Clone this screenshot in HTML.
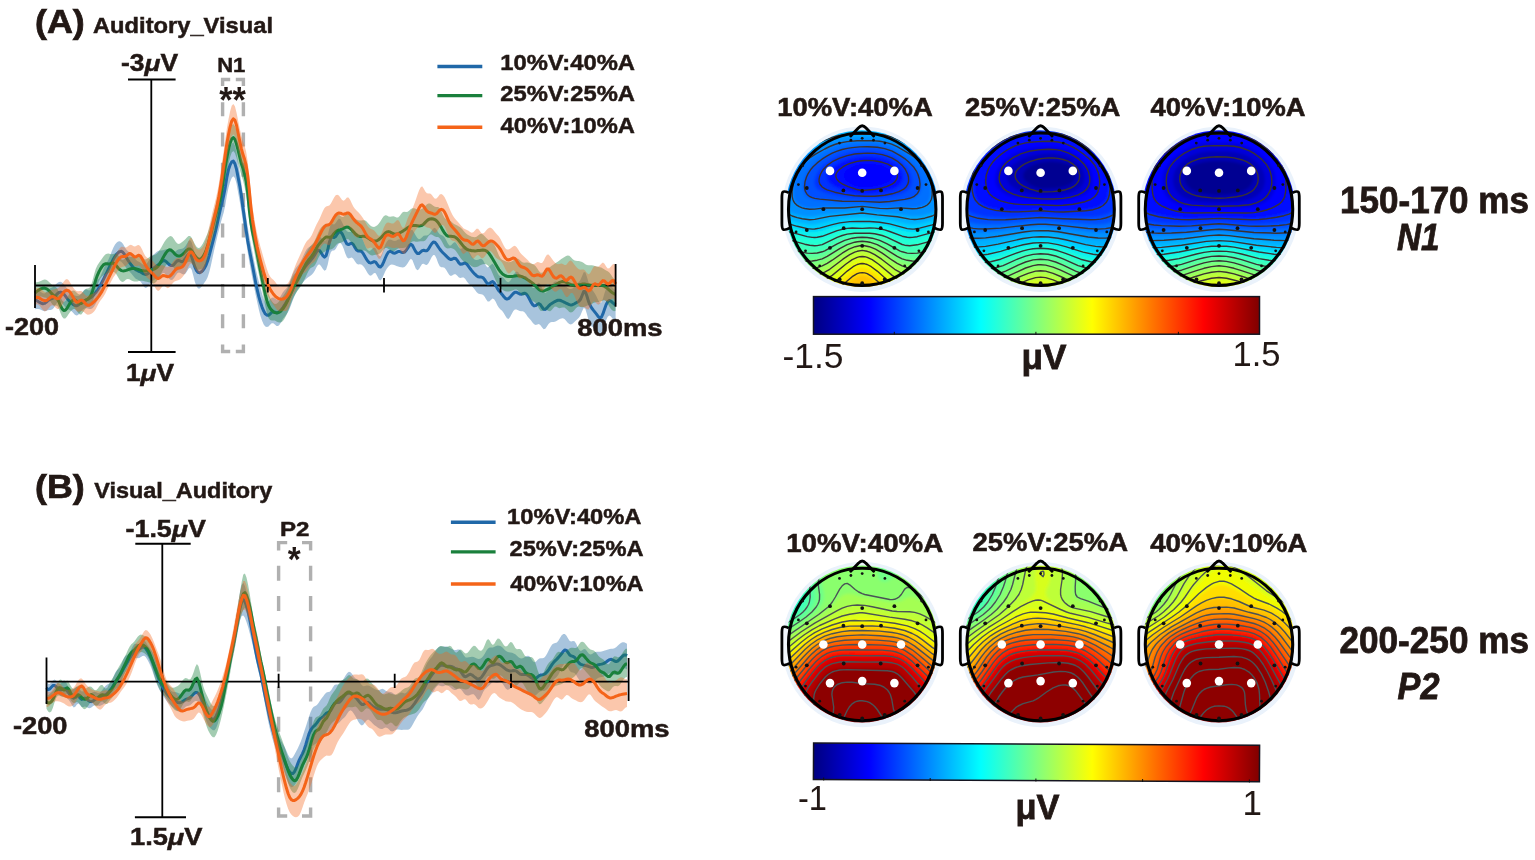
<!DOCTYPE html>
<html><head><meta charset="utf-8"><title>ERP figure</title>
<style>html,body{margin:0;padding:0;background:#fff}svg{display:block}text{font-family:"Liberation Sans",sans-serif}</style>
</head><body>
<svg width="1535" height="860" viewBox="0 0 1535 860">
<rect width="1535" height="860" fill="#fff"/>
<g stroke="#b0b0b0" stroke-width="3.4" fill="none"><path d="M222.6 102.2V116.2M222.6 132.5V146.5M222.6 162.8V176.8M222.6 193.1V207.1M222.6 223.4V237.4M222.6 253.7V267.7M222.6 284V298M222.6 314.3V328.3M243.4 102.2V116.2M243.4 132.5V146.5M243.4 162.8V176.8M243.4 193.1V207.1M243.4 223.4V237.4M243.4 253.7V267.7M243.4 284V298M243.4 314.3V328.3M222.6 85.9V79.5H230.2M243.4 85.9V79.5H235.8M222.6 344.6V351.5H230.2M243.4 344.6V351.5H235.8"/></g>
<g stroke="#b0b0b0" stroke-width="3.4" fill="none"><path d="M278.6 565.8V580.8M278.6 596V611M278.6 626.2V641.2M278.6 656.4V671.4M278.6 686.6V701.6M278.6 716.8V731.8M278.6 747V762M278.6 777.2V792.2M310.6 565.8V580.8M310.6 596V611M310.6 626.2V641.2M310.6 656.4V671.4M310.6 686.6V701.6M310.6 716.8V731.8M310.6 747V762M310.6 777.2V792.2M278.6 550.6V542.6H287.2M310.6 550.6V542.6H302M278.6 807.4V816H287.2M310.6 807.4V816H302"/></g>
<path d="M34.9 292.0l1.6 -0.9 1.6 -0.4 1.6 0.3 1.6 1.2 1.6 1.1 1.6 0.1 1.6 -1.2 1.6 -1.9 1.6 -1.5 1.6 -0.9 1.6 -0.7 1.6 -1.1 1.6 -1.6 1.6 -1.6 1.6 -1 1.6 -0.1 1.6 0.6 1.6 1.5 1.6 2 1.6 2.4 1.6 2.2 1.6 1.9 1.6 1.5 1.6 1.1 1.6 0.6 1.6 0.4 1.6 -0.1 1.6 -0.7 1.6 -1.7 1.6 -2.1 1.6 -1.7 1.6 -0.4 1.6 0.7 1.6 0.5 1.6 -1.2 1.6 -3.1 1.6 -3.4 1.6 -2 1.6 -1 1.6 -1.1 1.6 -2.5 1.6 -3.7 1.6 -3.9 1.6 -3.3 1.6 -2.8 1.6 -3.1 1.6 -3.7 1.6 -4.2 1.6 -3.8 1.6 -3 1.6 -2 1.6 -1.2 1.6 -0.2 1.6 0.7 1.6 1.8 1.6 2.7 1.6 2.7 1.6 1.9 1.6 1.1 1.6 1 1.6 1.8 1.6 2.3 1.6 2.2 1.6 1.5 1.6 0.8 1.6 0.9 1.6 1.2 1.6 1 1.6 0.1 1.6 -1.5 1.6 -2.5 1.6 -2.5 1.6 -2 1.6 -1.7 1.6 -1.4 1.6 -1.3 1.6 -1 1.6 -0.5 1.6 -0.2 1.6 -0.1 1.6 -0.5 1.6 -0.5 1.6 0 1.6 0.7 1.6 1.2 1.6 1 1.6 0.1 1.6 -1 1.6 -1.2 1.6 -0.9 1.6 -0.3 1.6 -0.2 1.6 -0.8 1.6 -1.7 1.6 -2.4 1.6 -2.7 1.6 -1.1 1.6 2.5 1.6 5.4 1.6 5.8 1.6 4.3 1.6 2.4 1.6 0.2 1.6 -2 1.6 -3.3 1.6 -3.6 1.6 -3.2 1.6 -3.2 1.6 -4 1.6 -5.2 1.6 -5.9 1.6 -6.3 1.6 -6.7 1.6 -7.5 1.6 -8.3 1.6 -8.4 1.6 -7.8 1.6 -6.9 1.6 -7.6 1.6 -9 1.6 -7.4 1.6 -5.9 1.6 -4.5 1.6 -1.7 1.6 3.2 1.6 6.9 1.6 10 1.6 9.7 1.6 10.8 1.6 12 1.6 10.6 1.6 10.8 1.6 10.6 1.6 9.4 1.6 8.3 1.6 8.1 1.6 8.3 1.6 7.8 1.6 6.9 1.6 6.3 1.6 6 1.6 5.8 1.6 5.1 1.6 3.1 1.6 0.8 1.6 -1.2 1.6 -2.1 1.6 -1.7 1.6 -0.3 1.6 1.1 1.6 1.1 1.6 -0.2 1.6 -1.7 1.6 -2.7 1.6 -2.7 1.6 -2 1.6 -1.6 1.6 -2.1 1.6 -3.5 1.6 -4.4 1.6 -4.4 1.6 -3.4 1.6 -2.6 1.6 -2.1 1.6 -2 1.6 -2.5 1.6 -3.1 1.6 -3.5 1.6 -3.4 1.6 -2.6 1.6 -1.6 1.6 -1 1.6 -1.1 1.6 -1.5 1.6 -2.4 1.6 -2.7 1.6 -2.1 1.6 -0.1 1.6 1.5 1.6 1.9 1.6 1.1 1.6 -1 1.6 -4.6 1.6 -6.8 1.6 -4.1 1.6 -0.5 1.6 0.3 1.6 -1.3 1.6 -2.7 1.6 -1.9 1.6 0.8 1.6 2.9 1.6 3.6 1.6 3.3 1.6 2.2 1.6 0.8 1.6 -0.1 1.6 0.1 1.6 1.1 1.6 1.6 1.6 1.1 1.6 0.2 1.6 0 1.6 1 1.6 2.9 1.6 4.1 1.6 3.7 1.6 2.3 1.6 0.9 1.6 -0.7 1.6 -1.7 1.6 -1.1 1.6 1.1 1.6 3.5 1.6 3.5 1.6 0.8 1.6 -3 1.6 -4.6 1.6 -4.4 1.6 -3 1.6 -1.6 1.6 -0.4 1.6 0.6 1.6 0.7 1.6 0.2 1.6 -0.5 1.6 -0.8 1.6 -0.4 1.6 0 1.6 0 1.6 -0.5 1.6 -1.3 1.6 -2.3 1.6 -3.1 1.6 -2.2 1.6 0.3 1.6 2.4 1.6 2.9 1.6 2.5 1.6 1.3 1.6 -0.4 1.6 -1.6 1.6 -1.4 1.6 -0.3 1.6 0 1.6 -0.7 1.6 -1.7 1.6 -2.5 1.6 -2.2 1.6 -0.6 1.6 1.7 1.6 2.7 1.6 2.1 1.6 0.8 1.6 0.6 1.6 1.5 1.6 2.9 1.6 3.2 1.6 2.2 1.6 0 1.6 -1.7 1.6 -1.5 1.6 0.3 1.6 2.3 1.6 2.7 1.6 1.3 1.6 -0.7 1.6 -1.5 1.6 -0.7 1.6 1.1 1.6 2.9 1.6 3.4 1.6 3.1 1.6 2.1 1.6 1.2 1.6 0.3 1.6 -0.3 1.6 -0.8 1.6 -0.3 1.6 1.3 1.6 3 1.6 3.1 1.6 1.4 1.6 -0.9 1.6 -1.9 1.6 -0.9 1.6 1.6 1.6 3.4 1.6 3.8 1.6 2.6 1.6 1.2 1.6 0.6 1.6 1.1 1.6 1.9 1.6 1.8 1.6 0.5 1.6 -1.3 1.6 -2.5 1.6 -2.9 1.6 -2.8 1.6 -1.4 1.6 0.7 1.6 2.3 1.6 2 1.6 0.5 1.6 -0.8 1.6 0 1.6 2 1.6 3.6 1.6 3.8 1.6 2.2 1.6 0.2 1.6 -1.9 1.6 -2.3 1.6 -1 1.6 1.7 1.6 3.7 1.6 3.5 1.6 1.4 1.6 -1 1.6 -2.3 1.6 -2.4 1.6 -2.4 1.6 -2.1 1.6 -1.3 1.6 0 1.6 1 1.6 1.1 1.6 0.7 1.6 0.6 1.6 0.8 1.6 1.1 1.6 1.2 1.6 0.9 1.6 0.2 1.6 -0.6 1.6 -1.6 1.6 -2 1.6 -1.6 1.6 -1.4 1.6 -2.1 1.6 -3.7 1.6 -3.8 1.6 0 1.6 4.5 1.6 5.5 1.6 3.9 1.6 2.8 1.6 2.3 1.6 2.3 1.6 2.9 1.6 3.4 1.6 2.7 1.6 -0.2 1.6 -3.7 1.6 -5.4 1.6 -4.9 1.6 -3.3 1.6 -0.8 1.6 1.3 1.6 2.1 1.6 1.9 1.5 0.4 0 31.6 -1.5 -0.9 -1.6 -2.1 -1.6 -2.2 -1.6 -0.9 -1.6 1.2 -1.6 3.6 -1.6 4.8 -1.6 5 -1.6 3.4 -1.6 0.5 -1.6 -1.8 -1.6 -2.1 -1.6 -1.4 -1.6 -1 -1.6 -1.3 -1.6 -2.3 -1.6 -4.1 -1.6 -6 -1.6 -5.3 -1.6 -0.8 -1.6 3.4 -1.6 3.9 -1.6 2.5 -1.6 1.6 -1.6 1.4 -1.6 1.6 -1.6 1.4 -1.6 0.7 -1.6 -0.4 -1.6 -1.3 -1.6 -1.9 -1.6 -1.7 -1.6 -0.8 -1.6 0.1 -1.6 0.7 -1.6 0.9 -1.6 1 -1.6 0.8 -1.6 0.2 -1.6 0 -1.6 0.4 -1.6 1.6 -1.6 2.6 -1.6 2.2 -1.6 0.4 -1.6 -1.7 -1.6 -2.3 -1.6 -1.2 -1.6 0.4 -1.6 0.6 -1.6 -0.7 -1.6 -1.9 -1.6 -2.1 -1.6 -1.7 -1.6 -1.9 -1.6 -2.4 -1.6 -2.1 -1.6 -1 -1.6 0 -1.6 -0.1 -1.6 -0.8 -1.6 -0.9 -1.6 0 -1.6 1.6 -1.6 3 -1.6 3.1 -1.6 1.8 -1.6 -0.6 -1.6 -2.5 -1.6 -2.9 -1.6 -2.1 -1.6 -1.3 -1.6 -1.7 -1.6 -2.6 -1.6 -3.4 -1.6 -2.6 -1.6 -0.6 -1.6 1.3 -1.6 1.6 -1.6 -0.1 -1.6 -2.2 -1.6 -2.7 -1.6 -1.8 -1.6 -0.5 -1.6 -0.2 -1.6 -0.6 -1.6 -1.5 -1.6 -2.1 -1.6 -2.1 -1.6 -1.7 -1.6 -1.1 -1.6 -1.3 -1.6 -2.1 -1.6 -2.6 -1.6 -1.5 -1.6 0 -1.6 0.6 -1.6 -0.5 -1.6 -1.7 -1.6 -1.5 -1.6 0 -1.6 1 -1.6 0.7 -1.6 -0.9 -1.6 -2.5 -1.6 -2.8 -1.6 -2 -1.6 -0.6 -1.6 0 -1.6 -1 -1.6 -3.2 -1.6 -4.4 -1.6 -3.3 -1.6 -0.3 -1.6 2.1 -1.6 3.2 -1.6 3 -1.6 1.8 -1.6 -0.3 -1.6 -1.1 -1.6 0.3 -1.6 2.4 -1.6 2.8 -1.6 1 -1.6 -1.8 -1.6 -4 -1.6 -4.2 -1.6 -1.5 -1.6 1.7 -1.6 2.9 -1.6 2.3 -1.6 1.4 -1.6 0.5 -1.6 -0.2 -1.6 -0.4 -1.6 -0.5 -1.6 -0.5 -1.6 -0.7 -1.6 -0.5 -1.6 -0.2 -1.6 0.6 -1.6 1.3 -1.6 2 -1.6 2.9 -1.6 3.6 -1.6 3.6 -1.6 2 -1.6 -1.1 -1.6 -3.2 -1.6 -2.9 -1.6 -0.4 -1.6 1.5 -1.6 1.3 -1.6 -0.5 -1.6 -2 -1.6 -2.8 -1.6 -2.6 -1.6 -2.1 -1.6 -1.2 -1.6 -0.2 -1.6 0.1 -1.6 -0.9 -1.6 -2.3 -1.6 -2.5 -1.6 -1.1 -1.6 0.5 -1.6 0.5 -1.6 -1.3 -1.6 -3.9 -1.6 -4.7 -1.6 -3.8 -1.6 -1.9 -1.6 0.6 -1.6 2.5 -1.6 2.9 -1.6 1.4 -1.6 0.2 -1.6 1.4 -1.6 5.1 -1.6 7.6 -1.6 5.1 -1.6 0.9 -1.6 -1.6 -1.6 -2.7 -1.6 -1.9 -1.6 0.2 -1.6 2.5 -1.6 3.2 -1.6 2.7 -1.6 1.7 -1.6 1.2 -1.6 1.1 -1.6 1.1 -1.6 1.5 -1.6 1.8 -1.6 2 -1.6 2.3 -1.6 2.3 -1.6 2.5 -1.6 2.9 -1.6 3.5 -1.6 4 -1.6 4.5 -1.6 4.1 -1.6 3.2 -1.6 2.3 -1.6 1.8 -1.6 2.2 -1.6 2.8 -1.6 2.6 -1.6 1.5 -1.6 -0.1 -1.6 -1.3 -1.6 -1.3 -1.6 0 -1.6 1.5 -1.6 1.6 -1.6 0.7 -1.6 -0.6 -1.6 -2.1 -1.6 -3.6 -1.6 -4.9 -1.6 -6.1 -1.6 -7.2 -1.6 -7.7 -1.6 -8 -1.6 -8.1 -1.6 -8.4 -1.6 -8.7 -1.6 -9.5 -1.6 -10.5 -1.6 -10.2 -1.6 -9.7 -1.6 -10.9 -1.6 -9.8 -1.6 -8.7 -1.6 -8.8 -1.6 -5.5 -1.6 -1.9 -1.6 1.7 -1.6 4.1 -1.6 5.8 -1.6 7.8 -1.6 9.6 -1.6 7.4 -1.6 5.5 -1.6 5.6 -1.6 6.2 -1.6 6.7 -1.6 6.8 -1.6 7.1 -1.6 7.5 -1.6 7.5 -1.6 6.6 -1.6 4.8 -1.6 3.3 -1.6 2.4 -1.6 2.3 -1.6 2.2 -1.6 1.4 -1.6 0 -1.6 -2.2 -1.6 -4.4 -1.6 -6.2 -1.6 -5.9 -1.6 -2.4 -1.6 1.4 -1.6 2.8 -1.6 2.1 -1.6 0.8 -1.6 -0.4 -1.6 -1 -1.6 -0.6 -1.6 0.8 -1.6 2.2 -1.6 2.5 -1.6 1.7 -1.6 0.3 -1.6 -0.9 -1.6 -1.9 -1.6 -2.3 -1.6 -1.7 -1.6 -0.1 -1.6 1.5 -1.6 2 -1.6 1.4 -1.6 0.8 -1.6 0.7 -1.6 0.9 -1.6 1.3 -1.6 1.8 -1.6 2.2 -1.6 1.8 -1.6 0.4 -1.6 -1.5 -1.6 -2.6 -1.6 -2.3 -1.6 -1.2 -1.6 -0.7 -1.6 -0.9 -1.6 -1.7 -1.6 -2 -1.6 -1.9 -1.6 -1.7 -1.6 -1.6 -1.6 -2 -1.6 -2.2 -1.6 -2.2 -1.6 -1.6 -1.6 -0.7 -1.6 0.6 -1.6 1.9 -1.6 3.1 -1.6 3.5 -1.6 3.5 -1.6 3 -1.6 2.7 -1.6 2.3 -1.6 2.3 -1.6 2.6 -1.6 3 -1.6 3.4 -1.6 3.7 -1.6 3.7 -1.6 3.4 -1.6 2.7 -1.6 1.7 -1.6 0.8 -1.6 0 -1.6 -0.4 -1.6 -0.3 -1.6 0.2 -1.6 1 -1.6 1.6 -1.6 2 -1.6 1.8 -1.6 0.7 -1.6 -0.9 -1.6 -1.8 -1.6 -1.7 -1.6 -1 -1.6 -0.6 -1.6 -0.9 -1.6 -1.5 -1.6 -1.9 -1.6 -1.9 -1.6 -1.6 -1.6 -0.7 -1.6 1.1 -1.6 2.5 -1.6 2.8 -1.6 1.8 -1.6 0.6 -1.6 0.1 -1.6 0.3 -1.6 0.6 -1.6 0.3 -1.6 -0.4 -1.6 -0.8 -1.6 -0.7 -1.6 -0.4 -1.6 0 -1.6 0.4z" fill="#2068a8" fill-opacity="0.39"/>
<path d="M34.9 300.0l1.6 0.5 1.6 0.9 1.6 1 1.6 0.9 1.6 0.4 1.6 -0.3 1.6 -1.1 1.6 -1.5 1.6 -1.1 1.6 -0.7 1.6 -0.7 1.6 -1.1 1.6 -1.7 1.6 -1.8 1.6 -1.2 1.6 -0.4 1.6 0.4 1.6 1.4 1.6 2 1.6 2.2 1.6 2 1.6 1.6 1.6 1.5 1.6 1.3 1.6 1 1.6 0.3 1.6 -0.6 1.6 -1.4 1.6 -1.4 1.6 -1.1 1.6 -0.7 1.6 -0.6 1.6 -0.6 1.6 -0.8 1.6 -1 1.6 -1.4 1.6 -1.8 1.6 -1.9 1.6 -2.2 1.6 -2.4 1.6 -2.8 1.6 -3.1 1.6 -3.2 1.6 -3.3 1.6 -3.2 1.6 -3.3 1.6 -3.3 1.6 -3.3 1.6 -3.1 1.6 -2.7 1.6 -2.2 1.6 -1.7 1.6 -1.1 1.6 -0.3 1.6 1 1.6 2.1 1.6 2.7 1.6 2.7 1.6 2.4 1.6 2.2 1.6 2.1 1.6 1.7 1.6 1.4 1.6 0.9 1.6 0.8 1.6 0.7 1.6 0.9 1.6 1 1.6 0.5 1.6 -0.2 1.6 -0.9 1.6 -1.3 1.6 -1.6 1.6 -1.7 1.6 -1.5 1.6 -1.1 1.6 -1.1 1.6 -1.4 1.6 -1.6 1.6 -1.2 1.6 -0.2 1.6 0.9 1.6 1.6 1.6 1.5 1.6 0.9 1.6 0 1.6 -1.1 1.6 -2 1.6 -1.6 1.6 -0.3 1.6 0.7 1.6 0.5 1.6 -0.9 1.6 -2 1.6 -2.6 1.6 -2 1.6 -0.2 1.6 2.9 1.6 5.2 1.6 5 1.6 3.5 1.6 1.8 1.6 0.3 1.6 -0.9 1.6 -1.5 1.6 -2.2 1.6 -3.1 1.6 -4.2 1.6 -5.5 1.6 -6.1 1.6 -6.1 1.6 -6.2 1.6 -6.4 1.6 -7.1 1.6 -7.4 1.6 -7.3 1.6 -6.7 1.6 -6.6 1.6 -8.3 1.6 -10 1.6 -7.5 1.6 -4.7 1.6 -3 1.6 -0.8 1.6 2.5 1.6 5.5 1.6 8.3 1.6 8.2 1.6 9.9 1.6 11.9 1.6 11.2 1.6 11.5 1.6 10.6 1.6 8.9 1.6 7.9 1.6 8.2 1.6 8.6 1.6 8.4 1.6 7.5 1.6 6.7 1.6 5.6 1.6 4.8 1.6 3.8 1.6 2.8 1.6 1.3 1.6 0 1.6 -1.2 1.6 -1.6 1.6 -0.5 1.6 0.4 1.6 0.5 1.6 -0.3 1.6 -1.1 1.6 -1.7 1.6 -2.1 1.6 -2.4 1.6 -2.7 1.6 -2.9 1.6 -3.2 1.6 -3.4 1.6 -3.7 1.6 -3.7 1.6 -3.4 1.6 -3 1.6 -2.7 1.6 -2.6 1.6 -2.5 1.6 -2.4 1.6 -2.3 1.6 -2.1 1.6 -1.9 1.6 -1.8 1.6 -1.8 1.6 -2.1 1.6 -2.6 1.6 -2.7 1.6 -1.6 1.6 0.5 1.6 2.4 1.6 2.6 1.6 1.5 1.6 -1.4 1.6 -5.5 1.6 -7.7 1.6 -4.7 1.6 -0.8 1.6 0.5 1.6 -1 1.6 -2.5 1.6 -2.1 1.6 -0.2 1.6 2 1.6 3.5 1.6 3.9 1.6 2.8 1.6 0.7 1.6 -0.9 1.6 -0.5 1.6 1.4 1.6 2.8 1.6 2.6 1.6 1 1.6 0 1.6 0.3 1.6 1.7 1.6 2.7 1.6 2.9 1.6 2.4 1.6 1.6 1.6 0.4 1.6 -0.7 1.6 -0.7 1.6 0.6 1.6 2.2 1.6 2.1 1.6 0.6 1.6 -1.8 1.6 -3.4 1.6 -3.9 1.6 -3.5 1.6 -2.5 1.6 -0.7 1.6 0.7 1.6 1.1 1.6 0.1 1.6 -0.8 1.6 -0.9 1.6 0 1.6 0.7 1.6 0.4 1.6 -0.5 1.6 -1.6 1.6 -2.3 1.6 -2.5 1.6 -1.4 1.6 1.2 1.6 3.1 1.6 3 1.6 1.8 1.6 0.1 1.6 -1.3 1.6 -1.6 1.6 -0.4 1.6 0.6 1.6 -0.1 1.6 -1.8 1.6 -2.7 1.6 -2.5 1.6 -1.6 1.6 0.1 1.6 1.9 1.6 2.6 1.6 2.3 1.6 2 1.6 1.7 1.6 1.6 1.6 1.6 1.6 1.6 1.6 1.4 1.6 0.6 1.6 -0.5 1.6 -0.8 1.6 0.3 1.6 1.9 1.6 2.4 1.6 1.5 1.6 -0.2 1.6 -0.8 1.6 -0.2 1.6 1.2 1.6 2 1.6 2.2 1.6 2.1 1.6 1.9 1.6 1.7 1.6 1.5 1.6 1.1 1.6 0.3 1.6 0 1.6 0.5 1.6 1.8 1.6 2.6 1.6 1.8 1.6 -0.1 1.6 -1.3 1.6 -0.8 1.6 1.1 1.6 2.7 1.6 3 1.6 2.4 1.6 1.8 1.6 1.8 1.6 2.1 1.6 1.8 1.6 0.8 1.6 -0.5 1.6 -1.5 1.6 -1.9 1.6 -1.7 1.6 -1.2 1.6 -0.1 1.6 0.9 1.6 1 1.6 0.2 1.6 -0.6 1.6 -0.5 1.6 0.6 1.6 2.1 1.6 2.9 1.6 3.1 1.6 2.6 1.6 1.4 1.6 -0.3 1.6 -1.3 1.6 -0.7 1.6 1.2 1.6 2.5 1.6 2 1.6 0.1 1.6 -1.4 1.6 -1.9 1.6 -1.5 1.6 -1 1.6 -1 1.6 -1 1.6 -0.9 1.6 -0.5 1.6 0.1 1.6 0.5 1.6 0.7 1.6 0.8 1.6 0.9 1.6 0.7 1.6 0.7 1.6 0.4 1.6 -0.3 1.6 -0.7 1.6 -1 1.6 -0.8 1.6 -0.9 1.6 -2 1.6 -3.8 1.6 -3.9 1.6 -0.1 1.6 4.5 1.6 5.4 1.6 3.9 1.6 2.7 1.6 2.1 1.6 2 1.6 2 1.6 2.2 1.6 1.5 1.6 -0.5 1.6 -3.4 1.6 -4.7 1.6 -4.4 1.6 -3.1 1.6 -1.2 1.6 0.6 1.6 1.4 1.6 1.5 1.5 0.9" fill="none" stroke="#2068a8" stroke-width="3" stroke-linejoin="round"/>
<path d="M34.9 282.8l1.6 -0.5 1.6 -0.3 1.6 -0.5 1.6 -0.8 1.6 -0.8 1.6 -0.4 1.6 0.3 1.6 0.9 1.6 1.5 1.6 1.6 1.6 1.4 1.6 1 1.6 0.7 1.6 1.6 1.6 3.5 1.6 4.8 1.6 3.8 1.6 1.4 1.6 -0.9 1.6 -2.4 1.6 -3.2 1.6 -2.9 1.6 -1.7 1.6 -0.5 1.6 0.6 1.6 1.5 1.6 1.4 1.6 0.7 1.6 -0.7 1.6 -1.8 1.6 -2 1.6 -1.3 1.6 -0.3 1.6 -0.6 1.6 -2.4 1.6 -4.8 1.6 -6.3 1.6 -5.4 1.6 -3.5 1.6 -2.5 1.6 -2.3 1.6 -2.3 1.6 -2.2 1.6 -1.7 1.6 -0.8 1.6 -0.1 1.6 0.4 1.6 0.2 1.6 -0.2 1.6 -0.4 1.6 0.3 1.6 1.4 1.6 2.2 1.6 1.9 1.6 0.5 1.6 -1 1.6 -1.4 1.6 -0.8 1.6 0 1.6 0.3 1.6 -0.2 1.6 -0.7 1.6 -0.6 1.6 -0.2 1.6 0.4 1.6 0.9 1.6 1.2 1.6 1.1 1.6 0.5 1.6 -0.5 1.6 -1.1 1.6 -1.2 1.6 -0.9 1.6 -0.5 1.6 -0.5 1.6 -0.9 1.6 -1.5 1.6 -2.3 1.6 -2.6 1.6 -2.9 1.6 -2.7 1.6 -2.2 1.6 -1.8 1.6 -1.4 1.6 -0.4 1.6 0.9 1.6 2.3 1.6 2.6 1.6 1.7 1.6 0.4 1.6 -0.7 1.6 -1.2 1.6 -1.3 1.6 -1.5 1.6 -1.8 1.6 -1.4 1.6 0 1.6 1.8 1.6 3.2 1.6 3.3 1.6 2.5 1.6 1.2 1.6 -0.2 1.6 -1.7 1.6 -2.6 1.6 -3.3 1.6 -3.4 1.6 -3.9 1.6 -4.6 1.6 -5.5 1.6 -5.9 1.6 -5.9 1.6 -6.4 1.6 -6.7 1.6 -6.7 1.6 -6.2 1.6 -7.6 1.6 -11.3 1.6 -11.6 1.6 -10.3 1.6 -9 1.6 -6.4 1.6 -3.6 1.6 -1.1 1.6 1.8 1.6 4.5 1.6 6.1 1.6 6.9 1.6 7 1.6 5.5 1.6 6.3 1.6 8.4 1.6 12 1.6 16.8 1.6 12.6 1.6 9.6 1.6 8.3 1.6 8 1.6 8 1.6 7.6 1.6 7.3 1.6 7 1.6 7.1 1.6 7.1 1.6 6.6 1.6 5.2 1.6 4 1.6 3.1 1.6 2.2 1.6 1 1.6 -0.3 1.6 -1.3 1.6 -1.9 1.6 -2.1 1.6 -2.3 1.6 -2.2 1.6 -2.4 1.6 -3 1.6 -4 1.6 -4.3 1.6 -3.6 1.6 -2.3 1.6 -1.3 1.6 -1.4 1.6 -2.5 1.6 -3.4 1.6 -3.8 1.6 -3.6 1.6 -3.4 1.6 -3.2 1.6 -2.9 1.6 -2.3 1.6 -1.8 1.6 -1.9 1.6 -2.7 1.6 -3.6 1.6 -3.8 1.6 -3.2 1.6 -2.3 1.6 -1.6 1.6 -1.2 1.6 -0.7 1.6 0.3 1.6 0.5 1.6 -0.5 1.6 -1.9 1.6 -2.7 1.6 -2.9 1.6 -1.8 1.6 -0.1 1.6 1.2 1.6 1.1 1.6 -0.3 1.6 -1.8 1.6 -1.7 1.6 -0.5 1.6 1 1.6 1.8 1.6 1.7 1.6 1.3 1.6 1 1.6 0.7 1.6 0.3 1.6 -0.1 1.6 -0.2 1.6 0 1.6 0.9 1.6 1.6 1.6 1.8 1.6 1.5 1.6 0.8 1.6 0.1 1.6 -0.6 1.6 -1 1.6 -1.7 1.6 -2.4 1.6 -2.7 1.6 -2.3 1.6 -1 1.6 0.4 1.6 0.9 1.6 0.3 1.6 -0.2 1.6 -0.3 1.6 0.5 1.6 0.7 1.6 -0.1 1.6 -1.5 1.6 -2.1 1.6 -1.7 1.6 -0.3 1.6 0.2 1.6 -0.3 1.6 -1.3 1.6 -1.4 1.6 -0.8 1.6 0.1 1.6 0.5 1.6 0.6 1.6 0.2 1.6 -0.2 1.6 -0.7 1.6 -1.2 1.6 -1.6 1.6 -1.6 1.6 -0.9 1.6 0 1.6 1 1.6 1.3 1.6 1 1.6 0.2 1.6 0.2 1.6 1.2 1.6 2.8 1.6 3.6 1.6 3 1.6 1.6 1.6 0.5 1.6 0.4 1.6 1.1 1.6 1.4 1.6 1.2 1.6 0.9 1.6 0.8 1.6 0.9 1.6 1.1 1.6 1.5 1.6 1.8 1.6 1.9 1.6 1.5 1.6 1 1.6 0.8 1.6 0.6 1.6 0.4 1.6 0.2 1.6 -0.5 1.6 -1.2 1.6 -1.3 1.6 -0.5 1.6 0.8 1.6 1.5 1.6 1.7 1.6 1.4 1.6 1.4 1.6 1.1 1.6 1.1 1.6 1.8 1.6 3 1.6 4 1.6 3.9 1.6 2.8 1.6 1.5 1.6 0.7 1.6 0.7 1.6 0.6 1.6 0.4 1.6 -0.1 1.6 -0.5 1.6 -1 1.6 -1.1 1.6 -0.9 1.6 0.1 1.6 1.2 1.6 1.5 1.6 1.1 1.6 0.2 1.6 -0.1 1.6 0 1.6 0.4 1.6 0.5 1.6 0.5 1.6 0.8 1.6 1.4 1.6 2.3 1.6 2.6 1.6 1.7 1.6 0 1.6 -1.3 1.6 -1.7 1.6 -1.2 1.6 -0.9 1.6 -0.8 1.6 -1.1 1.6 -1.1 1.6 -1.1 1.6 -1.1 1.6 -1.1 1.6 -1.1 1.6 -1.2 1.6 -1.1 1.6 -1.1 1.6 -0.9 1.6 -0.5 1.6 0.3 1.6 1.5 1.6 1.8 1.6 1.2 1.6 0.5 1.6 0.1 1.6 0.2 1.6 0.4 1.6 0.6 1.6 1 1.6 1.1 1.6 0.8 1.6 0.2 1.6 0 1.6 0 1.6 0.4 1.6 0.5 1.6 0.4 1.6 0.3 1.6 0.4 1.6 0.4 1.6 1 1.6 1 1.6 0.9 1.6 0.8 1.6 1.1 1.6 2 1.6 2.5 1.6 2.2 1.5 1 0 30.7 -1.5 0.4 -1.6 -0.6 -1.6 -1.6 -1.6 -2.5 -1.6 -2.8 -1.6 -2.4 -1.6 -1.1 -1.6 0.3 -1.6 0.7 -1.6 0.5 -1.6 0.2 -1.6 0.1 -1.6 0.4 -1.6 0.7 -1.6 0.8 -1.6 0.7 -1.6 0.5 -1.6 0.6 -1.6 0.8 -1.6 0.6 -1.6 0.2 -1.6 -0.4 -1.6 -0.4 -1.6 0.4 -1.6 1.6 -1.6 1.9 -1.6 1.5 -1.6 0.6 -1.6 -0.6 -1.6 -1.7 -1.6 -1.5 -1.6 -1.1 -1.6 -0.2 -1.6 0.4 -1.6 0.4 -1.6 -0.5 -1.6 -0.9 -1.6 -0.3 -1.6 1.4 -1.6 2 -1.6 1.4 -1.6 -0.3 -1.6 -1.1 -1.6 -0.4 -1.6 0.7 -1.6 0.9 -1.6 -0.4 -1.6 -2.3 -1.6 -3.1 -1.6 -2.4 -1.6 -1.1 -1.6 -0.7 -1.6 -1.6 -1.6 -2.5 -1.6 -2.1 -1.6 -0.6 -1.6 0.7 -1.6 0.5 -1.6 -1 -1.6 -2.1 -1.6 -1.9 -1.6 -0.9 -1.6 0 -1.6 0.6 -1.6 0.6 -1.6 0.5 -1.6 0.3 -1.6 0 -1.6 -0.3 -1.6 -0.7 -1.6 -1.1 -1.6 -1.6 -1.6 -2 -1.6 -2.5 -1.6 -2.9 -1.6 -3.5 -1.6 -3.8 -1.6 -3.6 -1.6 -2.7 -1.6 -1.7 -1.6 -0.9 -1.6 -0.3 -1.6 0.2 -1.6 0.5 -1.6 0.8 -1.6 0.9 -1.6 0.7 -1.6 0.2 -1.6 -0.3 -1.6 -0.8 -1.6 -1.2 -1.6 -1.2 -1.6 -0.8 -1.6 -0.6 -1.6 -0.8 -1.6 -1.5 -1.6 -2.1 -1.6 -2.5 -1.6 -2.5 -1.6 -2.2 -1.6 -1.5 -1.6 -0.9 -1.6 -0.3 -1.6 0.2 -1.6 0.2 -1.6 -0.4 -1.6 -1.7 -1.6 -2.8 -1.6 -3.1 -1.6 -2.3 -1.6 -1.1 -1.6 -0.2 -1.6 -0.3 -1.6 -1 -1.6 -1 -1.6 0 -1.6 1.5 -1.6 2.3 -1.6 2 -1.6 0.8 -1.6 0.1 -1.6 0 -1.6 0.3 -1.6 0.2 -1.6 -0.1 -1.6 -0.4 -1.6 0.1 -1.6 1 -1.6 1.8 -1.6 1.7 -1.6 1.3 -1.6 0.6 -1.6 0.2 -1.6 -0.1 -1.6 0.1 -1.6 0.5 -1.6 1.1 -1.6 1.1 -1.6 0.5 -1.6 -0.3 -1.6 -0.8 -1.6 -1.2 -1.6 -0.9 -1.6 0 -1.6 1.1 -1.6 1.9 -1.6 1.9 -1.6 1.2 -1.6 0.4 -1.6 0.2 -1.6 0.3 -1.6 0.4 -1.6 -0.1 -1.6 -1 -1.6 -1.6 -1.6 -1.4 -1.6 -0.8 -1.6 0 -1.6 0.3 -1.6 0.1 -1.6 -0.4 -1.6 -1.2 -1.6 -1.6 -1.6 -2.1 -1.6 -2.4 -1.6 -2.3 -1.6 -1.6 -1.6 -0.3 -1.6 0.9 -1.6 1.4 -1.6 1 -1.6 0.4 -1.6 0.2 -1.6 0.9 -1.6 1.7 -1.6 1.9 -1.6 1.4 -1.6 0.7 -1.6 0 -1.6 0.2 -1.6 0.8 -1.6 1.4 -1.6 0.9 -1.6 0.9 -1.6 1.8 -1.6 3.1 -1.6 3.7 -1.6 2.9 -1.6 1.5 -1.6 0.7 -1.6 1.2 -1.6 2.4 -1.6 3.2 -1.6 3.6 -1.6 3.3 -1.6 3 -1.6 2.6 -1.6 2.4 -1.6 2 -1.6 2.3 -1.6 2.8 -1.6 3.5 -1.6 4.1 -1.6 4.3 -1.6 4 -1.6 3.7 -1.6 3 -1.6 2.1 -1.6 1.3 -1.6 0.4 -1.6 -0.3 -1.6 -0.9 -1.6 -0.9 -1.6 -0.1 -1.6 0.2 -1.6 -0.5 -1.6 -2.2 -1.6 -4.9 -1.6 -7.1 -1.6 -7.9 -1.6 -8 -1.6 -7.8 -1.6 -7.6 -1.6 -7.7 -1.6 -8 -1.6 -8.4 -1.6 -8.5 -1.6 -9.3 -1.6 -11.4 -1.6 -15.3 -1.6 -11.1 -1.6 -8.5 -1.6 -6.5 -1.6 -5 -1.6 -5.8 -1.6 -5.6 -1.6 -5.7 -1.6 -4.9 -1.6 -2 -1.6 1.5 -1.6 4.8 -1.6 6.8 -1.6 7.4 -1.6 7.6 -1.6 9.6 -1.6 11.7 -1.6 9.4 -1.6 7.7 -1.6 6.7 -1.6 5.6 -1.6 4.9 -1.6 5 -1.6 5.6 -1.6 6.2 -1.6 6.2 -1.6 5.2 -1.6 3.6 -1.6 1.9 -1.6 0.8 -1.6 0.5 -1.6 0.2 -1.6 -0.5 -1.6 -1.5 -1.6 -2.2 -1.6 -2.3 -1.6 -1.5 -1.6 0 -1.6 1 -1.6 1.2 -1.6 0.9 -1.6 1.2 -1.6 1.6 -1.6 1.7 -1.6 0.9 -1.6 -0.3 -1.6 -1.7 -1.6 -2.2 -1.6 -1.9 -1.6 -0.9 -1.6 0.3 -1.6 1.5 -1.6 2.3 -1.6 2.9 -1.6 3 -1.6 3 -1.6 2.8 -1.6 2.4 -1.6 1.5 -1.6 0.4 -1.6 -0.3 -1.6 -0.5 -1.6 -0.4 -1.6 -0.4 -1.6 -0.3 -1.6 -0.4 -1.6 -0.3 -1.6 0 -1.6 0.2 -1.6 0.4 -1.6 0.1 -1.6 -0.1 -1.6 -0.4 -1.6 -0.8 -1.6 -0.9 -1.6 -0.4 -1.6 0.6 -1.6 1.4 -1.6 1 -1.6 -0.3 -1.6 -1.7 -1.6 -2.7 -1.6 -2.6 -1.6 -2 -1.6 -0.7 -1.6 0.3 -1.6 0.6 -1.6 0.5 -1.6 0.3 -1.6 0.4 -1.6 0.9 -1.6 1.3 -1.6 2 -1.6 3 -1.6 4.5 -1.6 5.4 -1.6 5.8 -1.6 5 -1.6 3 -1.6 1.3 -1.6 0.6 -1.6 1 -1.6 2.1 -1.6 2.7 -1.6 1.9 -1.6 0 -1.6 -1.8 -1.6 -2.3 -1.6 -1.3 -1.6 0 -1.6 1.1 -1.6 1.7 -1.6 2.4 -1.6 2.5 -1.6 1.7 -1.6 0.1 -1.6 -1.8 -1.6 -3.8 -1.6 -4.2 -1.6 -2.7 -1.6 -0.6 -1.6 -0.1 -1.6 -1 -1.6 -2.2 -1.6 -2.3 -1.6 -1.6 -1.6 -0.6 -1.6 -0.2 -1.6 -0.4 -1.6 -0.5 -1.6 0 -1.6 1.1 -1.6 1.9 -1.6 2.2z" fill="#1a803c" fill-opacity="0.40"/>
<path d="M34.9 293.0l1.6 -1.4 1.6 -1.2 1.6 -1 1.6 -0.8 1.6 -0.4 1.6 -0.1 1.6 0.5 1.6 0.9 1.6 1.5 1.6 1.7 1.6 1.7 1.6 1.4 1.6 1.1 1.6 1.8 1.6 3 1.6 4 1.6 3.2 1.6 1.5 1.6 -0.2 1.6 -1.7 1.6 -2.7 1.6 -2.8 1.6 -1.9 1.6 -1 1.6 0 1.6 1 1.6 1.3 1.6 1 1.6 0 1.6 -0.9 1.6 -1.3 1.6 -1.3 1.6 -1 1.6 -1.3 1.6 -2.3 1.6 -4.1 1.6 -5.5 1.6 -5.6 1.6 -4.5 1.6 -3.7 1.6 -3 1.6 -2.5 1.6 -1.8 1.6 -0.8 1.6 0 1.6 0.2 1.6 -0.2 1.6 -0.5 1.6 -0.2 1.6 0.9 1.6 1.9 1.6 2.1 1.6 1.6 1.6 1 1.6 0.3 1.6 -0.1 1.6 -0.4 1.6 -0.6 1.6 -0.6 1.6 -0.4 1.6 -0.2 1.6 -0.1 1.6 0.2 1.6 0.4 1.6 0.5 1.6 0.5 1.6 0.4 1.6 0.3 1.6 0.1 1.6 -0.2 1.6 -0.3 1.6 -0.4 1.6 -0.3 1.6 -0.3 1.6 -0.6 1.6 -1 1.6 -1.6 1.6 -2.4 1.6 -2.7 1.6 -3.1 1.6 -2.9 1.6 -2.5 1.6 -1.9 1.6 -0.9 1.6 0.2 1.6 1.3 1.6 1.8 1.6 1.7 1.6 1 1.6 0.2 1.6 -0.3 1.6 -0.9 1.6 -1.3 1.6 -1.7 1.6 -1.7 1.6 -1.2 1.6 0.2 1.6 1.7 1.6 2.4 1.6 2.6 1.6 2 1.6 1.2 1.6 0.3 1.6 -0.8 1.6 -1.8 1.6 -2.7 1.6 -3.7 1.6 -4.7 1.6 -5.9 1.6 -6.4 1.6 -6.5 1.6 -6 1.6 -5.5 1.6 -5.6 1.6 -6.1 1.6 -6.5 1.6 -8.4 1.6 -11.4 1.6 -10.7 1.6 -9 1.6 -8.1 1.6 -6.4 1.6 -4.1 1.6 -1.4 1.6 1.7 1.6 4.7 1.6 6.1 1.6 6.7 1.6 6.6 1.6 4.7 1.6 5.3 1.6 7.7 1.6 11.8 1.6 17.1 1.6 12.8 1.6 9.1 1.6 7.3 1.6 7.4 1.6 8.1 1.6 8.3 1.6 8.3 1.6 8 1.6 7.7 1.6 7.3 1.6 6.4 1.6 4.5 1.6 3 1.6 2 1.6 1.5 1.6 0.9 1.6 0.3 1.6 -0.2 1.6 -0.7 1.6 -1.4 1.6 -1.8 1.6 -2.3 1.6 -2.8 1.6 -3.2 1.6 -3.5 1.6 -3.7 1.6 -3.7 1.6 -3.4 1.6 -3 1.6 -2.7 1.6 -2.8 1.6 -3 1.6 -3.3 1.6 -3.2 1.6 -3.1 1.6 -2.8 1.6 -2.3 1.6 -1.9 1.6 -1.9 1.6 -2.3 1.6 -2.9 1.6 -3 1.6 -2.6 1.6 -2 1.6 -1.8 1.6 -1.8 1.6 -1.6 1.6 -1.1 1.6 0 1.6 0.3 1.6 -0.4 1.6 -1.5 1.6 -2 1.6 -1.8 1.6 -1.1 1.6 -0.6 1.6 -0.3 1.6 -0.6 1.6 -0.9 1.6 -0.8 1.6 -0.4 1.6 0.3 1.6 1.1 1.6 1.5 1.6 1.7 1.6 1.7 1.6 1.5 1.6 1.1 1.6 0.5 1.6 0 1.6 -0.2 1.6 0 1.6 0.5 1.6 1 1.6 1.1 1.6 1.1 1.6 0.8 1.6 0.4 1.6 0 1.6 -0.5 1.6 -1.1 1.6 -1.3 1.6 -1.7 1.6 -1.7 1.6 -1.7 1.6 -1.1 1.6 -0.4 1.6 0.4 1.6 0.9 1.6 0.8 1.6 0.5 1.6 -0.1 1.6 -0.5 1.6 -0.7 1.6 -0.9 1.6 -0.9 1.6 -1 1.6 -1.2 1.6 -1.1 1.6 -1 1.6 -0.8 1.6 -0.4 1.6 -0.1 1.6 0.1 1.6 0.2 1.6 0.2 1.6 -0.2 1.6 -0.5 1.6 -1.2 1.6 -1.7 1.6 -1.7 1.6 -1.2 1.6 -0.6 1.6 -0.2 1.6 0.3 1.6 0.6 1.6 1.1 1.6 1.8 1.6 2.4 1.6 2.7 1.6 2.8 1.6 2.6 1.6 1.9 1.6 1.1 1.6 0.3 1.6 0 1.6 0.1 1.6 0.3 1.6 0.8 1.6 1.2 1.6 1.8 1.6 2 1.6 2.1 1.6 2.1 1.6 1.5 1.6 1.1 1.6 0.6 1.6 0.4 1.6 0.4 1.6 0.1 1.6 0.1 1.6 -0.1 1.6 -0.2 1.6 -0.2 1.6 -0.2 1.6 -0.1 1.6 0.1 1.6 0.6 1.6 1.2 1.6 1.8 1.6 2.3 1.6 2.6 1.6 2.7 1.6 2.9 1.6 2.7 1.6 2.6 1.6 2.2 1.6 1.8 1.6 1.2 1.6 0.9 1.6 0.5 1.6 0.3 1.6 0.1 1.6 -0.1 1.6 -0.2 1.6 -0.3 1.6 -0.2 1.6 0 1.6 0.2 1.6 0.4 1.6 0.6 1.6 0.8 1.6 0.9 1.6 1.1 1.6 1 1.6 1.1 1.6 1.2 1.6 1.4 1.6 1.7 1.6 1.7 1.6 1.6 1.6 1 1.6 0.4 1.6 0 1.6 -0.5 1.6 -0.7 1.6 -0.8 1.6 -1 1.6 -1 1.6 -0.9 1.6 -1 1.6 -0.9 1.6 -0.9 1.6 -0.8 1.6 -0.6 1.6 -0.2 1.6 0.3 1.6 0.5 1.6 0.8 1.6 0.7 1.6 0.6 1.6 0.4 1.6 0.2 1.6 0.1 1.6 -0.2 1.6 -0.3 1.6 -0.3 1.6 -0.3 1.6 -0.1 1.6 0.1 1.6 0.3 1.6 0.3 1.6 0.3 1.6 0.2 1.6 0.1 1.6 -0.1 1.6 -0.1 1.6 0 1.6 0 1.6 0.2 1.6 0.4 1.6 0.7 1.6 1 1.6 1.3 1.6 1.4 1.6 1.4 1.6 1.3 1.6 1 1.5 0.6" fill="none" stroke="#1a803c" stroke-width="3" stroke-linejoin="round"/>
<path d="M34.9 289.7l1.6 -1.4 1.6 -0.4 1.6 0.3 1.6 1.1 1.6 1.4 1.6 1.2 1.6 0.6 1.6 -0.3 1.6 -0.9 1.6 -1 1.6 -0.6 1.6 -0.3 1.6 -0.4 1.6 -0.6 1.6 -0.9 1.6 -1.5 1.6 -1.9 1.6 -2.4 1.6 -1.9 1.6 -0.7 1.6 1 1.6 2.4 1.6 2.8 1.6 2.5 1.6 2 1.6 1.2 1.6 0.2 1.6 -0.3 1.6 0.1 1.6 1.3 1.6 1.9 1.6 1.5 1.6 0.3 1.6 -0.7 1.6 -0.9 1.6 -0.7 1.6 -0.6 1.6 -1 1.6 -1.8 1.6 -2.5 1.6 -3.5 1.6 -3.9 1.6 -3.5 1.6 -2.7 1.6 -2.1 1.6 -2.5 1.6 -3.4 1.6 -3.9 1.6 -3.8 1.6 -3.1 1.6 -2.5 1.6 -2.5 1.6 -2.2 1.6 -1.4 1.6 0 1.6 0.7 1.6 0.1 1.6 -1 1.6 -1.3 1.6 -0.5 1.6 0.7 1.6 0.9 1.6 -0.2 1.6 -0.9 1.6 -0.3 1.6 1.5 1.6 3.1 1.6 3.5 1.6 2.8 1.6 1.7 1.6 1 1.6 0.7 1.6 1 1.6 1.3 1.6 1.9 1.6 1.6 1.6 0.9 1.6 -0.3 1.6 -0.5 1.6 0 1.6 0.7 1.6 0.9 1.6 0.3 1.6 -0.9 1.6 -1.7 1.6 -2.2 1.6 -2 1.6 -1.5 1.6 -0.7 1.6 -0.1 1.6 -0.3 1.6 -1.2 1.6 -2.3 1.6 -3.6 1.6 -4.6 1.6 -4.8 1.6 -3.2 1.6 0.2 1.6 3.3 1.6 4.1 1.6 2.9 1.6 1.1 1.6 -0.2 1.6 -0.9 1.6 -1.7 1.6 -3.1 1.6 -4.6 1.6 -6.1 1.6 -6.8 1.6 -7 1.6 -6.9 1.6 -6.6 1.6 -6.4 1.6 -7.2 1.6 -8.6 1.6 -10.4 1.6 -11 1.6 -11.1 1.6 -11.7 1.6 -11 1.6 -9 1.6 -7.8 1.6 -5.7 1.6 -1.9 1.6 2.4 1.6 6.1 1.6 8.2 1.6 7.8 1.6 7 1.6 5.7 1.6 4.4 1.6 6.1 1.6 10.1 1.6 15 1.6 17.4 1.6 13 1.6 10.1 1.6 9.4 1.6 7.9 1.6 6.5 1.6 5.9 1.6 5.7 1.6 5.7 1.6 5.5 1.6 5.2 1.6 4.4 1.6 3.1 1.6 1.9 1.6 1.4 1.6 1.7 1.6 2.2 1.6 1.8 1.6 0.9 1.6 -0.1 1.6 -0.5 1.6 -0.5 1.6 -0.6 1.6 -1.3 1.6 -2.4 1.6 -3.6 1.6 -4.1 1.6 -4.3 1.6 -4.2 1.6 -3.8 1.6 -3.5 1.6 -3.4 1.6 -3.6 1.6 -3.7 1.6 -3.3 1.6 -2.4 1.6 -1.7 1.6 -1.7 1.6 -2.5 1.6 -3.5 1.6 -3.8 1.6 -3.3 1.6 -3.1 1.6 -3.1 1.6 -3.7 1.6 -3.7 1.6 -3.1 1.6 -1.5 1.6 -0.4 1.6 -0.6 1.6 -1.9 1.6 -2.9 1.6 -3.1 1.6 -2.2 1.6 -0.6 1.6 0.8 1.6 2.3 1.6 2.3 1.6 0.7 1.6 -1.3 1.6 -1.9 1.6 -0.2 1.6 2.3 1.6 3.6 1.6 3.3 1.6 2.2 1.6 1.6 1.6 1.6 1.6 1.8 1.6 1.9 1.6 2.2 1.6 2.7 1.6 3 1.6 2.6 1.6 1.8 1.6 1 1.6 0.6 1.6 1 1.6 1.6 1.6 2.2 1.6 1.5 1.6 -0.7 1.6 -3.2 1.6 -4.2 1.6 -3.3 1.6 -1.7 1.6 -0.3 1.6 0.5 1.6 0.6 1.6 -0.1 1.6 -1.3 1.6 -1.7 1.6 -0.6 1.6 2.2 1.6 3.7 1.6 2.3 1.6 -1.2 1.6 -4 1.6 -4.6 1.6 -3.4 1.6 -2.9 1.6 -3.4 1.6 -4.1 1.6 -4.6 1.6 -4.7 1.6 -4.4 1.6 -3.4 1.6 -1.1 1.6 2.2 1.6 2.9 1.6 1.8 1.6 0.2 1.6 0.1 1.6 1.2 1.6 2.3 1.6 1.7 1.6 -0.1 1.6 -1.9 1.6 -2.1 1.6 -0.6 1.6 1 1.6 2.1 1.6 3.1 1.6 3.7 1.6 4.1 1.6 3.7 1.6 3.2 1.6 2.5 1.6 2.1 1.6 1.7 1.6 1.8 1.6 1.9 1.6 1.9 1.6 1.6 1.6 0.9 1.6 0.7 1.6 0.7 1.6 1.2 1.6 0.8 1.6 -0.4 1.6 -1.8 1.6 -1.8 1.6 0 1.6 2 1.6 2.2 1.6 0.7 1.6 -1 1.6 -2 1.6 -1.8 1.6 -1 1.6 0 1.6 1.2 1.6 2 1.6 2 1.6 1.8 1.6 1.8 1.6 2.4 1.6 3.2 1.6 3.4 1.6 2.6 1.6 1.3 1.6 0.1 1.6 -0.8 1.6 -1.3 1.6 -1.3 1.6 -0.5 1.6 1.2 1.6 2.4 1.6 2.7 1.6 2 1.6 1.5 1.6 1.4 1.6 1.5 1.6 1.7 1.6 1.6 1.6 1.6 1.6 0.9 1.6 -0.2 1.6 -1 1.6 -0.9 1.6 0.2 1.6 0.8 1.6 -0.1 1.6 -2.2 1.6 -3.5 1.6 -2.6 1.6 -0.3 1.6 1.9 1.6 2.3 1.6 2.1 1.6 1.7 1.6 1.4 1.6 0.5 1.6 -0.3 1.6 -0.4 1.6 0.5 1.6 0.9 1.6 -0.1 1.6 -1.9 1.6 -1.9 1.6 -0.5 1.6 1.4 1.6 2.2 1.6 2 1.6 1.8 1.6 1.3 1.6 0.5 1.6 -0.2 1.6 0 1.6 1.2 1.6 2.2 1.6 1.3 1.6 -1.1 1.6 -3 1.6 -2.9 1.6 -1.2 1.6 0.4 1.6 0.3 1.6 -1.2 1.6 -1.9 1.6 -1.1 1.6 1.2 1.6 2.6 1.6 2.1 1.6 -0.2 1.6 -1.8 1.6 -2.1 1.6 -0.6 1.5 2.3 0 36.1 -1.5 -3.1 -1.6 -0.7 -1.6 1 -1.6 1.5 -1.6 0.8 -1.6 -0.7 -1.6 -1.1 -1.6 0 -1.6 1.9 -1.6 2.2 -1.6 0.8 -1.6 -1.2 -1.6 -1.9 -1.6 -0.2 -1.6 2.2 -1.6 3.6 -1.6 2.1 -1.6 -0.1 -1.6 -1.5 -1.6 -0.9 -1.6 -0.1 -1.6 -0.1 -1.6 -1.3 -1.6 -2.8 -1.6 -3.7 -1.6 -3.6 -1.6 -2.2 -1.6 -0.1 -1.6 1.9 -1.6 2 -1.6 0.1 -1.6 -2.3 -1.6 -3.2 -1.6 -2.3 -1.6 -0.1 -1.6 1.2 -1.6 1.3 -1.6 0.2 -1.6 -1 -1.6 -2.1 -1.6 -2.7 -1.6 -2.1 -1.6 0.2 -1.6 2.5 -1.6 3.2 -1.6 1.5 -1.6 -0.9 -1.6 -2.1 -1.6 -1.7 -1.6 -0.4 -1.6 0 -1.6 -0.5 -1.6 -1.1 -1.6 -1.3 -1.6 -1.4 -1.6 -1.6 -1.6 -1.6 -1.6 -0.7 -1.6 0.3 -1.6 0.3 -1.6 -1.4 -1.6 -3 -1.6 -3 -1.6 -1.1 -1.6 1.2 -1.6 1.8 -1.6 0.5 -1.6 -1.5 -1.6 -3.1 -1.6 -3.5 -1.6 -2.9 -1.6 -1.9 -1.6 -1 -1.6 -0.9 -1.6 -1.3 -1.6 -2.2 -1.6 -2.4 -1.6 -1.7 -1.6 -0.2 -1.6 1.3 -1.6 2.1 -1.6 2.3 -1.6 1.5 -1.6 -0.3 -1.6 -1.6 -1.6 -1.3 -1.6 0.4 -1.6 1.9 -1.6 1.4 -1.6 -1 -1.6 -2.8 -1.6 -2.7 -1.6 -0.7 -1.6 1.3 -1.6 1.2 -1.6 -0.9 -1.6 -3 -1.6 -3.8 -1.6 -2.9 -1.6 -1.7 -1.6 -0.7 -1.6 -0.3 -1.6 -0.9 -1.6 -2.2 -1.6 -3.6 -1.6 -4 -1.6 -3.4 -1.6 -1.6 -1.6 0.2 -1.6 1.9 -1.6 2.7 -1.6 2.4 -1.6 0.7 -1.6 -1.2 -1.6 -2 -1.6 -1.4 -1.6 -0.5 -1.6 -0.4 -1.6 -0.9 -1.6 -0.9 -1.6 -0.2 -1.6 0.1 -1.6 0.8 -1.6 1.5 -1.6 2 -1.6 2.8 -1.6 3.5 -1.6 4 -1.6 4.4 -1.6 4.2 -1.6 3.4 -1.6 1.7 -1.6 -0.3 -1.6 -2 -1.6 -2.3 -1.6 -1.5 -1.6 -0.2 -1.6 0.4 -1.6 0.1 -1.6 -0.3 -1.6 -0.5 -1.6 -0.6 -1.6 -0.1 -1.6 1.1 -1.6 3.1 -1.6 4.3 -1.6 3.4 -1.6 0.5 -1.6 -2.1 -1.6 -3 -1.6 -3.1 -1.6 -2.4 -1.6 -0.9 -1.6 0.6 -1.6 0.7 -1.6 -1.2 -1.6 -3.6 -1.6 -4.2 -1.6 -2.7 -1.6 -0.4 -1.6 0.6 -1.6 0.3 -1.6 -0.9 -1.6 -2.1 -1.6 -3.2 -1.6 -3.4 -1.6 -2.3 -1.6 -0.4 -1.6 0.9 -1.6 1.1 -1.6 0.5 -1.6 0.2 -1.6 0.4 -1.6 1 -1.6 1.9 -1.6 3.1 -1.6 4.3 -1.6 4.3 -1.6 2.3 -1.6 -0.3 -1.6 -1.1 -1.6 -0.4 -1.6 1 -1.6 2.2 -1.6 3.5 -1.6 4.2 -1.6 4.1 -1.6 2.9 -1.6 1.4 -1.6 1 -1.6 1.7 -1.6 2.5 -1.6 2.6 -1.6 1.7 -1.6 1.1 -1.6 1.8 -1.6 3.3 -1.6 4.6 -1.6 4.4 -1.6 3.1 -1.6 2.5 -1.6 3.2 -1.6 4.7 -1.6 5 -1.6 3.7 -1.6 1.4 -1.6 0.1 -1.6 -0.1 -1.6 0.2 -1.6 0.2 -1.6 -0.7 -1.6 -1.5 -1.6 -2.1 -1.6 -2.3 -1.6 -2.3 -1.6 -2.6 -1.6 -2.8 -1.6 -3.4 -1.6 -4.2 -1.6 -5.2 -1.6 -6 -1.6 -6.3 -1.6 -6.4 -1.6 -6.7 -1.6 -7.7 -1.6 -8.7 -1.6 -9.3 -1.6 -13.1 -1.6 -18.1 -1.6 -15.7 -1.6 -10.4 -1.6 -5.4 -1.6 -3.4 -1.6 -4.7 -1.6 -6.3 -1.6 -7.4 -1.6 -7.5 -1.6 -5.3 -1.6 -1.6 -1.6 1.9 -1.6 5.3 -1.6 7.5 -1.6 9 -1.6 11 -1.6 11 -1.6 9.2 -1.6 8.8 -1.6 9.1 -1.6 9 -1.6 8.2 -1.6 7.1 -1.6 6 -1.6 5.6 -1.6 6.2 -1.6 7.2 -1.6 6.9 -1.6 5.6 -1.6 3.4 -1.6 1.6 -1.6 -0.1 -1.6 -1.1 -1.6 -2 -1.6 -2.5 -1.6 -2.8 -1.6 -1.9 -1.6 0.3 -1.6 2.6 -1.6 3.6 -1.6 3.3 -1.6 2.3 -1.6 1.8 -1.6 1.6 -1.6 1.1 -1.6 0.5 -1.6 0.4 -1.6 0.8 -1.6 1.7 -1.6 2.2 -1.6 1.9 -1.6 0.6 -1.6 -1 -1.6 -1.2 -1.6 0 -1.6 1.8 -1.6 2.3 -1.6 0.9 -1.6 -1.2 -1.6 -2.6 -1.6 -2.9 -1.6 -2.4 -1.6 -1.9 -1.6 -1.3 -1.6 -1.3 -1.6 -1.9 -1.6 -2.7 -1.6 -3.2 -1.6 -2.8 -1.6 -1.2 -1.6 0.3 -1.6 0.4 -1.6 -0.8 -1.6 -1.8 -1.6 -1.4 -1.6 0.2 -1.6 1.6 -1.6 1.7 -1.6 0.8 -1.6 0.1 -1.6 0.5 -1.6 1.4 -1.6 2 -1.6 2.3 -1.6 2.3 -1.6 2.4 -1.6 2.8 -1.6 3.1 -1.6 3.2 -1.6 3.4 -1.6 3.3 -1.6 2.8 -1.6 2.3 -1.6 2 -1.6 2.5 -1.6 3.1 -1.6 3.1 -1.6 2.4 -1.6 1.4 -1.6 1 -1.6 0.6 -1.6 0.1 -1.6 -0.8 -1.6 -1.3 -1.6 -1.1 -1.6 -0.4 -1.6 0.4 -1.6 0.2 -1.6 -0.8 -1.6 -2.4 -1.6 -3.2 -1.6 -3.1 -1.6 -2.4 -1.6 -1.4 -1.6 0 -1.6 1.4 -1.6 2.4 -1.6 2.9 -1.6 2.5 -1.6 1.5 -1.6 0 -1.6 -1.3 -1.6 -1.7 -1.6 -0.9 -1.6 0.6 -1.6 1.7 -1.6 2.1 -1.6 1.5 -1.6 0.2 -1.6 -1.3 -1.6 -2.1 -1.6 -2.1 -1.6 -1.3 -1.6 -0.2 -1.6 0.9z" fill="#f56419" fill-opacity="0.36"/>
<path d="M34.9 297.7l1.6 -0.5 1.6 0.2 1.6 0.8 1.6 1 1.6 0.9 1.6 0.6 1.6 -0.1 1.6 -0.9 1.6 -1.4 1.6 -1.3 1.6 -0.5 1.6 0.6 1.6 1.1 1.6 0.6 1.6 -0.4 1.6 -1.7 1.6 -2.3 1.6 -2.2 1.6 -1.5 1.6 -0.5 1.6 0.4 1.6 1.6 1.6 2.4 1.6 3 1.6 2.9 1.6 1.7 1.6 -0.2 1.6 -1.2 1.6 -0.8 1.6 0.7 1.6 1.7 1.6 1.8 1.6 1.1 1.6 -0.1 1.6 -0.9 1.6 -1.3 1.6 -1.4 1.6 -1.6 1.6 -1.8 1.6 -2.1 1.6 -2.4 1.6 -2.6 1.6 -3 1.6 -3.2 1.6 -3.3 1.6 -3.2 1.6 -3.3 1.6 -3.2 1.6 -3.3 1.6 -3.2 1.6 -3 1.6 -2.6 1.6 -1.9 1.6 -1.1 1.6 -0.2 1.6 0 1.6 -0.6 1.6 -1.3 1.6 -1.1 1.6 0.2 1.6 1.4 1.6 1.5 1.6 0.2 1.6 -1 1.6 -0.7 1.6 0.9 1.6 2.5 1.6 3.2 1.6 3 1.6 2.6 1.6 2.1 1.6 1.6 1.6 1.5 1.6 1.6 1.6 1.9 1.6 1.7 1.6 0.8 1.6 -0.7 1.6 -1.3 1.6 -1 1.6 0.1 1.6 0.6 1.6 0.4 1.6 -0.3 1.6 -1.1 1.6 -1.8 1.6 -2.1 1.6 -1.9 1.6 -1.2 1.6 -0.4 1.6 -0.2 1.6 -0.7 1.6 -1.8 1.6 -2.8 1.6 -3.7 1.6 -4 1.6 -2.7 1.6 0 1.6 2.3 1.6 3.1 1.6 2.3 1.6 1.1 1.6 0.1 1.6 -0.5 1.6 -1.4 1.6 -2.7 1.6 -4.4 1.6 -5.7 1.6 -6.7 1.6 -7.1 1.6 -7.2 1.6 -7 1.6 -6.6 1.6 -7 1.6 -8.3 1.6 -9.8 1.6 -10.4 1.6 -10.5 1.6 -11.5 1.6 -10.8 1.6 -8.8 1.6 -7.7 1.6 -5.7 1.6 -2.3 1.6 1.3 1.6 5.2 1.6 7.7 1.6 7.9 1.6 7.4 1.6 6 1.6 4.7 1.6 6.2 1.6 10 1.6 14.8 1.6 17.1 1.6 12.8 1.6 9.7 1.6 9.3 1.6 8.2 1.6 7 1.6 6.4 1.6 6 1.6 5.7 1.6 5.1 1.6 4.5 1.6 3.9 1.6 3.3 1.6 2.7 1.6 2.3 1.6 1.8 1.6 1.5 1.6 1 1.6 0.7 1.6 0.2 1.6 -0.1 1.6 -0.7 1.6 -1.2 1.6 -1.9 1.6 -2.8 1.6 -3.5 1.6 -4 1.6 -4.1 1.6 -4 1.6 -3.9 1.6 -3.6 1.6 -3.3 1.6 -2.9 1.6 -2.7 1.6 -2.4 1.6 -2.2 1.6 -1.9 1.6 -2 1.6 -2.1 1.6 -2.5 1.6 -2.8 1.6 -3.1 1.6 -3.2 1.6 -3.3 1.6 -3.2 1.6 -2.9 1.6 -2.3 1.6 -1.3 1.6 -0.3 1.6 -0.5 1.6 -1.5 1.6 -2.6 1.6 -2.9 1.6 -2.4 1.6 -1.5 1.6 -0.6 1.6 0.2 1.6 0.7 1.6 0.3 1.6 -0.4 1.6 -0.7 1.6 -0.1 1.6 1.2 1.6 2.2 1.6 2.4 1.6 2 1.6 1.6 1.6 1.3 1.6 1.2 1.6 1.5 1.6 2.2 1.6 3 1.6 3 1.6 2.3 1.6 1.3 1.6 0.9 1.6 1.2 1.6 1.9 1.6 2.2 1.6 2.3 1.6 1.5 1.6 -0.9 1.6 -3.4 1.6 -4.2 1.6 -3.3 1.6 -1.5 1.6 -0.1 1.6 0.7 1.6 0.8 1.6 0.2 1.6 -0.8 1.6 -1.4 1.6 -0.6 1.6 1.7 1.6 3 1.6 2.3 1.6 -0.4 1.6 -2.9 1.6 -4.1 1.6 -4.2 1.6 -4 1.6 -3.7 1.6 -3.3 1.6 -3.2 1.6 -3.2 1.6 -3.4 1.6 -2.6 1.6 -0.8 1.6 1.5 1.6 2.5 1.6 2.2 1.6 1.1 1.6 0.5 1.6 0.5 1.6 0.8 1.6 0.4 1.6 -0.7 1.6 -1.8 1.6 -1.8 1.6 -0.8 1.6 0.6 1.6 2 1.6 3.2 1.6 3.8 1.6 3.6 1.6 2.8 1.6 2 1.6 1.7 1.6 1.8 1.6 2 1.6 2 1.6 2.1 1.6 1.8 1.6 1.1 1.6 0.4 1.6 0.1 1.6 0.7 1.6 1.5 1.6 1.5 1.6 0.3 1.6 -1.3 1.6 -1.6 1.6 -0.4 1.6 1.6 1.6 2.1 1.6 1.1 1.6 -0.3 1.6 -1.3 1.6 -1.5 1.6 -1.2 1.6 -0.6 1.6 0.3 1.6 1 1.6 1.6 1.6 1.7 1.6 1.8 1.6 2.2 1.6 2.9 1.6 3 1.6 2.6 1.6 1.5 1.6 0.5 1.6 -0.5 1.6 -0.9 1.6 -0.6 1.6 0.4 1.6 2 1.6 2.8 1.6 2.3 1.6 1.3 1.6 0.5 1.6 0.5 1.6 0.9 1.6 1.3 1.6 1.8 1.6 2 1.6 1.5 1.6 0.5 1.6 -0.5 1.6 -0.6 1.6 0.3 1.6 0.9 1.6 0.3 1.6 -1.6 1.6 -3 1.6 -2.5 1.6 -0.1 1.6 2.1 1.6 2.9 1.6 2.5 1.6 1.4 1.6 0.3 1.6 -1 1.6 -1.2 1.6 -0.2 1.6 1.4 1.6 2.2 1.6 1.1 1.6 -0.9 1.6 -1.7 1.6 -0.9 1.6 1.1 1.6 2.5 1.6 2.9 1.6 2.7 1.6 1.9 1.6 0.5 1.6 -0.6 1.6 -0.7 1.6 0.5 1.6 1.8 1.6 1.3 1.6 -0.7 1.6 -2.7 1.6 -2.8 1.6 -1 1.6 0.8 1.6 0.7 1.6 -0.9 1.6 -2.1 1.6 -1.6 1.6 0.4 1.6 1.7 1.6 1.3 1.6 -0.5 1.6 -1.6 1.6 -1.4 1.6 0.4 1.5 3.1" fill="none" stroke="#f56419" stroke-width="3" stroke-linejoin="round"/>
<path d="M46.5 680.9l1.6 2.8 1.6 0.2 1.6 -1.5 1.6 -2 1.6 -0.8 1.6 1 1.6 1.8 1.6 1.3 1.6 -0.3 1.6 -1.9 1.6 -1.2 1.6 1.2 1.6 3.2 1.6 3.3 1.6 1.7 1.6 0.1 1.6 -0.9 1.6 -1.3 1.6 -0.9 1.6 0.9 1.6 2.3 1.6 1.5 1.6 -0.2 1.6 0 1.6 1.4 1.6 1.5 1.6 0.1 1.6 -0.9 1.6 -1.1 1.6 -0.4 1.6 0.5 1.6 0.8 1.6 0 1.6 -1.3 1.6 -2.1 1.6 -2.1 1.6 -1.8 1.6 -1.3 1.6 -0.8 1.6 -1.2 1.6 -2.6 1.6 -3.8 1.6 -3.7 1.6 -2.2 1.6 -1.1 1.6 -1.8 1.6 -3.8 1.6 -4.2 1.6 -2.8 1.6 -1.2 1.6 -0.8 1.6 -2 1.6 -3.2 1.6 -3.4 1.6 -1.9 1.6 -0.2 1.6 0.2 1.6 -0.6 1.6 -1.5 1.6 -1.4 1.6 -0.1 1.6 1.7 1.6 2.6 1.6 2.2 1.6 2 1.6 2.5 1.6 3.4 1.6 4.2 1.6 4.8 1.6 5.2 1.6 4.8 1.6 3.7 1.6 2.1 1.6 1.5 1.6 1.9 1.6 2.9 1.6 3 1.6 2 1.6 0.8 1.6 0.2 1.6 0.3 1.6 0.6 1.6 0.7 1.6 0.4 1.6 -0.1 1.6 -0.7 1.6 -1.2 1.6 -1.4 1.6 -1.4 1.6 -2 1.6 -2.4 1.6 -2.3 1.6 -1.6 1.6 -0.2 1.6 1.5 1.6 3.1 1.6 4.2 1.6 4.4 1.6 3.9 1.6 3.5 1.6 3.2 1.6 2.9 1.6 2.1 1.6 0.5 1.6 -1.3 1.6 -2.8 1.6 -3.5 1.6 -3.9 1.6 -4.9 1.6 -6.6 1.6 -7.8 1.6 -8.2 1.6 -8.1 1.6 -7.8 1.6 -7.4 1.6 -6.8 1.6 -7.8 1.6 -9.7 1.6 -10.7 1.6 -10.9 1.6 -10.1 1.6 -6.5 1.6 -2.4 1.6 3.4 1.6 5.6 1.6 7 1.6 8.5 1.6 9.6 1.6 9.7 1.6 8.8 1.6 8 1.6 7.4 1.6 6.9 1.6 8 1.6 9.1 1.6 8.3 1.6 7.5 1.6 7.4 1.6 7.7 1.6 7.4 1.6 6.2 1.6 4.5 1.6 3.5 1.6 3.4 1.6 4 1.6 3.9 1.6 3.3 1.6 2.9 1.6 2.8 1.6 3.5 1.6 3.7 1.6 2.9 1.6 0.8 1.6 -1.2 1.6 -2.6 1.6 -3 1.6 -3.2 1.6 -3.4 1.6 -3.8 1.6 -4.5 1.6 -4.9 1.6 -4.7 1.6 -5 1.6 -5.2 1.6 -4.7 1.6 -3.4 1.6 -2 1.6 -0.8 1.6 -0.9 1.6 -2 1.6 -2.6 1.6 -2.2 1.6 -2 1.6 -2.2 1.6 -1.7 1.6 -0.4 1.6 -0.3 1.6 -1.8 1.6 -2.6 1.6 -2.3 1.6 -0.6 1.6 0.1 1.6 -0.2 1.6 -1.5 1.6 -2.3 1.6 -2.6 1.6 -2.6 1.6 -2.2 1.6 -1.3 1.6 0.4 1.6 1.9 1.6 2.3 1.6 1.8 1.6 1.1 1.6 1.3 1.6 2.1 1.6 2.2 1.6 1.3 1.6 -0.1 1.6 -0.6 1.6 0 1.6 0.6 1.6 0.9 1.6 0.9 1.6 1 1.6 0.9 1.6 0.5 1.6 -0.3 1.6 -0.8 1.6 -0.4 1.6 0.7 1.6 1.2 1.6 0.9 1.6 0.2 1.6 0.1 1.6 0.6 1.6 1.3 1.6 1.1 1.6 0 1.6 -1 1.6 -1 1.6 -0.3 1.6 0.5 1.6 0.3 1.6 -0.8 1.6 -1.8 1.6 -2.3 1.6 -2.1 1.6 -1.8 1.6 -1.5 1.6 -1.5 1.6 -1.5 1.6 -1.8 1.6 -2.4 1.6 -3.1 1.6 -3.4 1.6 -3.5 1.6 -3.1 1.6 -2.4 1.6 -1.9 1.6 -1.8 1.6 -2.4 1.6 -2.9 1.6 -2.5 1.6 -1.7 1.6 -0.7 1.6 0 1.6 0.1 1.6 0 1.6 0 1.6 0.4 1.6 0.8 1.6 0.9 1.6 0.9 1.6 0.5 1.6 -0.1 1.6 -0.5 1.6 0 1.6 1.3 1.6 2.5 1.6 2.5 1.6 1.6 1.6 0.2 1.6 -0.4 1.6 -0.3 1.6 -0.1 1.6 0.3 1.6 0.6 1.6 0.7 1.6 0.5 1.6 -0.1 1.6 -1 1.6 -1.8 1.6 -2.6 1.6 -2.8 1.6 -2.1 1.6 -0.9 1.6 -0.1 1.6 -0.1 1.6 -0.6 1.6 -0.8 1.6 -0.5 1.6 0.2 1.6 0.6 1.6 1.3 1.6 1.6 1.6 1.5 1.6 1 1.6 0.5 1.6 0.2 1.6 0.4 1.6 0.6 1.6 0.9 1.6 1.4 1.6 1.5 1.6 1.1 1.6 0.3 1.6 -0.6 1.6 -1 1.6 -1 1.6 -0.3 1.6 0.9 1.6 2.2 1.6 2.4 1.6 1.1 1.6 -0.7 1.6 -1.8 1.6 -1.3 1.6 -0.3 1.6 0.1 1.6 -0.6 1.6 -1.8 1.6 -2.7 1.6 -3.2 1.6 -3.1 1.6 -2.3 1.6 -1.2 1.6 -0.3 1.6 -0.6 1.6 -2 1.6 -2.8 1.6 -2.5 1.6 -1.3 1.6 0.1 1.6 1.7 1.6 2.9 1.6 2.3 1.6 0.5 1.6 -0.5 1.6 0.4 1.6 2.3 1.6 3.6 1.6 2.9 1.6 0.8 1.6 -1 1.6 -1 1.6 0.7 1.6 2.1 1.6 2.1 1.6 0.8 1.6 -0.7 1.6 -1.2 1.6 -0.8 1.6 -0.2 1.6 0.1 1.6 0 1.6 -0.3 1.6 -0.5 1.6 -0.5 1.6 -0.4 1.6 -0.6 1.6 -0.5 1.6 -0.3 1.6 0 1.6 -0.4 1.6 -1 1.6 -1.5 1.6 -1.6 1.6 -1.3 1.6 -0.6 1.6 0 1.6 0.6 1.3 0.9 0 25.7 -1.3 -1.1 -1.6 0.1 -1.6 1.1 -1.6 1.6 -1.6 1.7 -1.6 1.4 -1.6 0.8 -1.6 -0.2 -1.6 -0.8 -1.6 -0.8 -1.6 0 -1.6 0.7 -1.6 1 -1.6 1 -1.6 0.8 -1.6 0.3 -1.6 0.2 -1.6 0.4 -1.6 1 -1.6 1.6 -1.6 1.7 -1.6 1.1 -1.6 0.5 -1.6 -0.1 -1.6 -0.4 -1.6 -0.5 -1.6 -0.3 -1.6 -0.2 -1.6 -0.6 -1.6 -1.4 -1.6 -2.4 -1.6 -2.8 -1.6 -1.8 -1.6 -0.5 -1.6 -0.3 -1.6 -1.4 -1.6 -3.1 -1.6 -3.3 -1.6 -0.9 -1.6 1.5 -1.6 2.7 -1.6 3.3 -1.6 3.3 -1.6 2.4 -1.6 1.4 -1.6 1.2 -1.6 1.9 -1.6 2.7 -1.6 2.8 -1.6 2.2 -1.6 1.3 -1.6 0.6 -1.6 0.2 -1.6 0.2 -1.6 0.6 -1.6 1.5 -1.6 1.5 -1.6 1.2 -1.6 0.4 -1.6 -0.2 -1.6 -0.7 -1.6 -0.9 -1.6 -1 -1.6 -0.9 -1.6 -0.7 -1.6 -0.8 -1.6 -1.1 -1.6 -1.3 -1.6 -1.2 -1.6 -0.7 -1.6 -0.2 -1.6 0.5 -1.6 0.9 -1.6 1.2 -1.6 0.4 -1.6 -1.2 -1.6 -2.5 -1.6 -2.6 -1.6 -1.2 -1.6 0.2 -1.6 0.5 -1.6 -0.1 -1.6 -0.5 -1.6 -0.1 -1.6 1 -1.6 1.7 -1.6 1.6 -1.6 1.3 -1.6 1.4 -1.6 2.4 -1.6 3.6 -1.6 3.3 -1.6 1.3 -1.6 -1.4 -1.6 -2.5 -1.6 -1.7 -1.6 -0.1 -1.6 0.6 -1.6 0.6 -1.6 0.2 -1.6 -0.5 -1.6 -1.6 -1.6 -2.3 -1.6 -2 -1.6 -0.7 -1.6 0.6 -1.6 0.8 -1.6 0.2 -1.6 -0.7 -1.6 -1.2 -1.6 -1.5 -1.6 -1.2 -1.6 -0.4 -1.6 0.5 -1.6 0.6 -1.6 0.1 -1.6 -0.6 -1.6 -0.4 -1.6 0.9 -1.6 2.1 -1.6 2.7 -1.6 2.5 -1.6 2 -1.6 2 -1.6 2.6 -1.6 3.2 -1.6 3.3 -1.6 2.8 -1.6 2.2 -1.6 2 -1.6 2.2 -1.6 2.6 -1.6 2.9 -1.6 3 -1.6 2.7 -1.6 1.9 -1.6 0.9 -1.6 0 -1.6 -0.1 -1.6 0.1 -1.6 0.2 -1.6 -0.2 -1.6 -0.2 -1.6 0 -1.6 0.5 -1.6 1 -1.6 0.5 -1.6 -0.7 -1.6 -1.6 -1.6 -1.4 -1.6 -0.4 -1.6 0.6 -1.6 0.8 -1.6 0.2 -1.6 -0.6 -1.6 -1 -1.6 -1.2 -1.6 -1.1 -1.6 -1.4 -1.6 -1.7 -1.6 -1.7 -1.6 -0.9 -1.6 0.9 -1.6 2.2 -1.6 2.1 -1.6 0.7 -1.6 -1.1 -1.6 -2.4 -1.6 -3 -1.6 -2.9 -1.6 -2.6 -1.6 -2.1 -1.6 -1 -1.6 0.9 -1.6 2.3 -1.6 2.5 -1.6 1.8 -1.6 1.3 -1.6 1.6 -1.6 1.8 -1.6 1.3 -1.6 0.5 -1.6 0.5 -1.6 1.7 -1.6 2.4 -1.6 2.1 -1.6 0.9 -1.6 1.1 -1.6 2.3 -1.6 2.4 -1.6 1.3 -1.6 0.8 -1.6 1.4 -1.6 1.5 -1.6 1.2 -1.6 1 -1.6 1.8 -1.6 2.7 -1.6 3.7 -1.6 4.3 -1.6 4.3 -1.6 4.1 -1.6 4.3 -1.6 4 -1.6 3.2 -1.6 2.9 -1.6 2.8 -1.6 2.2 -1.6 1.6 -1.6 0.4 -1.6 -1.3 -1.6 -2.8 -1.6 -4 -1.6 -4.7 -1.6 -5 -1.6 -4.9 -1.6 -4.4 -1.6 -4.1 -1.6 -4.1 -1.6 -4.4 -1.6 -4.7 -1.6 -5.4 -1.6 -5.9 -1.6 -6.9 -1.6 -7.7 -1.6 -8.5 -1.6 -9.1 -1.6 -9.6 -1.6 -8.5 -1.6 -6.5 -1.6 -6 -1.6 -7.4 -1.6 -7.9 -1.6 -7.3 -1.6 -6.8 -1.6 -6.3 -1.6 -5.9 -1.6 -5.1 -1.6 -4.3 -1.6 -2.2 -1.6 0.6 -1.6 4 -1.6 7.5 -1.6 8.5 -1.6 8.7 -1.6 8.4 -1.6 6.8 -1.6 7.7 -1.6 8.3 -1.6 8.2 -1.6 7.6 -1.6 6.9 -1.6 6.6 -1.6 6.6 -1.6 6.5 -1.6 5.7 -1.6 4.1 -1.6 2 -1.6 0 -1.6 -1.1 -1.6 -1.6 -1.6 -2.5 -1.6 -3.8 -1.6 -4.7 -1.6 -4.9 -1.6 -4.2 -1.6 -3.2 -1.6 -2.1 -1.6 -1.1 -1.6 -0.1 -1.6 1 -1.6 1.5 -1.6 1.5 -1.6 0.9 -1.6 0.3 -1.6 0.6 -1.6 1.5 -1.6 1.9 -1.6 1.5 -1.6 0.5 -1.6 -0.8 -1.6 -1.4 -1.6 -1.4 -1.6 -1.2 -1.6 -1.2 -1.6 -1.5 -1.6 -1.8 -1.6 -2.1 -1.6 -2.2 -1.6 -2.4 -1.6 -2.5 -1.6 -2.7 -1.6 -3 -1.6 -3.6 -1.6 -4.5 -1.6 -4.9 -1.6 -4.8 -1.6 -4.1 -1.6 -3.4 -1.6 -3 -1.6 -2.5 -1.6 -1.4 -1.6 0.2 -1.6 1.2 -1.6 1 -1.6 0.2 -1.6 -0.3 -1.6 0.2 -1.6 2 -1.6 3.5 -1.6 3.5 -1.6 2.2 -1.6 1.3 -1.6 1.8 -1.6 3.5 -1.6 4.9 -1.6 4.3 -1.6 2.1 -1.6 0.9 -1.6 1.2 -1.6 2.2 -1.6 2.3 -1.6 2.3 -1.6 2.1 -1.6 2.1 -1.6 1.9 -1.6 1.4 -1.6 1 -1.6 0.9 -1.6 0.4 -1.6 -0.4 -1.6 -0.6 -1.6 0.2 -1.6 1 -1.6 1.3 -1.6 0.7 -1.6 -0.2 -1.6 -0.9 -1.6 -0.6 -1.6 0.4 -1.6 0 -1.6 -1.8 -1.6 -1.6 -1.6 0.9 -1.6 2.4 -1.6 0.8 -1.6 -2 -1.6 -3.1 -1.6 -2.6 -1.6 -1.3 -1.6 -0.8 -1.6 -0.7 -1.6 -0.6 -1.6 -0.5 -1.6 -1 -1.6 -1.2 -1.6 -1.1 -1.6 -0.3 -1.6 1.1 -1.6 2.2 -1.6 1.5 -1.6 -0.5 -1.6 -3.2z" fill="#2068a8" fill-opacity="0.39"/>
<path d="M46.5 687.7l1.6 2 1.6 -0.6 1.6 -1.9 1.6 -1.6 1.6 -0.2 1.6 1.3 1.6 1.7 1.6 1.3 1.6 0.2 1.6 -0.6 1.6 -0.5 1.6 0.7 1.6 1.6 1.6 2 1.6 2.2 1.6 1.9 1.6 1 1.6 -0.7 1.6 -1.4 1.6 0 1.6 2 1.6 1.3 1.6 -0.6 1.6 -0.7 1.6 0.7 1.6 1.4 1.6 1.2 1.6 0.3 1.6 -0.6 1.6 -1.3 1.6 -0.9 1.6 -0.4 1.6 -0.7 1.6 -1.1 1.6 -1 1.6 -0.4 1.6 -0.5 1.6 -1.3 1.6 -1.8 1.6 -2 1.6 -2.1 1.6 -2.6 1.6 -2.7 1.6 -2.4 1.6 -2 1.6 -2.4 1.6 -3.1 1.6 -3.3 1.6 -2.8 1.6 -2.7 1.6 -2.7 1.6 -2.7 1.6 -2.5 1.6 -2.1 1.6 -1.5 1.6 -1 1.6 -0.9 1.6 -1.1 1.6 -1.1 1.6 -1 1.6 0 1.6 1.4 1.6 2.5 1.6 2.9 1.6 3.2 1.6 3.8 1.6 4.3 1.6 4.5 1.6 4.4 1.6 4.2 1.6 3.9 1.6 3.4 1.6 2.9 1.6 2.5 1.6 2.3 1.6 2 1.6 1.8 1.6 1.6 1.6 1.3 1.6 1.1 1.6 0.9 1.6 0.6 1.6 0.3 1.6 -0.3 1.6 -0.8 1.6 -1.2 1.6 -1.1 1.6 -0.5 1.6 -0.5 1.6 -1.1 1.6 -1.6 1.6 -1.7 1.6 -1.4 1.6 -0.2 1.6 1.1 1.6 2.5 1.6 3.5 1.6 4 1.6 3.9 1.6 3.6 1.6 3.2 1.6 2.7 1.6 1.8 1.6 0.8 1.6 -0.8 1.6 -2.5 1.6 -3.6 1.6 -4.4 1.6 -5.4 1.6 -6.4 1.6 -7.3 1.6 -7.7 1.6 -8.1 1.6 -8.2 1.6 -8.1 1.6 -7.3 1.6 -7.2 1.6 -8.5 1.6 -8.9 1.6 -9 1.6 -8.6 1.6 -5.7 1.6 -2.4 1.6 2.1 1.6 4.5 1.6 6 1.6 7.3 1.6 8.3 1.6 8.5 1.6 8.6 1.6 8.5 1.6 7.7 1.6 6.4 1.6 7 1.6 8.3 1.6 8.5 1.6 7.8 1.6 7.6 1.6 7.5 1.6 7.1 1.6 6.5 1.6 5.8 1.6 4.9 1.6 4.3 1.6 3.8 1.6 3.6 1.6 3.7 1.6 4.1 1.6 4.2 1.6 4 1.6 3.4 1.6 2.7 1.6 1.4 1.6 0 1.6 -1.8 1.6 -3.4 1.6 -4.5 1.6 -4 1.6 -3.2 1.6 -3 1.6 -3.8 1.6 -4.8 1.6 -5.6 1.6 -5.3 1.6 -3.8 1.6 -2.3 1.6 -1.7 1.6 -1.5 1.6 -1.9 1.6 -2.3 1.6 -1.8 1.6 -1 1.6 -1.1 1.6 -1.9 1.6 -1.7 1.6 -0.6 1.6 -0.6 1.6 -2.2 1.6 -3.2 1.6 -2.8 1.6 -1.1 1.6 0 1.6 -0.3 1.6 -1.4 1.6 -2.2 1.6 -2.3 1.6 -1.9 1.6 -1.1 1.6 -0.4 1.6 0.4 1.6 1 1.6 1.2 1.6 1.5 1.6 1.7 1.6 2 1.6 2.1 1.6 1.5 1.6 0.2 1.6 -1 1.6 -1.1 1.6 0 1.6 1.1 1.6 1.6 1.6 1.3 1.6 0.9 1.6 0.6 1.6 0.5 1.6 0.5 1.6 0.3 1.6 0 1.6 -0.1 1.6 0.1 1.6 0.5 1.6 0.9 1.6 0.9 1.6 0.7 1.6 0.4 1.6 0.1 1.6 -0.3 1.6 -0.5 1.6 -0.5 1.6 -0.5 1.6 -0.3 1.6 -0.3 1.6 -0.2 1.6 -0.4 1.6 -0.9 1.6 -1.3 1.6 -1.9 1.6 -2.1 1.6 -2.4 1.6 -2.5 1.6 -2.3 1.6 -2.3 1.6 -2.5 1.6 -3 1.6 -3.2 1.6 -3.2 1.6 -2.9 1.6 -2.4 1.6 -2.2 1.6 -2.1 1.6 -2 1.6 -1.9 1.6 -1.7 1.6 -1.3 1.6 -0.6 1.6 0.2 1.6 0.6 1.6 0.4 1.6 0 1.6 -0.1 1.6 0.2 1.6 0.7 1.6 1 1.6 0.7 1.6 0.5 1.6 0.8 1.6 1.7 1.6 2.4 1.6 2 1.6 0.5 1.6 -0.8 1.6 -1.2 1.6 -0.4 1.6 0.7 1.6 1.3 1.6 1.3 1.6 1.1 1.6 0.4 1.6 -0.6 1.6 -1.5 1.6 -2.3 1.6 -2.6 1.6 -2.6 1.6 -2.1 1.6 -1.2 1.6 -0.7 1.6 -0.4 1.6 -0.6 1.6 -0.4 1.6 -0.1 1.6 0.5 1.6 0.9 1.6 1.2 1.6 1.3 1.6 1.3 1.6 0.9 1.6 0.6 1.6 0.2 1.6 -0.1 1.6 -0.2 1.6 0.1 1.6 0.8 1.6 1.3 1.6 1.3 1.6 0.5 1.6 0 1.6 -0.2 1.6 0.2 1.6 0.8 1.6 1.1 1.6 1.3 1.6 1 1.6 0.3 1.6 -0.8 1.6 -1.4 1.6 -1.3 1.6 -0.6 1.6 -0.2 1.6 -0.4 1.6 -1.1 1.6 -1.8 1.6 -2.1 1.6 -2.5 1.6 -2.5 1.6 -2.1 1.6 -1.7 1.6 -1.5 1.6 -1.7 1.6 -1.9 1.6 -2 1.6 -2.1 1.6 -1.4 1.6 0.4 1.6 2.2 1.6 2.3 1.6 1 1.6 0.5 1.6 0.9 1.6 1.9 1.6 2.2 1.6 1.9 1.6 1.1 1.6 0.5 1.6 0.3 1.6 0.4 1.6 0.4 1.6 0.6 1.6 0.6 1.6 0.3 1.6 -0.4 1.6 -0.8 1.6 -1 1.6 -0.6 1.6 -0.3 1.6 -0.3 1.6 -0.5 1.6 -0.8 1.6 -1.1 1.6 -1.2 1.6 -0.9 1.6 -0.3 1.6 0.7 1.6 1 1.6 0.6 1.6 -0.6 1.6 -1.4 1.6 -1.7 1.6 -1.7 1.6 -1.2 1.6 -0.1 1.3 0.9" fill="none" stroke="#2068a8" stroke-width="3" stroke-linejoin="round"/>
<path d="M46.5 695.3l1.6 -0.1 1.6 -1.3 1.6 -1.5 1.6 -1.4 1.6 -2.1 1.6 -3.2 1.6 -3.4 1.6 -2.4 1.6 -0.3 1.6 1.4 1.6 1 1.6 -0.8 1.6 -0.6 1.6 1.8 1.6 3.1 1.6 2.5 1.6 0.9 1.6 -0.9 1.6 -1.7 1.6 -0.8 1.6 0.8 1.6 1.5 1.6 1.1 1.6 0.2 1.6 -0.9 1.6 -1.1 1.6 -0.7 1.6 0.3 1.6 1.5 1.6 1.8 1.6 0.3 1.6 -1.6 1.6 -2.2 1.6 -1.6 1.6 0.2 1.6 2.1 1.6 1.6 1.6 -1.1 1.6 -3.1 1.6 -3.2 1.6 -2.4 1.6 -2.5 1.6 -2.9 1.6 -3.1 1.6 -3 1.6 -2.8 1.6 -2.7 1.6 -2.7 1.6 -2.8 1.6 -3.3 1.6 -3.6 1.6 -3.2 1.6 -2.1 1.6 -1.4 1.6 -1.7 1.6 -2.2 1.6 -2.2 1.6 -1.6 1.6 -0.6 1.6 0.4 1.6 0.8 1.6 1 1.6 1.8 1.6 3 1.6 4 1.6 4.3 1.6 4 1.6 3.7 1.6 3.3 1.6 3.5 1.6 3.8 1.6 3.8 1.6 3.5 1.6 3.2 1.6 3 1.6 2.5 1.6 2 1.6 1.2 1.6 0.3 1.6 -0.3 1.6 -0.6 1.6 -0.8 1.6 -1.3 1.6 -1.9 1.6 -2.2 1.6 -1.9 1.6 -0.8 1.6 0.6 1.6 0.9 1.6 -0.5 1.6 -2.7 1.6 -4.3 1.6 -4.9 1.6 -2.9 1.6 2.1 1.6 6.3 1.6 7.3 1.6 6.5 1.6 4.6 1.6 3.5 1.6 3.3 1.6 3.5 1.6 3.1 1.6 1.7 1.6 -0.3 1.6 -1.4 1.6 -1.9 1.6 -2.3 1.6 -4.1 1.6 -7 1.6 -8.9 1.6 -8.9 1.6 -7.8 1.6 -6.8 1.6 -6.9 1.6 -7.8 1.6 -9.8 1.6 -9.8 1.6 -10.1 1.6 -10.6 1.6 -10.3 1.6 -9.6 1.6 -7.1 1.6 -1 1.6 4 1.6 7.2 1.6 8.9 1.6 10.2 1.6 10.2 1.6 8.8 1.6 6.7 1.6 6.9 1.6 8.7 1.6 9 1.6 7.9 1.6 7.3 1.6 7.6 1.6 7.6 1.6 7.7 1.6 7.8 1.6 7.6 1.6 6.7 1.6 5.8 1.6 5.2 1.6 4.7 1.6 4.4 1.6 4.3 1.6 4.4 1.6 4.6 1.6 5 1.6 4.6 1.6 3.6 1.6 2.7 1.6 2.1 1.6 1.4 1.6 0.3 1.6 -1.3 1.6 -3.1 1.6 -4.6 1.6 -5 1.6 -4 1.6 -3.1 1.6 -3.2 1.6 -4.5 1.6 -6 1.6 -6.4 1.6 -5.1 1.6 -3.1 1.6 -1.3 1.6 -0.5 1.6 -1.6 1.6 -3.1 1.6 -3.1 1.6 -1.6 1.6 -1.5 1.6 -3 1.6 -3.8 1.6 -3.3 1.6 -2.4 1.6 -2.1 1.6 -2.3 1.6 -2.9 1.6 -2.8 1.6 -2 1.6 -0.9 1.6 -0.7 1.6 -1.2 1.6 -1.8 1.6 -1.1 1.6 0.5 1.6 1.7 1.6 1.4 1.6 0.4 1.6 0.2 1.6 0.7 1.6 1.2 1.6 0.5 1.6 -0.7 1.6 -1.5 1.6 -1 1.6 0.2 1.6 1.5 1.6 2.2 1.6 2.2 1.6 1.9 1.6 1.5 1.6 1.4 1.6 1.6 1.6 1.7 1.6 1.4 1.6 0.4 1.6 -0.4 1.6 -0.7 1.6 -0.3 1.6 0.3 1.6 0.7 1.6 0.4 1.6 -0.1 1.6 -0.5 1.6 -0.9 1.6 -1.1 1.6 -1.4 1.6 -1.3 1.6 -0.9 1.6 -0.5 1.6 -0.6 1.6 -1.2 1.6 -2.3 1.6 -2.8 1.6 -2 1.6 -0.8 1.6 -0.4 1.6 -1.3 1.6 -2.9 1.6 -3.8 1.6 -3.7 1.6 -3.2 1.6 -2.7 1.6 -2.5 1.6 -2.3 1.6 -1.9 1.6 -1.6 1.6 -1.5 1.6 -1.6 1.6 -1.5 1.6 -1.1 1.6 -0.2 1.6 0.6 1.6 0.6 1.6 0 1.6 -0.7 1.6 -0.6 1.6 0.7 1.6 2.4 1.6 2.7 1.6 1.2 1.6 -1 1.6 -1.7 1.6 -0.6 1.6 1.3 1.6 1.8 1.6 0.9 1.6 -0.6 1.6 -1.6 1.6 -2.2 1.6 -2.1 1.6 -1.3 1.6 0.4 1.6 1.7 1.6 1.9 1.6 1.1 1.6 -0.3 1.6 -1.9 1.6 -3.8 1.6 -4 1.6 -1.9 1.6 1.6 1.6 3 1.6 1.5 1.6 -1.6 1.6 -3 1.6 -2 1.6 0.3 1.6 1.9 1.6 2.5 1.6 2.3 1.6 1.1 1.6 -0.6 1.6 -2.1 1.6 -1.7 1.6 0.4 1.6 2.6 1.6 2.9 1.6 1.2 1.6 -0.2 1.6 -0.1 1.6 1.4 1.6 2.7 1.6 2.7 1.6 1.3 1.6 0.1 1.6 -0.2 1.6 0 1.6 1.1 1.6 2.6 1.6 4.6 1.6 5.3 1.6 3.9 1.6 1.1 1.6 -1.2 1.6 -2.8 1.6 -3.5 1.6 -3.1 1.6 -2.2 1.6 -1.4 1.6 -1.4 1.6 -2.2 1.6 -2.7 1.6 -2.3 1.6 -0.9 1.6 0.2 1.6 0.7 1.6 0.3 1.6 -0.6 1.6 -1.2 1.6 -1.6 1.6 -1.3 1.6 -0.6 1.6 0.1 1.6 0.3 1.6 -0.2 1.6 -1.5 1.6 -2.3 1.6 -2 1.6 -0.4 1.6 0.9 1.6 1.9 1.6 1.9 1.6 1.8 1.6 1.2 1.6 0.6 1.6 0.6 1.6 1.1 1.6 2 1.6 2.2 1.6 1.7 1.6 1 1.6 0.9 1.6 1.7 1.6 2.1 1.6 1.1 1.6 -1.1 1.6 -2.9 1.6 -2.9 1.6 -1.3 1.6 0.4 1.6 0.7 1.6 -0.2 1.6 -1.6 1.6 -2.5 1.6 -2.5 1.6 -1.7 1.3 -0.1 0 28.4 -1.3 0.2 -1.6 1.5 -1.6 2.2 -1.6 2.5 -1.6 2 -1.6 0.8 -1.6 -0.3 -1.6 -0.1 -1.6 1.1 -1.6 2.1 -1.6 1.9 -1.6 0.4 -1.6 -0.7 -1.6 -1 -1.6 -1 -1.6 -1.2 -1.6 -1.8 -1.6 -2.2 -1.6 -1.8 -1.6 -1.2 -1.6 -0.8 -1.6 -1.1 -1.6 -1.6 -1.6 -1.9 -1.6 -1.9 -1.6 -1.8 -1.6 -1.9 -1.6 -1.4 -1.6 0.1 -1.6 1.7 -1.6 2.6 -1.6 2.3 -1.6 1.6 -1.6 1.3 -1.6 1 -1.6 0.4 -1.6 0.2 -1.6 0.7 -1.6 1.3 -1.6 1.6 -1.6 1 -1.6 0.6 -1.6 0.4 -1.6 0.5 -1.6 0.6 -1.6 0.9 -1.6 1.7 -1.6 2.5 -1.6 2.8 -1.6 2.4 -1.6 2 -1.6 1.9 -1.6 2.1 -1.6 1.8 -1.6 0.2 -1.6 -2.1 -1.6 -3.3 -1.6 -3 -1.6 -1.6 -1.6 -0.7 -1.6 -0.7 -1.6 -1.4 -1.6 -2.1 -1.6 -2.7 -1.6 -2.8 -1.6 -1.8 -1.6 0 -1.6 1.7 -1.6 1.8 -1.6 -0.2 -1.6 -2.4 -1.6 -2.7 -1.6 -1 -1.6 0.7 -1.6 0.9 -1.6 -0.4 -1.6 -1.7 -1.6 -2 -1.6 -1.2 -1.6 -0.2 -1.6 0.6 -1.6 1.3 -1.6 1.3 -1.6 0.4 -1.6 -1.1 -1.6 -1.4 -1.6 -0.5 -1.6 1.5 -1.6 2.9 -1.6 3.2 -1.6 2.7 -1.6 1.5 -1.6 -0.4 -1.6 -2.1 -1.6 -2.2 -1.6 -0.7 -1.6 1.6 -1.6 2.5 -1.6 2 -1.6 0.8 -1.6 0.2 -1.6 -0.3 -1.6 -0.4 -1.6 -0.3 -1.6 0 -1.6 0.3 -1.6 0.1 -1.6 -0.9 -1.6 -1.4 -1.6 -1.1 -1.6 -0.2 -1.6 0.2 -1.6 -0.1 -1.6 -0.9 -1.6 -1.4 -1.6 -0.9 -1.6 0.3 -1.6 1.1 -1.6 1.6 -1.6 1.5 -1.6 1.8 -1.6 2.4 -1.6 3.2 -1.6 3 -1.6 2.2 -1.6 1.3 -1.6 1.2 -1.6 1.9 -1.6 2.6 -1.6 2.6 -1.6 2.1 -1.6 1.4 -1.6 1 -1.6 0.6 -1.6 0.4 -1.6 0.5 -1.6 0.7 -1.6 0.7 -1.6 0.8 -1.6 1 -1.6 1.6 -1.6 2.1 -1.6 2.6 -1.6 1.8 -1.6 0 -1.6 -1.5 -1.6 -1.8 -1.6 -0.5 -1.6 1 -1.6 1.2 -1.6 -0.1 -1.6 -1.6 -1.6 -1.9 -1.6 -0.9 -1.6 0 -1.6 -0.2 -1.6 -1.1 -1.6 -2.2 -1.6 -2.7 -1.6 -2.4 -1.6 -1.9 -1.6 -1.2 -1.6 -0.1 -1.6 1.2 -1.6 1.8 -1.6 1 -1.6 -0.7 -1.6 -2.1 -1.6 -2 -1.6 -0.9 -1.6 0.3 -1.6 0.3 -1.6 0 -1.6 -0.2 -1.6 0.5 -1.6 1.3 -1.6 1.7 -1.6 1.7 -1.6 1.6 -1.6 1.7 -1.6 1.9 -1.6 1.7 -1.6 1.6 -1.6 1.4 -1.6 1.7 -1.6 2.3 -1.6 3.1 -1.6 3 -1.6 2.3 -1.6 2.5 -1.6 3.3 -1.6 2.6 -1.6 1 -1.6 0.7 -1.6 1.9 -1.6 3.1 -1.6 3.8 -1.6 4.4 -1.6 4.4 -1.6 4.2 -1.6 3.8 -1.6 3.5 -1.6 3.3 -1.6 3.9 -1.6 4.3 -1.6 3.9 -1.6 2.8 -1.6 1.1 -1.6 -0.6 -1.6 -1.9 -1.6 -3.1 -1.6 -4.3 -1.6 -5.3 -1.6 -5.4 -1.6 -5 -1.6 -5.1 -1.6 -6 -1.6 -6.5 -1.6 -6.2 -1.6 -5.2 -1.6 -5 -1.6 -6.2 -1.6 -8.5 -1.6 -9.6 -1.6 -9.2 -1.6 -7.9 -1.6 -7.3 -1.6 -7.2 -1.6 -7.4 -1.6 -8.5 -1.6 -8.1 -1.6 -6.1 -1.6 -5.7 -1.6 -6.5 -1.6 -7.6 -1.6 -7.4 -1.6 -6.1 -1.6 -4.6 -1.6 -2 -1.6 2.3 -1.6 4 -1.6 6 -1.6 7.9 -1.6 8.9 -1.6 8.8 -1.6 8.2 -1.6 8.2 -1.6 9.4 -1.6 9 -1.6 8.7 -1.6 8.2 -1.6 7.9 -1.6 7.6 -1.6 7 -1.6 6 -1.6 5.1 -1.6 4 -1.6 2.5 -1.6 0.1 -1.6 -1.6 -1.6 -2.4 -1.6 -3.1 -1.6 -4.1 -1.6 -5.3 -1.6 -6.1 -1.6 -6.6 -1.6 -6.7 -1.6 -6.1 -1.6 -3.6 -1.6 0.2 -1.6 2.9 -1.6 3.6 -1.6 2.7 -1.6 1 -1.6 -0.5 -1.6 -0.2 -1.6 1.3 -1.6 2.6 -1.6 2.9 -1.6 2.1 -1.6 0.8 -1.6 -0.3 -1.6 -1.1 -1.6 -1.7 -1.6 -2.2 -1.6 -2.6 -1.6 -2.6 -1.6 -2.3 -1.6 -1.9 -1.6 -1.5 -1.6 -1.8 -1.6 -2.6 -1.6 -3.4 -1.6 -3.8 -1.6 -4.6 -1.6 -5.2 -1.6 -5.4 -1.6 -5 -1.6 -4.2 -1.6 -3 -1.6 -1.7 -1.6 -1.1 -1.6 -0.8 -1.6 -0.4 -1.6 0.6 -1.6 1.7 -1.6 2.3 -1.6 2.2 -1.6 1.4 -1.6 1.1 -1.6 1.8 -1.6 3.2 -1.6 4 -1.6 3.7 -1.6 3.5 -1.6 3.3 -1.6 3.2 -1.6 3 -1.6 2.9 -1.6 3 -1.6 2.9 -1.6 2.1 -1.6 1.8 -1.6 2 -1.6 2.1 -1.6 0.6 -1.6 -1.3 -1.6 -1.5 -1.6 0.3 -1.6 1.8 -1.6 1.9 -1.6 0.7 -1.6 -1.3 -1.6 -2.1 -1.6 -0.7 -1.6 1.5 -1.6 2.4 -1.6 2.1 -1.6 1.2 -1.6 -0.5 -1.6 -1.7 -1.6 -2.4 -1.6 -2 -1.6 -0.6 -1.6 0.6 -1.6 0.3 -1.6 -0.9 -1.6 -2.3 -1.6 -3.2 -1.6 -2.3 -1.6 0.5 -1.6 1.6 -1.6 0.4 -1.6 -0.6 -1.6 -0.6 -1.6 0.2 -1.6 2.3 -1.6 4.5 -1.6 5.1 -1.6 3.7 -1.6 1.2 -1.6 -1 -1.6 -2.8z" fill="#1a803c" fill-opacity="0.40"/>
<path d="M46.5 701.6l1.6 1.3 1.6 0 1.6 -1.2 1.6 -2.4 1.6 -3.5 1.6 -3.9 1.6 -3 1.6 -1.3 1.6 0.4 1.6 1.4 1.6 0.6 1.6 -1.4 1.6 -0.9 1.6 1.7 1.6 3.3 1.6 2.8 1.6 1.4 1.6 -0.3 1.6 -1.4 1.6 -0.5 1.6 1 1.6 1.6 1.6 1.4 1.6 0.6 1.6 -0.6 1.6 -1.4 1.6 -1.7 1.6 -1 1.6 0.9 1.6 1.9 1.6 1 1.6 -0.5 1.6 -1.4 1.6 -1.3 1.6 -0.5 1.6 0.7 1.6 0.4 1.6 -1 1.6 -2 1.6 -1.9 1.6 -2.1 1.6 -2.8 1.6 -3.3 1.6 -3.1 1.6 -2.6 1.6 -2.6 1.6 -3.2 1.6 -3.3 1.6 -3.3 1.6 -3.3 1.6 -3.4 1.6 -3.1 1.6 -2.2 1.6 -1.4 1.6 -1.4 1.6 -1.7 1.6 -1.6 1.6 -1.2 1.6 -0.6 1.6 0.2 1.6 0.8 1.6 1.2 1.6 1.8 1.6 2.9 1.6 3.9 1.6 4.3 1.6 4.3 1.6 4.1 1.6 3.8 1.6 3.9 1.6 3.9 1.6 3.4 1.6 2.4 1.6 1.9 1.6 1.9 1.6 2.2 1.6 2.3 1.6 2.2 1.6 1.7 1.6 1.1 1.6 0.5 1.6 -0.3 1.6 -1.2 1.6 -1.9 1.6 -2.4 1.6 -2.1 1.6 -1.4 1.6 -0.1 1.6 0.2 1.6 -1.2 1.6 -2.8 1.6 -3.7 1.6 -3.3 1.6 -1 1.6 2.9 1.6 5.8 1.6 6.4 1.6 6.4 1.6 5.9 1.6 5.1 1.6 4.1 1.6 3.1 1.6 2.2 1.6 1.3 1.6 -0.3 1.6 -2 1.6 -3 1.6 -3.7 1.6 -5 1.6 -6.7 1.6 -7.9 1.6 -8.5 1.6 -8.5 1.6 -8.5 1.6 -8.5 1.6 -8.6 1.6 -8.6 1.6 -8.6 1.6 -9.4 1.6 -9.5 1.6 -8.6 1.6 -6.9 1.6 -4.6 1.6 -1.4 1.6 2.5 1.6 4.8 1.6 6.4 1.6 7.8 1.6 8.6 1.6 8.3 1.6 7.5 1.6 7.5 1.6 8.1 1.6 7.7 1.6 6.9 1.6 7.7 1.6 8.4 1.6 8.3 1.6 7.7 1.6 7.5 1.6 7.5 1.6 7.1 1.6 6.6 1.6 6.1 1.6 5.8 1.6 5.4 1.6 4.9 1.6 4.6 1.6 4.6 1.6 5 1.6 4.7 1.6 3.9 1.6 3 1.6 2.2 1.6 1.1 1.6 -0.7 1.6 -2.6 1.6 -3.9 1.6 -4.4 1.6 -4.1 1.6 -3.2 1.6 -3.1 1.6 -3.6 1.6 -4.6 1.6 -5.6 1.6 -5.8 1.6 -4.6 1.6 -2.9 1.6 -1.4 1.6 -0.7 1.6 -1.7 1.6 -3.3 1.6 -3.2 1.6 -1.7 1.6 -1.5 1.6 -2.9 1.6 -3.6 1.6 -3.3 1.6 -2.5 1.6 -2.2 1.6 -1.8 1.6 -1.7 1.6 -1.4 1.6 -1.2 1.6 -1.1 1.6 -1.3 1.6 -1.6 1.6 -1.3 1.6 -0.4 1.6 0.8 1.6 1.1 1.6 0.4 1.6 -0.7 1.6 -0.6 1.6 0.5 1.6 1.8 1.6 1.9 1.6 0.6 1.6 -0.9 1.6 -1.2 1.6 -0.3 1.6 0.9 1.6 1.8 1.6 2.2 1.6 2.2 1.6 1.9 1.6 1.2 1.6 0.7 1.6 0.7 1.6 0.9 1.6 0.9 1.6 0.6 1.6 -0.2 1.6 -0.6 1.6 -0.4 1.6 0.3 1.6 0.6 1.6 0.3 1.6 -0.3 1.6 -0.9 1.6 -1.4 1.6 -1.7 1.6 -1.7 1.6 -1.4 1.6 -0.9 1.6 -0.6 1.6 -0.6 1.6 -0.7 1.6 -0.9 1.6 -1.1 1.6 -1.4 1.6 -1.8 1.6 -2.2 1.6 -2.4 1.6 -2.5 1.6 -2.4 1.6 -2.3 1.6 -2.4 1.6 -2.5 1.6 -2.6 1.6 -2.3 1.6 -1.7 1.6 -1.5 1.6 -1.6 1.6 -2 1.6 -1.9 1.6 -0.8 1.6 0.7 1.6 1.6 1.6 1.3 1.6 0.6 1.6 0.1 1.6 0.5 1.6 0.9 1.6 0.9 1.6 0.5 1.6 -0.2 1.6 -0.1 1.6 0.5 1.6 1.1 1.6 0.8 1.6 -0.2 1.6 -1.5 1.6 -2.1 1.6 -2.1 1.6 -1.7 1.6 -0.5 1.6 0.9 1.6 2 1.6 1.6 1.6 0.3 1.6 -1.1 1.6 -2.2 1.6 -2.7 1.6 -2.4 1.6 -1 1.6 1 1.6 1.8 1.6 0.7 1.6 -1.5 1.6 -2.5 1.6 -2.1 1.6 -0.5 1.6 0.7 1.6 1.7 1.6 2.1 1.6 1.6 1.6 0.5 1.6 -0.8 1.6 -0.6 1.6 0.8 1.6 2.3 1.6 2.3 1.6 0.8 1.6 -0.7 1.6 -0.7 1.6 0.8 1.6 2.2 1.6 2.4 1.6 1.6 1.6 0.8 1.6 0.4 1.6 0.2 1.6 0.9 1.6 2 1.6 3.7 1.6 4.2 1.6 3 1.6 0.7 1.6 -1.1 1.6 -2.1 1.6 -2.4 1.6 -2.4 1.6 -2.5 1.6 -2.5 1.6 -2.4 1.6 -2.1 1.6 -1.7 1.6 -1.1 1.6 -0.1 1.6 0.6 1.6 0.6 1.6 -0.4 1.6 -1.5 1.6 -2 1.6 -1.9 1.6 -1.5 1.6 -0.8 1.6 -0.3 1.6 -0.1 1.6 -0.6 1.6 -1.8 1.6 -2.4 1.6 -1.7 1.6 -0.2 1.6 1.3 1.6 2 1.6 1.9 1.6 1.7 1.6 1.2 1.6 0.7 1.6 0.6 1.6 1.2 1.6 2 1.6 2.2 1.6 1.6 1.6 0.9 1.6 0.6 1.6 1.1 1.6 1.7 1.6 1.2 1.6 -0.2 1.6 -1.8 1.6 -1.9 1.6 -0.7 1.6 0.6 1.6 0.7 1.6 -0.5 1.6 -2 1.6 -2.6 1.6 -2.5 1.6 -1.6 1.3 -0.1" fill="none" stroke="#1a803c" stroke-width="3" stroke-linejoin="round"/>
<path d="M46.5 690.3l1.6 1.4 1.6 0.5 1.6 -1 1.6 -2.3 1.6 -2.8 1.6 -2.3 1.6 -0.9 1.6 0.3 1.6 1.2 1.6 1.8 1.6 1.8 1.6 1.3 1.6 0.5 1.6 0 1.6 -0.3 1.6 -0.6 1.6 -1.3 1.6 -2.2 1.6 -2.8 1.6 -2.5 1.6 -1.5 1.6 0 1.6 1.6 1.6 2.7 1.6 2.2 1.6 1.4 1.6 1.2 1.6 1.3 1.6 1.1 1.6 0.5 1.6 0.2 1.6 0.3 1.6 0.3 1.6 0 1.6 -0.3 1.6 -0.5 1.6 -0.3 1.6 0.1 1.6 0.2 1.6 -0.3 1.6 -1.1 1.6 -1.6 1.6 -2 1.6 -2.4 1.6 -2.7 1.6 -2.8 1.6 -2.4 1.6 -2.1 1.6 -2.3 1.6 -2.8 1.6 -3.6 1.6 -4.4 1.6 -5.2 1.6 -5.1 1.6 -4 1.6 -2.7 1.6 -1.9 1.6 -2 1.6 -2.4 1.6 -2.9 1.6 -2.6 1.6 -1.3 1.6 0.5 1.6 1.7 1.6 2.4 1.6 3.1 1.6 3.8 1.6 4.2 1.6 4.3 1.6 4.1 1.6 4.3 1.6 5.1 1.6 5.9 1.6 5.8 1.6 4.6 1.6 2.8 1.6 1.9 1.6 1.8 1.6 2 1.6 2.4 1.6 2.5 1.6 2.8 1.6 2.7 1.6 2 1.6 1 1.6 -0.5 1.6 -1.8 1.6 -2 1.6 -1.4 1.6 -0.1 1.6 0.6 1.6 0.2 1.6 -1 1.6 -2.2 1.6 -1.6 1.6 0.3 1.6 2.4 1.6 3.6 1.6 3.9 1.6 3.4 1.6 1.7 1.6 -0.8 1.6 -2.8 1.6 -3.5 1.6 -3.2 1.6 -3.2 1.6 -3.7 1.6 -4.1 1.6 -4.5 1.6 -4.8 1.6 -5.3 1.6 -5.9 1.6 -6.7 1.6 -7.3 1.6 -7.8 1.6 -8.2 1.6 -9 1.6 -8.8 1.6 -8.5 1.6 -8.4 1.6 -7.7 1.6 -6.8 1.6 -5.3 1.6 0 1.6 4.2 1.6 6.5 1.6 8.3 1.6 9.8 1.6 9.8 1.6 8 1.6 6.3 1.6 6.8 1.6 8.1 1.6 8.3 1.6 8.8 1.6 8.8 1.6 8.4 1.6 7.8 1.6 7.7 1.6 7.8 1.6 7.6 1.6 6.9 1.6 6.4 1.6 6.3 1.6 6.5 1.6 7 1.6 7.5 1.6 7.3 1.6 6.6 1.6 5.6 1.6 4.5 1.6 3.5 1.6 2.3 1.6 1.5 1.6 0.1 1.6 -1.5 1.6 -2.6 1.6 -3 1.6 -3.1 1.6 -3.3 1.6 -3.6 1.6 -4 1.6 -4.5 1.6 -5.3 1.6 -6 1.6 -6.3 1.6 -5.9 1.6 -4.7 1.6 -4 1.6 -3.6 1.6 -3.3 1.6 -2.7 1.6 -1.9 1.6 -1.3 1.6 -1.1 1.6 -1.9 1.6 -2.8 1.6 -3 1.6 -2.6 1.6 -2.2 1.6 -2.4 1.6 -3 1.6 -3.4 1.6 -3.5 1.6 -3 1.6 -2.7 1.6 -2.2 1.6 -1.9 1.6 -1.5 1.6 -1.5 1.6 -1.2 1.6 -0.8 1.6 -0.2 1.6 0.2 1.6 0.2 1.6 -0.2 1.6 -0.3 1.6 0.5 1.6 2 1.6 3 1.6 2.7 1.6 1.4 1.6 0.3 1.6 0.2 1.6 0.6 1.6 1.4 1.6 2 1.6 2.3 1.6 2.1 1.6 1 1.6 -0.3 1.6 -1.4 1.6 -1.7 1.6 -1.6 1.6 -1.3 1.6 -0.5 1.6 -0.1 1.6 -0.4 1.6 -1.5 1.6 -2.6 1.6 -2.6 1.6 -1.6 1.6 -0.6 1.6 -0.5 1.6 -1.2 1.6 -2.1 1.6 -2.9 1.6 -3.3 1.6 -3.1 1.6 -1.9 1.6 -0.7 1.6 -0.4 1.6 -1.5 1.6 -3.3 1.6 -3.7 1.6 -2.5 1.6 -0.7 1.6 0.2 1.6 -0.1 1.6 -0.7 1.6 -0.4 1.6 0.5 1.6 1.4 1.6 1.7 1.6 1.1 1.6 0.5 1.6 -0.3 1.6 -0.8 1.6 -0.9 1.6 -0.4 1.6 0.7 1.6 1.2 1.6 0.9 1.6 0.2 1.6 0.2 1.6 1.1 1.6 2.4 1.6 2.5 1.6 1.3 1.6 -0.3 1.6 -0.8 1.6 0.2 1.6 1.3 1.6 1.7 1.6 0.8 1.6 0 1.6 0 1.6 0.5 1.6 1.3 1.6 1.7 1.6 1.5 1.6 0.9 1.6 -0.4 1.6 -2.2 1.6 -3.2 1.6 -3 1.6 -2 1.6 -1.4 1.6 -1.2 1.6 -1.4 1.6 -0.6 1.6 1.5 1.6 2.7 1.6 2.3 1.6 1 1.6 -0.3 1.6 -0.6 1.6 -0.3 1.6 0.5 1.6 1.2 1.6 1.8 1.6 2 1.6 1.5 1.6 0.5 1.6 -0.1 1.6 0.4 1.6 1.5 1.6 1.9 1.6 1.3 1.6 0 1.6 -0.7 1.6 0.1 1.6 1.4 1.6 2.3 1.6 2.2 1.6 1.4 1.6 0.3 1.6 -0.7 1.6 -1.7 1.6 -1.9 1.6 -1.2 1.6 -0.5 1.6 -0.4 1.6 -1.1 1.6 -2.1 1.6 -2.3 1.6 -2 1.6 -1.4 1.6 -1 1.6 -0.6 1.6 -0.3 1.6 0 1.6 -0.1 1.6 -0.3 1.6 -0.3 1.6 -0.2 1.6 -0.1 1.6 -0.2 1.6 0 1.6 0.6 1.6 1.9 1.6 2.7 1.6 2.1 1.6 0 1.6 -2.2 1.6 -2.9 1.6 -1.7 1.6 -0.4 1.6 0.4 1.6 0.6 1.6 1 1.6 1.4 1.6 1.6 1.6 1.8 1.6 1.8 1.6 1.6 1.6 1.3 1.6 1.5 1.6 2 1.6 2.4 1.6 1.8 1.6 0.7 1.6 -0.2 1.6 -0.7 1.6 -0.8 1.6 -0.9 1.6 -1.2 1.6 -1.2 1.6 -0.6 1.6 0.3 1.6 0.9 1.6 0.7 1.3 -0.1 0 27.9 -1.3 0.5 -1.6 1.6 -1.6 1.7 -1.6 0.8 -1.6 -0.4 -1.6 -0.7 -1.6 -0.4 -1.6 0.2 -1.6 0.5 -1.6 0.5 -1.6 0 -1.6 -0.6 -1.6 -1.1 -1.6 -1.3 -1.6 -1.1 -1.6 -1 -1.6 -1.2 -1.6 -1.3 -1.6 -1.1 -1.6 -1.3 -1.6 -1.8 -1.6 -2.6 -1.6 -2.2 -1.6 -0.5 -1.6 1.5 -1.6 2.4 -1.6 2.2 -1.6 1.4 -1.6 0.5 -1.6 -0.2 -1.6 -0.6 -1.6 -0.8 -1.6 -0.8 -1.6 -0.8 -1.6 -1 -1.6 -1.4 -1.6 -1.3 -1.6 -0.2 -1.6 1.5 -1.6 2 -1.6 1.1 -1.6 -0.7 -1.6 -1.3 -1.6 -0.6 -1.6 0.9 -1.6 2.1 -1.6 2.7 -1.6 3 -1.6 2.8 -1.6 2.3 -1.6 2 -1.6 1.8 -1.6 1.7 -1.6 1.3 -1.6 0.3 -1.6 -0.9 -1.6 -1.6 -1.6 -1.7 -1.6 -1.2 -1.6 -0.5 -1.6 -0.1 -1.6 -0.1 -1.6 -0.2 -1.6 -0.4 -1.6 -0.7 -1.6 -0.8 -1.6 -1.1 -1.6 -1.2 -1.6 -1.3 -1.6 -1.4 -1.6 -1.3 -1.6 -1.1 -1.6 -0.6 -1.6 -0.1 -1.6 -0.1 -1.6 -0.4 -1.6 -0.9 -1.6 -0.9 -1.6 -0.8 -1.6 -1 -1.6 -1.7 -1.6 -1.9 -1.6 -0.9 -1.6 0.3 -1.6 1.6 -1.6 2.5 -1.6 2.9 -1.6 2.7 -1.6 2.3 -1.6 1.8 -1.6 1.1 -1.6 0.3 -1.6 -0.7 -1.6 -1.6 -1.6 -1.5 -1.6 -0.7 -1.6 0.4 -1.6 0.1 -1.6 -1 -1.6 -2.2 -1.6 -1.9 -1.6 -0.3 -1.6 1 -1.6 0.9 -1.6 -0.4 -1.6 -1.7 -1.6 -2.1 -1.6 -1.5 -1.6 -1.2 -1.6 -1.3 -1.6 -1.6 -1.6 -1.4 -1.6 -0.2 -1.6 1.2 -1.6 1.7 -1.6 0.7 -1.6 -0.9 -1.6 -1.2 -1.6 -0.3 -1.6 0.9 -1.6 0.7 -1.6 -0.5 -1.6 -1.7 -1.6 -1.2 -1.6 0.6 -1.6 2.4 -1.6 3 -1.6 2.9 -1.6 2.3 -1.6 1.8 -1.6 1.3 -1.6 1.2 -1.6 1.5 -1.6 2.1 -1.6 2.5 -1.6 2.5 -1.6 2.1 -1.6 1.7 -1.6 1.6 -1.6 1.5 -1.6 1.9 -1.6 2.2 -1.6 2.4 -1.6 2.4 -1.6 2.2 -1.6 1.8 -1.6 1.2 -1.6 0.4 -1.6 0 -1.6 -0.2 -1.6 0.2 -1.6 0.4 -1.6 0.7 -1.6 0.7 -1.6 0.3 -1.6 -0.6 -1.6 -2 -1.6 -2.4 -1.6 -2 -1.6 -1.1 -1.6 -0.7 -1.6 -1.1 -1.6 -1.9 -1.6 -2.2 -1.6 -2 -1.6 -1.3 -1.6 -0.5 -1.6 -0.1 -1.6 0.3 -1.6 0.3 -1.6 0.4 -1.6 0.7 -1.6 1.3 -1.6 2.1 -1.6 2.5 -1.6 2.8 -1.6 2.7 -1.6 2.5 -1.6 2.4 -1.6 2.4 -1.6 2.8 -1.6 3.5 -1.6 4 -1.6 3.4 -1.6 2.3 -1.6 0.6 -1.6 -0.1 -1.6 -0.1 -1.6 0.8 -1.6 1.4 -1.6 1.5 -1.6 1.4 -1.6 2.2 -1.6 3.3 -1.6 4.5 -1.6 5.1 -1.6 5.3 -1.6 5 -1.6 4.6 -1.6 4 -1.6 3.9 -1.6 4.2 -1.6 4.8 -1.6 4.4 -1.6 3.3 -1.6 1.5 -1.6 0.4 -1.6 -0.3 -1.6 -0.8 -1.6 -1.5 -1.6 -2.3 -1.6 -3.5 -1.6 -4.7 -1.6 -5.8 -1.6 -6.7 -1.6 -7.5 -1.6 -7.8 -1.6 -7.9 -1.6 -8.3 -1.6 -8.9 -1.6 -9.2 -1.6 -8.9 -1.6 -7.8 -1.6 -7 -1.6 -6.9 -1.6 -8 -1.6 -9 -1.6 -9.4 -1.6 -8.1 -1.6 -7.5 -1.6 -7.9 -1.6 -7.6 -1.6 -7.4 -1.6 -7.8 -1.6 -8.5 -1.6 -7.7 -1.6 -6 -1.6 -4.1 -1.6 -2.6 -1.6 0.3 -1.6 2.6 -1.6 4.4 -1.6 7.1 -1.6 9.1 -1.6 9.1 -1.6 7.7 -1.6 6.6 -1.6 6.6 -1.6 6.4 -1.6 6.4 -1.6 6.6 -1.6 7 -1.6 6.9 -1.6 6.4 -1.6 5.8 -1.6 5.2 -1.6 4.3 -1.6 3.5 -1.6 2.7 -1.6 2.1 -1.6 0.7 -1.6 -1 -1.6 -2.1 -1.6 -2.8 -1.6 -3 -1.6 -3.1 -1.6 -2.3 -1.6 -0.5 -1.6 1.7 -1.6 2.6 -1.6 1.9 -1.6 1 -1.6 0.5 -1.6 0.3 -1.6 0.3 -1.6 0.4 -1.6 0.2 -1.6 -0.2 -1.6 -0.5 -1.6 -0.8 -1.6 -0.8 -1.6 -1.3 -1.6 -2.1 -1.6 -3.1 -1.6 -3.4 -1.6 -3 -1.6 -2.7 -1.6 -3 -1.6 -3.9 -1.6 -5 -1.6 -5.6 -1.6 -5.7 -1.6 -5.7 -1.6 -5.6 -1.6 -5.4 -1.6 -4.9 -1.6 -4.1 -1.6 -3.1 -1.6 -2.3 -1.6 -1.6 -1.6 -0.7 -1.6 0.8 -1.6 1.9 -1.6 2.2 -1.6 2.3 -1.6 2.9 -1.6 3.6 -1.6 4.2 -1.6 4.4 -1.6 4.2 -1.6 3.9 -1.6 3.4 -1.6 3 -1.6 2.5 -1.6 2.3 -1.6 2.1 -1.6 2.2 -1.6 2.4 -1.6 2.2 -1.6 1.8 -1.6 1.6 -1.6 1.2 -1.6 0.8 -1.6 0.3 -1.6 0.3 -1.6 0.9 -1.6 1.8 -1.6 2 -1.6 1.3 -1.6 0.1 -1.6 -0.9 -1.6 -1.5 -1.6 -1.8 -1.6 -1.7 -1.6 -1.2 -1.6 -0.5 -1.6 -0.3 -1.6 -0.7 -1.6 -1.9 -1.6 -2.3 -1.6 -1.1 -1.6 0.5 -1.6 1.7 -1.6 2.3 -1.6 2.5 -1.6 2.1 -1.6 1.3 -1.6 0.6 -1.6 -0.1 -1.6 -0.7 -1.6 -1.1 -1.6 -1.1 -1.6 -0.9 -1.6 -0.7 -1.6 -0.5 -1.6 -0.3 -1.6 0 -1.6 0.4 -1.6 0.8 -1.6 1.3 -1.6 1.7 -1.6 1.4 -1.6 0.4z" fill="#f56419" fill-opacity="0.36"/>
<path d="M46.5 698.1l1.6 0.3 1.6 -0.5 1.6 -1 1.6 -1.3 1.6 -1.2 1.6 -1.1 1.6 -0.5 1.6 -0.1 1.6 0.5 1.6 0.9 1.6 1.1 1.6 0.9 1.6 0.6 1.6 0.3 1.6 -0.1 1.6 -0.4 1.6 -1.1 1.6 -1.9 1.6 -2.5 1.6 -2.5 1.6 -1.9 1.6 -0.6 1.6 1.4 1.6 2.9 1.6 2.7 1.6 1.6 1.6 0.8 1.6 0.7 1.6 0.8 1.6 0.8 1.6 0.8 1.6 0.5 1.6 0.3 1.6 -0.1 1.6 -0.4 1.6 -0.5 1.6 -0.4 1.6 -0.3 1.6 -0.4 1.6 -0.9 1.6 -1.2 1.6 -1.3 1.6 -1.4 1.6 -1.6 1.6 -1.9 1.6 -2.4 1.6 -2.8 1.6 -3 1.6 -3.1 1.6 -3.3 1.6 -3.3 1.6 -3.5 1.6 -3.6 1.6 -3.7 1.6 -3.8 1.6 -3.6 1.6 -3.3 1.6 -2.9 1.6 -2.6 1.6 -2.7 1.6 -2.4 1.6 -1.1 1.6 0.5 1.6 1.8 1.6 2.6 1.6 3.2 1.6 3.9 1.6 4.6 1.6 5 1.6 5.2 1.6 5.3 1.6 5.2 1.6 4.7 1.6 4.3 1.6 3.9 1.6 3.5 1.6 3.3 1.6 3.1 1.6 2.7 1.6 2.6 1.6 2.3 1.6 2.1 1.6 1.9 1.6 1.2 1.6 0.3 1.6 -0.4 1.6 -0.7 1.6 -0.5 1.6 -0.4 1.6 -0.4 1.6 -0.3 1.6 -0.7 1.6 -1.3 1.6 -2 1.6 -1.4 1.6 0.3 1.6 2.1 1.6 3 1.6 3.3 1.6 2.9 1.6 1.9 1.6 0.1 1.6 -1.8 1.6 -2.8 1.6 -3 1.6 -3.3 1.6 -3.9 1.6 -4.4 1.6 -4.9 1.6 -5.3 1.6 -6 1.6 -6.5 1.6 -7.1 1.6 -7.4 1.6 -7.5 1.6 -7.4 1.6 -7.6 1.6 -8.1 1.6 -8.8 1.6 -8.8 1.6 -7.4 1.6 -5.5 1.6 -3.7 1.6 0.3 1.6 3.9 1.6 5.6 1.6 6.9 1.6 8.3 1.6 8.7 1.6 7.9 1.6 7.3 1.6 7.7 1.6 8.1 1.6 7.6 1.6 7.9 1.6 8.4 1.6 8.1 1.6 7.7 1.6 7.8 1.6 8.2 1.6 8.3 1.6 8 1.6 7.6 1.6 7.4 1.6 7.2 1.6 7.4 1.6 7.4 1.6 7 1.6 6.4 1.6 5.9 1.6 5.2 1.6 3.9 1.6 2.2 1.6 0.9 1.6 -0.1 1.6 -0.8 1.6 -1.2 1.6 -1.7 1.6 -2.3 1.6 -3.2 1.6 -4 1.6 -4.7 1.6 -5.1 1.6 -5.3 1.6 -5.4 1.6 -5.4 1.6 -5.3 1.6 -4.7 1.6 -4.3 1.6 -3.7 1.6 -3.2 1.6 -2.4 1.6 -1.7 1.6 -0.9 1.6 -0.4 1.6 -0.6 1.6 -1.2 1.6 -1.8 1.6 -2.3 1.6 -2.8 1.6 -3.2 1.6 -3.3 1.6 -3.2 1.6 -3 1.6 -2.7 1.6 -2.7 1.6 -2.5 1.6 -2.4 1.6 -2.2 1.6 -2 1.6 -1.5 1.6 -1 1.6 -0.2 1.6 0.1 1.6 0.5 1.6 0.6 1.6 0.9 1.6 1.2 1.6 1.6 1.6 1.7 1.6 1.8 1.6 1.6 1.6 1.5 1.6 1.3 1.6 1.3 1.6 1.1 1.6 1.1 1.6 0.9 1.6 0.6 1.6 0.4 1.6 0 1.6 -0.3 1.6 -0.6 1.6 -0.8 1.6 -1 1.6 -1.1 1.6 -1.2 1.6 -1.4 1.6 -1.5 1.6 -1.6 1.6 -1.6 1.6 -1.7 1.6 -1.6 1.6 -1.6 1.6 -1.4 1.6 -1.5 1.6 -2 1.6 -2.3 1.6 -2.6 1.6 -2.6 1.6 -2.4 1.6 -2.3 1.6 -2.3 1.6 -2.1 1.6 -1.9 1.6 -1.5 1.6 -1.3 1.6 -1 1.6 -0.8 1.6 -0.5 1.6 0 1.6 0.5 1.6 0.9 1.6 0.9 1.6 0.4 1.6 -0.1 1.6 -0.3 1.6 -0.6 1.6 -0.5 1.6 -0.1 1.6 0.6 1.6 1 1.6 1.1 1.6 1.1 1.6 1.1 1.6 1.3 1.6 1.4 1.6 1.2 1.6 0.8 1.6 0.4 1.6 0.3 1.6 0.5 1.6 0.8 1.6 0.9 1.6 0.8 1.6 0.8 1.6 0.7 1.6 0.9 1.6 0.9 1.6 0.8 1.6 0.4 1.6 -0.2 1.6 -1.1 1.6 -2 1.6 -2.7 1.6 -2.5 1.6 -2 1.6 -1.4 1.6 -1.3 1.6 -1 1.6 -0.2 1.6 1.2 1.6 1.9 1.6 1.4 1.6 0.8 1.6 0.5 1.6 0.6 1.6 0.8 1.6 1 1.6 1.1 1.6 1.3 1.6 1.1 1.6 0.9 1.6 0.8 1.6 0.7 1.6 0.8 1.6 0.8 1.6 0.9 1.6 0.8 1.6 0.7 1.6 0.8 1.6 0.7 1.6 0.8 1.6 1 1.6 1.3 1.6 1.2 1.6 1 1.6 0.3 1.6 -0.5 1.6 -1.2 1.6 -1.4 1.6 -1.4 1.6 -1.6 1.6 -1.9 1.6 -2.3 1.6 -2.5 1.6 -2.4 1.6 -2 1.6 -1.5 1.6 -0.8 1.6 0 1.6 0.2 1.6 -0.1 1.6 -0.4 1.6 -0.5 1.6 -0.2 1.6 0.2 1.6 0.7 1.6 1 1.6 1.2 1.6 1.3 1.6 1 1.6 0.6 1.6 0 1.6 -0.8 1.6 -1.2 1.6 -1.5 1.6 -1.4 1.6 -0.9 1.6 -0.1 1.6 0.9 1.6 1.7 1.6 2.3 1.6 2.6 1.6 2.4 1.6 2 1.6 1.4 1.6 1 1.6 1.2 1.6 1.4 1.6 1.2 1.6 0.7 1.6 0 1.6 -0.4 1.6 -0.6 1.6 -0.7 1.6 -0.6 1.6 -0.6 1.6 -0.4 1.6 -0.3 1.6 -0.3 1.6 -0.3 1.3 -0.2" fill="none" stroke="#f56419" stroke-width="3" stroke-linejoin="round"/>
<g stroke="#000" stroke-width="1.8" fill="none"><path d="M35 285.5H615.6M35 265V308M615.6 264V306.7M151.3 79.5V352M267.8 278V292.5M384 278V292.5M500.5 278V292.5"/><path d="M46.5 681.6H628.6M46.5 657.4V704M628.6 658V701M162.3 543.7V817.2M278.6 673.7V688M394.7 673.7V688M511 673.7V688"/></g>
<g stroke="#000" stroke-width="2" fill="none"><path d="M128 79.5H175.6M128 352H175.6M135.3 543.7H190.7M134.9 817.2H186"/></g>
<defs><clipPath id="axc"><path d="M34 284h583v3h-583zM150 79h2.6v273h-2.6zM45 680h585v3.2h-585zM161 543h2.6v274h-2.6z"/></clipPath></defs><g clip-path="url(#axc)"><path d="M34.9 300.0l1.6 0.5 1.6 0.9 1.6 1 1.6 0.9 1.6 0.4 1.6 -0.3 1.6 -1.1 1.6 -1.5 1.6 -1.1 1.6 -0.7 1.6 -0.7 1.6 -1.1 1.6 -1.7 1.6 -1.8 1.6 -1.2 1.6 -0.4 1.6 0.4 1.6 1.4 1.6 2 1.6 2.2 1.6 2 1.6 1.6 1.6 1.5 1.6 1.3 1.6 1 1.6 0.3 1.6 -0.6 1.6 -1.4 1.6 -1.4 1.6 -1.1 1.6 -0.7 1.6 -0.6 1.6 -0.6 1.6 -0.8 1.6 -1 1.6 -1.4 1.6 -1.8 1.6 -1.9 1.6 -2.2 1.6 -2.4 1.6 -2.8 1.6 -3.1 1.6 -3.2 1.6 -3.3 1.6 -3.2 1.6 -3.3 1.6 -3.3 1.6 -3.3 1.6 -3.1 1.6 -2.7 1.6 -2.2 1.6 -1.7 1.6 -1.1 1.6 -0.3 1.6 1 1.6 2.1 1.6 2.7 1.6 2.7 1.6 2.4 1.6 2.2 1.6 2.1 1.6 1.7 1.6 1.4 1.6 0.9 1.6 0.8 1.6 0.7 1.6 0.9 1.6 1 1.6 0.5 1.6 -0.2 1.6 -0.9 1.6 -1.3 1.6 -1.6 1.6 -1.7 1.6 -1.5 1.6 -1.1 1.6 -1.1 1.6 -1.4 1.6 -1.6 1.6 -1.2 1.6 -0.2 1.6 0.9 1.6 1.6 1.6 1.5 1.6 0.9 1.6 0 1.6 -1.1 1.6 -2 1.6 -1.6 1.6 -0.3 1.6 0.7 1.6 0.5 1.6 -0.9 1.6 -2 1.6 -2.6 1.6 -2 1.6 -0.2 1.6 2.9 1.6 5.2 1.6 5 1.6 3.5 1.6 1.8 1.6 0.3 1.6 -0.9 1.6 -1.5 1.6 -2.2 1.6 -3.1 1.6 -4.2 1.6 -5.5 1.6 -6.1 1.6 -6.1 1.6 -6.2 1.6 -6.4 1.6 -7.1 1.6 -7.4 1.6 -7.3 1.6 -6.7 1.6 -6.6 1.6 -8.3 1.6 -10 1.6 -7.5 1.6 -4.7 1.6 -3 1.6 -0.8 1.6 2.5 1.6 5.5 1.6 8.3 1.6 8.2 1.6 9.9 1.6 11.9 1.6 11.2 1.6 11.5 1.6 10.6 1.6 8.9 1.6 7.9 1.6 8.2 1.6 8.6 1.6 8.4 1.6 7.5 1.6 6.7 1.6 5.6 1.6 4.8 1.6 3.8 1.6 2.8 1.6 1.3 1.6 0 1.6 -1.2 1.6 -1.6 1.6 -0.5 1.6 0.4 1.6 0.5 1.6 -0.3 1.6 -1.1 1.6 -1.7 1.6 -2.1 1.6 -2.4 1.6 -2.7 1.6 -2.9 1.6 -3.2 1.6 -3.4 1.6 -3.7 1.6 -3.7 1.6 -3.4 1.6 -3 1.6 -2.7 1.6 -2.6 1.6 -2.5 1.6 -2.4 1.6 -2.3 1.6 -2.1 1.6 -1.9 1.6 -1.8 1.6 -1.8 1.6 -2.1 1.6 -2.6 1.6 -2.7 1.6 -1.6 1.6 0.5 1.6 2.4 1.6 2.6 1.6 1.5 1.6 -1.4 1.6 -5.5 1.6 -7.7 1.6 -4.7 1.6 -0.8 1.6 0.5 1.6 -1 1.6 -2.5 1.6 -2.1 1.6 -0.2 1.6 2 1.6 3.5 1.6 3.9 1.6 2.8 1.6 0.7 1.6 -0.9 1.6 -0.5 1.6 1.4 1.6 2.8 1.6 2.6 1.6 1 1.6 0 1.6 0.3 1.6 1.7 1.6 2.7 1.6 2.9 1.6 2.4 1.6 1.6 1.6 0.4 1.6 -0.7 1.6 -0.7 1.6 0.6 1.6 2.2 1.6 2.1 1.6 0.6 1.6 -1.8 1.6 -3.4 1.6 -3.9 1.6 -3.5 1.6 -2.5 1.6 -0.7 1.6 0.7 1.6 1.1 1.6 0.1 1.6 -0.8 1.6 -0.9 1.6 0 1.6 0.7 1.6 0.4 1.6 -0.5 1.6 -1.6 1.6 -2.3 1.6 -2.5 1.6 -1.4 1.6 1.2 1.6 3.1 1.6 3 1.6 1.8 1.6 0.1 1.6 -1.3 1.6 -1.6 1.6 -0.4 1.6 0.6 1.6 -0.1 1.6 -1.8 1.6 -2.7 1.6 -2.5 1.6 -1.6 1.6 0.1 1.6 1.9 1.6 2.6 1.6 2.3 1.6 2 1.6 1.7 1.6 1.6 1.6 1.6 1.6 1.6 1.6 1.4 1.6 0.6 1.6 -0.5 1.6 -0.8 1.6 0.3 1.6 1.9 1.6 2.4 1.6 1.5 1.6 -0.2 1.6 -0.8 1.6 -0.2 1.6 1.2 1.6 2 1.6 2.2 1.6 2.1 1.6 1.9 1.6 1.7 1.6 1.5 1.6 1.1 1.6 0.3 1.6 0 1.6 0.5 1.6 1.8 1.6 2.6 1.6 1.8 1.6 -0.1 1.6 -1.3 1.6 -0.8 1.6 1.1 1.6 2.7 1.6 3 1.6 2.4 1.6 1.8 1.6 1.8 1.6 2.1 1.6 1.8 1.6 0.8 1.6 -0.5 1.6 -1.5 1.6 -1.9 1.6 -1.7 1.6 -1.2 1.6 -0.1 1.6 0.9 1.6 1 1.6 0.2 1.6 -0.6 1.6 -0.5 1.6 0.6 1.6 2.1 1.6 2.9 1.6 3.1 1.6 2.6 1.6 1.4 1.6 -0.3 1.6 -1.3 1.6 -0.7 1.6 1.2 1.6 2.5 1.6 2 1.6 0.1 1.6 -1.4 1.6 -1.9 1.6 -1.5 1.6 -1 1.6 -1 1.6 -1 1.6 -0.9 1.6 -0.5 1.6 0.1 1.6 0.5 1.6 0.7 1.6 0.8 1.6 0.9 1.6 0.7 1.6 0.7 1.6 0.4 1.6 -0.3 1.6 -0.7 1.6 -1 1.6 -0.8 1.6 -0.9 1.6 -2 1.6 -3.8 1.6 -3.9 1.6 -0.1 1.6 4.5 1.6 5.4 1.6 3.9 1.6 2.7 1.6 2.1 1.6 2 1.6 2 1.6 2.2 1.6 1.5 1.6 -0.5 1.6 -3.4 1.6 -4.7 1.6 -4.4 1.6 -3.1 1.6 -1.2 1.6 0.6 1.6 1.4 1.6 1.5 1.5 0.9" fill="none" stroke="#2068a8" stroke-width="3" stroke-linejoin="round"/><path d="M34.9 293.0l1.6 -1.4 1.6 -1.2 1.6 -1 1.6 -0.8 1.6 -0.4 1.6 -0.1 1.6 0.5 1.6 0.9 1.6 1.5 1.6 1.7 1.6 1.7 1.6 1.4 1.6 1.1 1.6 1.8 1.6 3 1.6 4 1.6 3.2 1.6 1.5 1.6 -0.2 1.6 -1.7 1.6 -2.7 1.6 -2.8 1.6 -1.9 1.6 -1 1.6 0 1.6 1 1.6 1.3 1.6 1 1.6 0 1.6 -0.9 1.6 -1.3 1.6 -1.3 1.6 -1 1.6 -1.3 1.6 -2.3 1.6 -4.1 1.6 -5.5 1.6 -5.6 1.6 -4.5 1.6 -3.7 1.6 -3 1.6 -2.5 1.6 -1.8 1.6 -0.8 1.6 0 1.6 0.2 1.6 -0.2 1.6 -0.5 1.6 -0.2 1.6 0.9 1.6 1.9 1.6 2.1 1.6 1.6 1.6 1 1.6 0.3 1.6 -0.1 1.6 -0.4 1.6 -0.6 1.6 -0.6 1.6 -0.4 1.6 -0.2 1.6 -0.1 1.6 0.2 1.6 0.4 1.6 0.5 1.6 0.5 1.6 0.4 1.6 0.3 1.6 0.1 1.6 -0.2 1.6 -0.3 1.6 -0.4 1.6 -0.3 1.6 -0.3 1.6 -0.6 1.6 -1 1.6 -1.6 1.6 -2.4 1.6 -2.7 1.6 -3.1 1.6 -2.9 1.6 -2.5 1.6 -1.9 1.6 -0.9 1.6 0.2 1.6 1.3 1.6 1.8 1.6 1.7 1.6 1 1.6 0.2 1.6 -0.3 1.6 -0.9 1.6 -1.3 1.6 -1.7 1.6 -1.7 1.6 -1.2 1.6 0.2 1.6 1.7 1.6 2.4 1.6 2.6 1.6 2 1.6 1.2 1.6 0.3 1.6 -0.8 1.6 -1.8 1.6 -2.7 1.6 -3.7 1.6 -4.7 1.6 -5.9 1.6 -6.4 1.6 -6.5 1.6 -6 1.6 -5.5 1.6 -5.6 1.6 -6.1 1.6 -6.5 1.6 -8.4 1.6 -11.4 1.6 -10.7 1.6 -9 1.6 -8.1 1.6 -6.4 1.6 -4.1 1.6 -1.4 1.6 1.7 1.6 4.7 1.6 6.1 1.6 6.7 1.6 6.6 1.6 4.7 1.6 5.3 1.6 7.7 1.6 11.8 1.6 17.1 1.6 12.8 1.6 9.1 1.6 7.3 1.6 7.4 1.6 8.1 1.6 8.3 1.6 8.3 1.6 8 1.6 7.7 1.6 7.3 1.6 6.4 1.6 4.5 1.6 3 1.6 2 1.6 1.5 1.6 0.9 1.6 0.3 1.6 -0.2 1.6 -0.7 1.6 -1.4 1.6 -1.8 1.6 -2.3 1.6 -2.8 1.6 -3.2 1.6 -3.5 1.6 -3.7 1.6 -3.7 1.6 -3.4 1.6 -3 1.6 -2.7 1.6 -2.8 1.6 -3 1.6 -3.3 1.6 -3.2 1.6 -3.1 1.6 -2.8 1.6 -2.3 1.6 -1.9 1.6 -1.9 1.6 -2.3 1.6 -2.9 1.6 -3 1.6 -2.6 1.6 -2 1.6 -1.8 1.6 -1.8 1.6 -1.6 1.6 -1.1 1.6 0 1.6 0.3 1.6 -0.4 1.6 -1.5 1.6 -2 1.6 -1.8 1.6 -1.1 1.6 -0.6 1.6 -0.3 1.6 -0.6 1.6 -0.9 1.6 -0.8 1.6 -0.4 1.6 0.3 1.6 1.1 1.6 1.5 1.6 1.7 1.6 1.7 1.6 1.5 1.6 1.1 1.6 0.5 1.6 0 1.6 -0.2 1.6 0 1.6 0.5 1.6 1 1.6 1.1 1.6 1.1 1.6 0.8 1.6 0.4 1.6 0 1.6 -0.5 1.6 -1.1 1.6 -1.3 1.6 -1.7 1.6 -1.7 1.6 -1.7 1.6 -1.1 1.6 -0.4 1.6 0.4 1.6 0.9 1.6 0.8 1.6 0.5 1.6 -0.1 1.6 -0.5 1.6 -0.7 1.6 -0.9 1.6 -0.9 1.6 -1 1.6 -1.2 1.6 -1.1 1.6 -1 1.6 -0.8 1.6 -0.4 1.6 -0.1 1.6 0.1 1.6 0.2 1.6 0.2 1.6 -0.2 1.6 -0.5 1.6 -1.2 1.6 -1.7 1.6 -1.7 1.6 -1.2 1.6 -0.6 1.6 -0.2 1.6 0.3 1.6 0.6 1.6 1.1 1.6 1.8 1.6 2.4 1.6 2.7 1.6 2.8 1.6 2.6 1.6 1.9 1.6 1.1 1.6 0.3 1.6 0 1.6 0.1 1.6 0.3 1.6 0.8 1.6 1.2 1.6 1.8 1.6 2 1.6 2.1 1.6 2.1 1.6 1.5 1.6 1.1 1.6 0.6 1.6 0.4 1.6 0.4 1.6 0.1 1.6 0.1 1.6 -0.1 1.6 -0.2 1.6 -0.2 1.6 -0.2 1.6 -0.1 1.6 0.1 1.6 0.6 1.6 1.2 1.6 1.8 1.6 2.3 1.6 2.6 1.6 2.7 1.6 2.9 1.6 2.7 1.6 2.6 1.6 2.2 1.6 1.8 1.6 1.2 1.6 0.9 1.6 0.5 1.6 0.3 1.6 0.1 1.6 -0.1 1.6 -0.2 1.6 -0.3 1.6 -0.2 1.6 0 1.6 0.2 1.6 0.4 1.6 0.6 1.6 0.8 1.6 0.9 1.6 1.1 1.6 1 1.6 1.1 1.6 1.2 1.6 1.4 1.6 1.7 1.6 1.7 1.6 1.6 1.6 1 1.6 0.4 1.6 0 1.6 -0.5 1.6 -0.7 1.6 -0.8 1.6 -1 1.6 -1 1.6 -0.9 1.6 -1 1.6 -0.9 1.6 -0.9 1.6 -0.8 1.6 -0.6 1.6 -0.2 1.6 0.3 1.6 0.5 1.6 0.8 1.6 0.7 1.6 0.6 1.6 0.4 1.6 0.2 1.6 0.1 1.6 -0.2 1.6 -0.3 1.6 -0.3 1.6 -0.3 1.6 -0.1 1.6 0.1 1.6 0.3 1.6 0.3 1.6 0.3 1.6 0.2 1.6 0.1 1.6 -0.1 1.6 -0.1 1.6 0 1.6 0 1.6 0.2 1.6 0.4 1.6 0.7 1.6 1 1.6 1.3 1.6 1.4 1.6 1.4 1.6 1.3 1.6 1 1.5 0.6" fill="none" stroke="#1a803c" stroke-width="3" stroke-linejoin="round"/><path d="M34.9 297.7l1.6 -0.5 1.6 0.2 1.6 0.8 1.6 1 1.6 0.9 1.6 0.6 1.6 -0.1 1.6 -0.9 1.6 -1.4 1.6 -1.3 1.6 -0.5 1.6 0.6 1.6 1.1 1.6 0.6 1.6 -0.4 1.6 -1.7 1.6 -2.3 1.6 -2.2 1.6 -1.5 1.6 -0.5 1.6 0.4 1.6 1.6 1.6 2.4 1.6 3 1.6 2.9 1.6 1.7 1.6 -0.2 1.6 -1.2 1.6 -0.8 1.6 0.7 1.6 1.7 1.6 1.8 1.6 1.1 1.6 -0.1 1.6 -0.9 1.6 -1.3 1.6 -1.4 1.6 -1.6 1.6 -1.8 1.6 -2.1 1.6 -2.4 1.6 -2.6 1.6 -3 1.6 -3.2 1.6 -3.3 1.6 -3.2 1.6 -3.3 1.6 -3.2 1.6 -3.3 1.6 -3.2 1.6 -3 1.6 -2.6 1.6 -1.9 1.6 -1.1 1.6 -0.2 1.6 0 1.6 -0.6 1.6 -1.3 1.6 -1.1 1.6 0.2 1.6 1.4 1.6 1.5 1.6 0.2 1.6 -1 1.6 -0.7 1.6 0.9 1.6 2.5 1.6 3.2 1.6 3 1.6 2.6 1.6 2.1 1.6 1.6 1.6 1.5 1.6 1.6 1.6 1.9 1.6 1.7 1.6 0.8 1.6 -0.7 1.6 -1.3 1.6 -1 1.6 0.1 1.6 0.6 1.6 0.4 1.6 -0.3 1.6 -1.1 1.6 -1.8 1.6 -2.1 1.6 -1.9 1.6 -1.2 1.6 -0.4 1.6 -0.2 1.6 -0.7 1.6 -1.8 1.6 -2.8 1.6 -3.7 1.6 -4 1.6 -2.7 1.6 0 1.6 2.3 1.6 3.1 1.6 2.3 1.6 1.1 1.6 0.1 1.6 -0.5 1.6 -1.4 1.6 -2.7 1.6 -4.4 1.6 -5.7 1.6 -6.7 1.6 -7.1 1.6 -7.2 1.6 -7 1.6 -6.6 1.6 -7 1.6 -8.3 1.6 -9.8 1.6 -10.4 1.6 -10.5 1.6 -11.5 1.6 -10.8 1.6 -8.8 1.6 -7.7 1.6 -5.7 1.6 -2.3 1.6 1.3 1.6 5.2 1.6 7.7 1.6 7.9 1.6 7.4 1.6 6 1.6 4.7 1.6 6.2 1.6 10 1.6 14.8 1.6 17.1 1.6 12.8 1.6 9.7 1.6 9.3 1.6 8.2 1.6 7 1.6 6.4 1.6 6 1.6 5.7 1.6 5.1 1.6 4.5 1.6 3.9 1.6 3.3 1.6 2.7 1.6 2.3 1.6 1.8 1.6 1.5 1.6 1 1.6 0.7 1.6 0.2 1.6 -0.1 1.6 -0.7 1.6 -1.2 1.6 -1.9 1.6 -2.8 1.6 -3.5 1.6 -4 1.6 -4.1 1.6 -4 1.6 -3.9 1.6 -3.6 1.6 -3.3 1.6 -2.9 1.6 -2.7 1.6 -2.4 1.6 -2.2 1.6 -1.9 1.6 -2 1.6 -2.1 1.6 -2.5 1.6 -2.8 1.6 -3.1 1.6 -3.2 1.6 -3.3 1.6 -3.2 1.6 -2.9 1.6 -2.3 1.6 -1.3 1.6 -0.3 1.6 -0.5 1.6 -1.5 1.6 -2.6 1.6 -2.9 1.6 -2.4 1.6 -1.5 1.6 -0.6 1.6 0.2 1.6 0.7 1.6 0.3 1.6 -0.4 1.6 -0.7 1.6 -0.1 1.6 1.2 1.6 2.2 1.6 2.4 1.6 2 1.6 1.6 1.6 1.3 1.6 1.2 1.6 1.5 1.6 2.2 1.6 3 1.6 3 1.6 2.3 1.6 1.3 1.6 0.9 1.6 1.2 1.6 1.9 1.6 2.2 1.6 2.3 1.6 1.5 1.6 -0.9 1.6 -3.4 1.6 -4.2 1.6 -3.3 1.6 -1.5 1.6 -0.1 1.6 0.7 1.6 0.8 1.6 0.2 1.6 -0.8 1.6 -1.4 1.6 -0.6 1.6 1.7 1.6 3 1.6 2.3 1.6 -0.4 1.6 -2.9 1.6 -4.1 1.6 -4.2 1.6 -4 1.6 -3.7 1.6 -3.3 1.6 -3.2 1.6 -3.2 1.6 -3.4 1.6 -2.6 1.6 -0.8 1.6 1.5 1.6 2.5 1.6 2.2 1.6 1.1 1.6 0.5 1.6 0.5 1.6 0.8 1.6 0.4 1.6 -0.7 1.6 -1.8 1.6 -1.8 1.6 -0.8 1.6 0.6 1.6 2 1.6 3.2 1.6 3.8 1.6 3.6 1.6 2.8 1.6 2 1.6 1.7 1.6 1.8 1.6 2 1.6 2 1.6 2.1 1.6 1.8 1.6 1.1 1.6 0.4 1.6 0.1 1.6 0.7 1.6 1.5 1.6 1.5 1.6 0.3 1.6 -1.3 1.6 -1.6 1.6 -0.4 1.6 1.6 1.6 2.1 1.6 1.1 1.6 -0.3 1.6 -1.3 1.6 -1.5 1.6 -1.2 1.6 -0.6 1.6 0.3 1.6 1 1.6 1.6 1.6 1.7 1.6 1.8 1.6 2.2 1.6 2.9 1.6 3 1.6 2.6 1.6 1.5 1.6 0.5 1.6 -0.5 1.6 -0.9 1.6 -0.6 1.6 0.4 1.6 2 1.6 2.8 1.6 2.3 1.6 1.3 1.6 0.5 1.6 0.5 1.6 0.9 1.6 1.3 1.6 1.8 1.6 2 1.6 1.5 1.6 0.5 1.6 -0.5 1.6 -0.6 1.6 0.3 1.6 0.9 1.6 0.3 1.6 -1.6 1.6 -3 1.6 -2.5 1.6 -0.1 1.6 2.1 1.6 2.9 1.6 2.5 1.6 1.4 1.6 0.3 1.6 -1 1.6 -1.2 1.6 -0.2 1.6 1.4 1.6 2.2 1.6 1.1 1.6 -0.9 1.6 -1.7 1.6 -0.9 1.6 1.1 1.6 2.5 1.6 2.9 1.6 2.7 1.6 1.9 1.6 0.5 1.6 -0.6 1.6 -0.7 1.6 0.5 1.6 1.8 1.6 1.3 1.6 -0.7 1.6 -2.7 1.6 -2.8 1.6 -1 1.6 0.8 1.6 0.7 1.6 -0.9 1.6 -2.1 1.6 -1.6 1.6 0.4 1.6 1.7 1.6 1.3 1.6 -0.5 1.6 -1.6 1.6 -1.4 1.6 0.4 1.5 3.1" fill="none" stroke="#f56419" stroke-width="3" stroke-linejoin="round"/><path d="M46.5 687.7l1.6 2 1.6 -0.6 1.6 -1.9 1.6 -1.6 1.6 -0.2 1.6 1.3 1.6 1.7 1.6 1.3 1.6 0.2 1.6 -0.6 1.6 -0.5 1.6 0.7 1.6 1.6 1.6 2 1.6 2.2 1.6 1.9 1.6 1 1.6 -0.7 1.6 -1.4 1.6 0 1.6 2 1.6 1.3 1.6 -0.6 1.6 -0.7 1.6 0.7 1.6 1.4 1.6 1.2 1.6 0.3 1.6 -0.6 1.6 -1.3 1.6 -0.9 1.6 -0.4 1.6 -0.7 1.6 -1.1 1.6 -1 1.6 -0.4 1.6 -0.5 1.6 -1.3 1.6 -1.8 1.6 -2 1.6 -2.1 1.6 -2.6 1.6 -2.7 1.6 -2.4 1.6 -2 1.6 -2.4 1.6 -3.1 1.6 -3.3 1.6 -2.8 1.6 -2.7 1.6 -2.7 1.6 -2.7 1.6 -2.5 1.6 -2.1 1.6 -1.5 1.6 -1 1.6 -0.9 1.6 -1.1 1.6 -1.1 1.6 -1 1.6 0 1.6 1.4 1.6 2.5 1.6 2.9 1.6 3.2 1.6 3.8 1.6 4.3 1.6 4.5 1.6 4.4 1.6 4.2 1.6 3.9 1.6 3.4 1.6 2.9 1.6 2.5 1.6 2.3 1.6 2 1.6 1.8 1.6 1.6 1.6 1.3 1.6 1.1 1.6 0.9 1.6 0.6 1.6 0.3 1.6 -0.3 1.6 -0.8 1.6 -1.2 1.6 -1.1 1.6 -0.5 1.6 -0.5 1.6 -1.1 1.6 -1.6 1.6 -1.7 1.6 -1.4 1.6 -0.2 1.6 1.1 1.6 2.5 1.6 3.5 1.6 4 1.6 3.9 1.6 3.6 1.6 3.2 1.6 2.7 1.6 1.8 1.6 0.8 1.6 -0.8 1.6 -2.5 1.6 -3.6 1.6 -4.4 1.6 -5.4 1.6 -6.4 1.6 -7.3 1.6 -7.7 1.6 -8.1 1.6 -8.2 1.6 -8.1 1.6 -7.3 1.6 -7.2 1.6 -8.5 1.6 -8.9 1.6 -9 1.6 -8.6 1.6 -5.7 1.6 -2.4 1.6 2.1 1.6 4.5 1.6 6 1.6 7.3 1.6 8.3 1.6 8.5 1.6 8.6 1.6 8.5 1.6 7.7 1.6 6.4 1.6 7 1.6 8.3 1.6 8.5 1.6 7.8 1.6 7.6 1.6 7.5 1.6 7.1 1.6 6.5 1.6 5.8 1.6 4.9 1.6 4.3 1.6 3.8 1.6 3.6 1.6 3.7 1.6 4.1 1.6 4.2 1.6 4 1.6 3.4 1.6 2.7 1.6 1.4 1.6 0 1.6 -1.8 1.6 -3.4 1.6 -4.5 1.6 -4 1.6 -3.2 1.6 -3 1.6 -3.8 1.6 -4.8 1.6 -5.6 1.6 -5.3 1.6 -3.8 1.6 -2.3 1.6 -1.7 1.6 -1.5 1.6 -1.9 1.6 -2.3 1.6 -1.8 1.6 -1 1.6 -1.1 1.6 -1.9 1.6 -1.7 1.6 -0.6 1.6 -0.6 1.6 -2.2 1.6 -3.2 1.6 -2.8 1.6 -1.1 1.6 0 1.6 -0.3 1.6 -1.4 1.6 -2.2 1.6 -2.3 1.6 -1.9 1.6 -1.1 1.6 -0.4 1.6 0.4 1.6 1 1.6 1.2 1.6 1.5 1.6 1.7 1.6 2 1.6 2.1 1.6 1.5 1.6 0.2 1.6 -1 1.6 -1.1 1.6 0 1.6 1.1 1.6 1.6 1.6 1.3 1.6 0.9 1.6 0.6 1.6 0.5 1.6 0.5 1.6 0.3 1.6 0 1.6 -0.1 1.6 0.1 1.6 0.5 1.6 0.9 1.6 0.9 1.6 0.7 1.6 0.4 1.6 0.1 1.6 -0.3 1.6 -0.5 1.6 -0.5 1.6 -0.5 1.6 -0.3 1.6 -0.3 1.6 -0.2 1.6 -0.4 1.6 -0.9 1.6 -1.3 1.6 -1.9 1.6 -2.1 1.6 -2.4 1.6 -2.5 1.6 -2.3 1.6 -2.3 1.6 -2.5 1.6 -3 1.6 -3.2 1.6 -3.2 1.6 -2.9 1.6 -2.4 1.6 -2.2 1.6 -2.1 1.6 -2 1.6 -1.9 1.6 -1.7 1.6 -1.3 1.6 -0.6 1.6 0.2 1.6 0.6 1.6 0.4 1.6 0 1.6 -0.1 1.6 0.2 1.6 0.7 1.6 1 1.6 0.7 1.6 0.5 1.6 0.8 1.6 1.7 1.6 2.4 1.6 2 1.6 0.5 1.6 -0.8 1.6 -1.2 1.6 -0.4 1.6 0.7 1.6 1.3 1.6 1.3 1.6 1.1 1.6 0.4 1.6 -0.6 1.6 -1.5 1.6 -2.3 1.6 -2.6 1.6 -2.6 1.6 -2.1 1.6 -1.2 1.6 -0.7 1.6 -0.4 1.6 -0.6 1.6 -0.4 1.6 -0.1 1.6 0.5 1.6 0.9 1.6 1.2 1.6 1.3 1.6 1.3 1.6 0.9 1.6 0.6 1.6 0.2 1.6 -0.1 1.6 -0.2 1.6 0.1 1.6 0.8 1.6 1.3 1.6 1.3 1.6 0.5 1.6 0 1.6 -0.2 1.6 0.2 1.6 0.8 1.6 1.1 1.6 1.3 1.6 1 1.6 0.3 1.6 -0.8 1.6 -1.4 1.6 -1.3 1.6 -0.6 1.6 -0.2 1.6 -0.4 1.6 -1.1 1.6 -1.8 1.6 -2.1 1.6 -2.5 1.6 -2.5 1.6 -2.1 1.6 -1.7 1.6 -1.5 1.6 -1.7 1.6 -1.9 1.6 -2 1.6 -2.1 1.6 -1.4 1.6 0.4 1.6 2.2 1.6 2.3 1.6 1 1.6 0.5 1.6 0.9 1.6 1.9 1.6 2.2 1.6 1.9 1.6 1.1 1.6 0.5 1.6 0.3 1.6 0.4 1.6 0.4 1.6 0.6 1.6 0.6 1.6 0.3 1.6 -0.4 1.6 -0.8 1.6 -1 1.6 -0.6 1.6 -0.3 1.6 -0.3 1.6 -0.5 1.6 -0.8 1.6 -1.1 1.6 -1.2 1.6 -0.9 1.6 -0.3 1.6 0.7 1.6 1 1.6 0.6 1.6 -0.6 1.6 -1.4 1.6 -1.7 1.6 -1.7 1.6 -1.2 1.6 -0.1 1.3 0.9" fill="none" stroke="#2068a8" stroke-width="3" stroke-linejoin="round"/><path d="M46.5 701.6l1.6 1.3 1.6 0 1.6 -1.2 1.6 -2.4 1.6 -3.5 1.6 -3.9 1.6 -3 1.6 -1.3 1.6 0.4 1.6 1.4 1.6 0.6 1.6 -1.4 1.6 -0.9 1.6 1.7 1.6 3.3 1.6 2.8 1.6 1.4 1.6 -0.3 1.6 -1.4 1.6 -0.5 1.6 1 1.6 1.6 1.6 1.4 1.6 0.6 1.6 -0.6 1.6 -1.4 1.6 -1.7 1.6 -1 1.6 0.9 1.6 1.9 1.6 1 1.6 -0.5 1.6 -1.4 1.6 -1.3 1.6 -0.5 1.6 0.7 1.6 0.4 1.6 -1 1.6 -2 1.6 -1.9 1.6 -2.1 1.6 -2.8 1.6 -3.3 1.6 -3.1 1.6 -2.6 1.6 -2.6 1.6 -3.2 1.6 -3.3 1.6 -3.3 1.6 -3.3 1.6 -3.4 1.6 -3.1 1.6 -2.2 1.6 -1.4 1.6 -1.4 1.6 -1.7 1.6 -1.6 1.6 -1.2 1.6 -0.6 1.6 0.2 1.6 0.8 1.6 1.2 1.6 1.8 1.6 2.9 1.6 3.9 1.6 4.3 1.6 4.3 1.6 4.1 1.6 3.8 1.6 3.9 1.6 3.9 1.6 3.4 1.6 2.4 1.6 1.9 1.6 1.9 1.6 2.2 1.6 2.3 1.6 2.2 1.6 1.7 1.6 1.1 1.6 0.5 1.6 -0.3 1.6 -1.2 1.6 -1.9 1.6 -2.4 1.6 -2.1 1.6 -1.4 1.6 -0.1 1.6 0.2 1.6 -1.2 1.6 -2.8 1.6 -3.7 1.6 -3.3 1.6 -1 1.6 2.9 1.6 5.8 1.6 6.4 1.6 6.4 1.6 5.9 1.6 5.1 1.6 4.1 1.6 3.1 1.6 2.2 1.6 1.3 1.6 -0.3 1.6 -2 1.6 -3 1.6 -3.7 1.6 -5 1.6 -6.7 1.6 -7.9 1.6 -8.5 1.6 -8.5 1.6 -8.5 1.6 -8.5 1.6 -8.6 1.6 -8.6 1.6 -8.6 1.6 -9.4 1.6 -9.5 1.6 -8.6 1.6 -6.9 1.6 -4.6 1.6 -1.4 1.6 2.5 1.6 4.8 1.6 6.4 1.6 7.8 1.6 8.6 1.6 8.3 1.6 7.5 1.6 7.5 1.6 8.1 1.6 7.7 1.6 6.9 1.6 7.7 1.6 8.4 1.6 8.3 1.6 7.7 1.6 7.5 1.6 7.5 1.6 7.1 1.6 6.6 1.6 6.1 1.6 5.8 1.6 5.4 1.6 4.9 1.6 4.6 1.6 4.6 1.6 5 1.6 4.7 1.6 3.9 1.6 3 1.6 2.2 1.6 1.1 1.6 -0.7 1.6 -2.6 1.6 -3.9 1.6 -4.4 1.6 -4.1 1.6 -3.2 1.6 -3.1 1.6 -3.6 1.6 -4.6 1.6 -5.6 1.6 -5.8 1.6 -4.6 1.6 -2.9 1.6 -1.4 1.6 -0.7 1.6 -1.7 1.6 -3.3 1.6 -3.2 1.6 -1.7 1.6 -1.5 1.6 -2.9 1.6 -3.6 1.6 -3.3 1.6 -2.5 1.6 -2.2 1.6 -1.8 1.6 -1.7 1.6 -1.4 1.6 -1.2 1.6 -1.1 1.6 -1.3 1.6 -1.6 1.6 -1.3 1.6 -0.4 1.6 0.8 1.6 1.1 1.6 0.4 1.6 -0.7 1.6 -0.6 1.6 0.5 1.6 1.8 1.6 1.9 1.6 0.6 1.6 -0.9 1.6 -1.2 1.6 -0.3 1.6 0.9 1.6 1.8 1.6 2.2 1.6 2.2 1.6 1.9 1.6 1.2 1.6 0.7 1.6 0.7 1.6 0.9 1.6 0.9 1.6 0.6 1.6 -0.2 1.6 -0.6 1.6 -0.4 1.6 0.3 1.6 0.6 1.6 0.3 1.6 -0.3 1.6 -0.9 1.6 -1.4 1.6 -1.7 1.6 -1.7 1.6 -1.4 1.6 -0.9 1.6 -0.6 1.6 -0.6 1.6 -0.7 1.6 -0.9 1.6 -1.1 1.6 -1.4 1.6 -1.8 1.6 -2.2 1.6 -2.4 1.6 -2.5 1.6 -2.4 1.6 -2.3 1.6 -2.4 1.6 -2.5 1.6 -2.6 1.6 -2.3 1.6 -1.7 1.6 -1.5 1.6 -1.6 1.6 -2 1.6 -1.9 1.6 -0.8 1.6 0.7 1.6 1.6 1.6 1.3 1.6 0.6 1.6 0.1 1.6 0.5 1.6 0.9 1.6 0.9 1.6 0.5 1.6 -0.2 1.6 -0.1 1.6 0.5 1.6 1.1 1.6 0.8 1.6 -0.2 1.6 -1.5 1.6 -2.1 1.6 -2.1 1.6 -1.7 1.6 -0.5 1.6 0.9 1.6 2 1.6 1.6 1.6 0.3 1.6 -1.1 1.6 -2.2 1.6 -2.7 1.6 -2.4 1.6 -1 1.6 1 1.6 1.8 1.6 0.7 1.6 -1.5 1.6 -2.5 1.6 -2.1 1.6 -0.5 1.6 0.7 1.6 1.7 1.6 2.1 1.6 1.6 1.6 0.5 1.6 -0.8 1.6 -0.6 1.6 0.8 1.6 2.3 1.6 2.3 1.6 0.8 1.6 -0.7 1.6 -0.7 1.6 0.8 1.6 2.2 1.6 2.4 1.6 1.6 1.6 0.8 1.6 0.4 1.6 0.2 1.6 0.9 1.6 2 1.6 3.7 1.6 4.2 1.6 3 1.6 0.7 1.6 -1.1 1.6 -2.1 1.6 -2.4 1.6 -2.4 1.6 -2.5 1.6 -2.5 1.6 -2.4 1.6 -2.1 1.6 -1.7 1.6 -1.1 1.6 -0.1 1.6 0.6 1.6 0.6 1.6 -0.4 1.6 -1.5 1.6 -2 1.6 -1.9 1.6 -1.5 1.6 -0.8 1.6 -0.3 1.6 -0.1 1.6 -0.6 1.6 -1.8 1.6 -2.4 1.6 -1.7 1.6 -0.2 1.6 1.3 1.6 2 1.6 1.9 1.6 1.7 1.6 1.2 1.6 0.7 1.6 0.6 1.6 1.2 1.6 2 1.6 2.2 1.6 1.6 1.6 0.9 1.6 0.6 1.6 1.1 1.6 1.7 1.6 1.2 1.6 -0.2 1.6 -1.8 1.6 -1.9 1.6 -0.7 1.6 0.6 1.6 0.7 1.6 -0.5 1.6 -2 1.6 -2.6 1.6 -2.5 1.6 -1.6 1.3 -0.1" fill="none" stroke="#1a803c" stroke-width="3" stroke-linejoin="round"/><path d="M46.5 698.1l1.6 0.3 1.6 -0.5 1.6 -1 1.6 -1.3 1.6 -1.2 1.6 -1.1 1.6 -0.5 1.6 -0.1 1.6 0.5 1.6 0.9 1.6 1.1 1.6 0.9 1.6 0.6 1.6 0.3 1.6 -0.1 1.6 -0.4 1.6 -1.1 1.6 -1.9 1.6 -2.5 1.6 -2.5 1.6 -1.9 1.6 -0.6 1.6 1.4 1.6 2.9 1.6 2.7 1.6 1.6 1.6 0.8 1.6 0.7 1.6 0.8 1.6 0.8 1.6 0.8 1.6 0.5 1.6 0.3 1.6 -0.1 1.6 -0.4 1.6 -0.5 1.6 -0.4 1.6 -0.3 1.6 -0.4 1.6 -0.9 1.6 -1.2 1.6 -1.3 1.6 -1.4 1.6 -1.6 1.6 -1.9 1.6 -2.4 1.6 -2.8 1.6 -3 1.6 -3.1 1.6 -3.3 1.6 -3.3 1.6 -3.5 1.6 -3.6 1.6 -3.7 1.6 -3.8 1.6 -3.6 1.6 -3.3 1.6 -2.9 1.6 -2.6 1.6 -2.7 1.6 -2.4 1.6 -1.1 1.6 0.5 1.6 1.8 1.6 2.6 1.6 3.2 1.6 3.9 1.6 4.6 1.6 5 1.6 5.2 1.6 5.3 1.6 5.2 1.6 4.7 1.6 4.3 1.6 3.9 1.6 3.5 1.6 3.3 1.6 3.1 1.6 2.7 1.6 2.6 1.6 2.3 1.6 2.1 1.6 1.9 1.6 1.2 1.6 0.3 1.6 -0.4 1.6 -0.7 1.6 -0.5 1.6 -0.4 1.6 -0.4 1.6 -0.3 1.6 -0.7 1.6 -1.3 1.6 -2 1.6 -1.4 1.6 0.3 1.6 2.1 1.6 3 1.6 3.3 1.6 2.9 1.6 1.9 1.6 0.1 1.6 -1.8 1.6 -2.8 1.6 -3 1.6 -3.3 1.6 -3.9 1.6 -4.4 1.6 -4.9 1.6 -5.3 1.6 -6 1.6 -6.5 1.6 -7.1 1.6 -7.4 1.6 -7.5 1.6 -7.4 1.6 -7.6 1.6 -8.1 1.6 -8.8 1.6 -8.8 1.6 -7.4 1.6 -5.5 1.6 -3.7 1.6 0.3 1.6 3.9 1.6 5.6 1.6 6.9 1.6 8.3 1.6 8.7 1.6 7.9 1.6 7.3 1.6 7.7 1.6 8.1 1.6 7.6 1.6 7.9 1.6 8.4 1.6 8.1 1.6 7.7 1.6 7.8 1.6 8.2 1.6 8.3 1.6 8 1.6 7.6 1.6 7.4 1.6 7.2 1.6 7.4 1.6 7.4 1.6 7 1.6 6.4 1.6 5.9 1.6 5.2 1.6 3.9 1.6 2.2 1.6 0.9 1.6 -0.1 1.6 -0.8 1.6 -1.2 1.6 -1.7 1.6 -2.3 1.6 -3.2 1.6 -4 1.6 -4.7 1.6 -5.1 1.6 -5.3 1.6 -5.4 1.6 -5.4 1.6 -5.3 1.6 -4.7 1.6 -4.3 1.6 -3.7 1.6 -3.2 1.6 -2.4 1.6 -1.7 1.6 -0.9 1.6 -0.4 1.6 -0.6 1.6 -1.2 1.6 -1.8 1.6 -2.3 1.6 -2.8 1.6 -3.2 1.6 -3.3 1.6 -3.2 1.6 -3 1.6 -2.7 1.6 -2.7 1.6 -2.5 1.6 -2.4 1.6 -2.2 1.6 -2 1.6 -1.5 1.6 -1 1.6 -0.2 1.6 0.1 1.6 0.5 1.6 0.6 1.6 0.9 1.6 1.2 1.6 1.6 1.6 1.7 1.6 1.8 1.6 1.6 1.6 1.5 1.6 1.3 1.6 1.3 1.6 1.1 1.6 1.1 1.6 0.9 1.6 0.6 1.6 0.4 1.6 0 1.6 -0.3 1.6 -0.6 1.6 -0.8 1.6 -1 1.6 -1.1 1.6 -1.2 1.6 -1.4 1.6 -1.5 1.6 -1.6 1.6 -1.6 1.6 -1.7 1.6 -1.6 1.6 -1.6 1.6 -1.4 1.6 -1.5 1.6 -2 1.6 -2.3 1.6 -2.6 1.6 -2.6 1.6 -2.4 1.6 -2.3 1.6 -2.3 1.6 -2.1 1.6 -1.9 1.6 -1.5 1.6 -1.3 1.6 -1 1.6 -0.8 1.6 -0.5 1.6 0 1.6 0.5 1.6 0.9 1.6 0.9 1.6 0.4 1.6 -0.1 1.6 -0.3 1.6 -0.6 1.6 -0.5 1.6 -0.1 1.6 0.6 1.6 1 1.6 1.1 1.6 1.1 1.6 1.1 1.6 1.3 1.6 1.4 1.6 1.2 1.6 0.8 1.6 0.4 1.6 0.3 1.6 0.5 1.6 0.8 1.6 0.9 1.6 0.8 1.6 0.8 1.6 0.7 1.6 0.9 1.6 0.9 1.6 0.8 1.6 0.4 1.6 -0.2 1.6 -1.1 1.6 -2 1.6 -2.7 1.6 -2.5 1.6 -2 1.6 -1.4 1.6 -1.3 1.6 -1 1.6 -0.2 1.6 1.2 1.6 1.9 1.6 1.4 1.6 0.8 1.6 0.5 1.6 0.6 1.6 0.8 1.6 1 1.6 1.1 1.6 1.3 1.6 1.1 1.6 0.9 1.6 0.8 1.6 0.7 1.6 0.8 1.6 0.8 1.6 0.9 1.6 0.8 1.6 0.7 1.6 0.8 1.6 0.7 1.6 0.8 1.6 1 1.6 1.3 1.6 1.2 1.6 1 1.6 0.3 1.6 -0.5 1.6 -1.2 1.6 -1.4 1.6 -1.4 1.6 -1.6 1.6 -1.9 1.6 -2.3 1.6 -2.5 1.6 -2.4 1.6 -2 1.6 -1.5 1.6 -0.8 1.6 0 1.6 0.2 1.6 -0.1 1.6 -0.4 1.6 -0.5 1.6 -0.2 1.6 0.2 1.6 0.7 1.6 1 1.6 1.2 1.6 1.3 1.6 1 1.6 0.6 1.6 0 1.6 -0.8 1.6 -1.2 1.6 -1.5 1.6 -1.4 1.6 -0.9 1.6 -0.1 1.6 0.9 1.6 1.7 1.6 2.3 1.6 2.6 1.6 2.4 1.6 2 1.6 1.4 1.6 1 1.6 1.2 1.6 1.4 1.6 1.2 1.6 0.7 1.6 0 1.6 -0.4 1.6 -0.6 1.6 -0.7 1.6 -0.6 1.6 -0.6 1.6 -0.4 1.6 -0.3 1.6 -0.3 1.6 -0.3 1.3 -0.2" fill="none" stroke="#f56419" stroke-width="3" stroke-linejoin="round"/></g>
<g stroke-width="3.4" fill="none"><path d="M437.4 66.5H482.3" stroke="#2068a8"/><path d="M437.4 95.6H482.3" stroke="#1a803c"/><path d="M437.4 127.2H482.3" stroke="#f56419"/><path d="M450.9 522.3H495.6" stroke="#2068a8"/><path d="M450.9 551.9H495.6" stroke="#1a803c"/><path d="M450.9 584H495.6" stroke="#f56419"/></g>
<defs><linearGradient id="jet" x1="0" x2="1" y1="0" y2="0"><stop offset="0" stop-color="#000080"/><stop offset="0.125" stop-color="#0000ff"/><stop offset="0.375" stop-color="#00ffff"/><stop offset="0.625" stop-color="#ffff00"/><stop offset="0.875" stop-color="#ff0000"/><stop offset="1" stop-color="#800000"/></linearGradient></defs>
<rect x="813.5" y="296.6" width="446" height="37.6" fill="url(#jet)" stroke="#141420" stroke-width="1.5"/>
<rect x="813.5" y="744.2" width="446" height="36.4" fill="url(#jet)" stroke="#141420" stroke-width="1.5" transform="rotate(0.3 1036 762)"/>
<path d="M894.3 334.8v-3M1035.9 334.8v-3M1178.4 334.8v-3M823.7 780.5v-3M930.2 781v-3M1035.9 781.5v-3M1142.6 782v-3M1249.4 782.5v-3" stroke="#111" stroke-width="1"/>
<defs><filter id="tb" x="-5%" y="-5%" width="110%" height="110%"><feGaussianBlur stdDeviation="1.6"/></filter></defs>
<defs><clipPath id="cA1"><ellipse cx="861.9" cy="208.7" rx="76.3" ry="78.4"/></clipPath></defs>
<ellipse cx="862.2" cy="209.2" rx="80.2" ry="82.7" fill="#eaf2fb"/>
<g clip-path="url(#cA1)"><g filter="url(#tb)"><rect x="778.2" y="121.2" width="168" height="176" fill="#0000ff"/><path d="M782.2 121.2l164 0 0 176-168 0 0-176zM855.2 165.2l-7.8 4-3.6 4-.3 4 3 4 6.8 4 4.9 1.5 4 .8 8-.5 9.8-1.8 6.2-2.4 3.1-1.6 3.3-4 .3-4-2.8-4-7.9-3.6-8-1.7-8-.5-8 1z" fill="#0010ff"/><path d="M782.2 121.2l164 0 0 176-168 0 0-176zM858.8 157.2l-8.6 1.8-6.8 2.2-9.2 5-3.7 3-2.5 4-.9 4 1.1 4 4 4 2 1 7 3 5 1.4 8 1.7 8 1.1 12-.5 8-1.1 8-1.8 4-1.5 4-2.3 1.3-1 2.8-4 .6-4-.6-4-2-4-3.7-4-6.4-4.1-4-1.5-8-2.1-8-.8-8 .2z" fill="#0030ff"/><path d="M782.2 121.2l164 0 0 176-168 0 0-176zM847.9 153.2l-9.7 3-8 4.1-6.6 4.9-3.8 4-2.7 4-1.7 4-.9 4 .3 4 2.7 4 4.7 2.3 5 1.7 11 2.3 12.9 1.7 15.1 .7 12-.1 8-.7 8-1.5 8-2.2 4-2.1 2.8-2.1 2.3-4 .6-4-.4-4-1.2-4-2.2-4-3.1-4-4.4-4-6.4-4.1-4-1.9-8-2.6-8-1.2-8-.2-8 .4-8 1.1z" fill="#0050ff"/><path d="M782.2 121.2l164 0 0 176-168 0 0-176zM840.7 149.2l-10.1 4-7 4-5.7 4-3.7 3.2-4.5 4.8-2.6 4-1.9 4-1.3 4-.6 4 .1 4 1.2 4 1.6 2.3 2 1.7 2 1.1 4 1.2 24 2.1 8 .5 16-.2 16 .9 12-.6 20-2.9 5.2-2.1 2.8-2.5 1.1-1.5 1.5-4 .4-4-.3-4-.9-4-1.5-4-2.2-4-3.1-4-3-2.9-6.4-5.1-6.4-4-7.2-3.5-4-1.4-8-1.6-8-.6-12 .3-8 .8-8 1.6z" fill="#0070ff"/><path d="M782.2 121.2l164 0 0 176-168 0 0-176zM862.9 141.2l-8.7 .3-8 .8-8 1.7-4 1.3-8 3.6-7.6 4.3-6.6 4-5.3 4-4.1 4-3.1 4-2.2 4-1.7 4-1.7 8-.7 8 .4 4 1.5 4 3.1 3.3 4 2.1 4 1.1 4 .5 4 0 12-1.1 20 .2 16-1.3 20 2 16-.7 16 .5 4-.5 6.1-2.1 1.9-1.3 2.6-2.7 1.7-4 .5-4-.1-4-1.1-8-1-4-1.5-4-2.2-4-2.9-4-3.9-4-4.9-4-11.2-7-8-4.3-4-1.6-8-2.2-8-.9-8-.1z" fill="#0090ff"/><path d="M782.2 121.2l164 0 0 176-168 0 0-176zM842.1 137.2l-7.9 1.8-6.1 2.2-21.9 11-8 5.6-3.7 3.4-3.4 4-2.6 4-3.6 8-2.2 8-1.2 8 .1 4 .8 4 1.6 4 2.8 4 3.4 2.7 4 2 8 2.2 4 .6 8-.1 12-2.2 20-1.6 16-1.9 16 2.2 20 1.2 12 2 4 .3 8-.7 9.5-2.7 2.5-1.3 3.5-2.7 2.7-4 1.6-4 .7-4 0-4-.5-4-1.8-8-1.4-4-3.8-8-2.7-4-3.5-4-4.4-4-6.4-4.5-20-10.9-8-3.2-8-1.9-8-.7-24 .3-8 .9z" fill="#00b0ff"/><path d="M782.2 121.2l164 0 0 46.3-4.8-6.3-3.9-4-7.3-5.8-8-4.8-20-9.7-8-3.2-8-2.2-12-1.2-24 .1-8 .6-8 1.4-8 2.3-20 8.4-11.7 6.1-5.6 4-4.5 4-6.2 7.4 0-43.4zM778.4 213.2l5.3 4 6.5 3 12 3.4 8 1.2 4-.1 4-.7 12-2.9 8-1.5 12-1.4 12-.7 24 2.2 8 1.3 12 2.9 4 .7 4 .2 8-1.2 12-3.3 6.5-3.1 5.5-4.2 0 84.2-168 0 0-84.3z" fill="#00d0ff"/><path d="M782.2 121.2l164 0 0 30.1-8-5.7-8-4.4-8.8-4-19.2-7.9-12-3.5-8-1.3-8-.6-24 0-8 .3-8 1-8 1.6-16 5.1-13.9 5.3-10.1 5-8 5.3 0-26.3zM782.2 224.5l8 2.6 16 4.1 4 .7 4 .1 8-1.4 12-3.9 12-2.4 8-.5 20 .2 12 1.7 16 4.8 8 1.5 4-.1 4-.7 8.1-2 11.9-3.2 8-3.3 0 74.5-168 0 0-74.5z" fill="#09f0ee"/><path d="M782.2 121.2l30.7 0-18.7 5.4-8 2.9-8 3.5 0-11.8zM906.2 121.2l40 0 0 16.8-8-4-8-3.4-27.5-9.4zM850.2 229l12 .2 8-.3 8 .6 8 1.9 16 6.1 4 1 4 .3 8-1.1 8-2.3 20-4.8 0 66.6-168 0 0-66.6 20 4.8 8 2.2 8 1.2 4-.3 4-.9 16-6.2 4-1.1 6.3-1.1z" fill="#23ffd4"/><path d="M938.2 121.2l8 0 0 3.7-10.3-3.7zM854.2 233l16 0 8 1.1 8 2.6 16 7.5 4 1 4 .2 4-.4 4-.7 12-3.5 16-2.6 0 59-168 0 0-58.9 16 2.5 12 3.5 4 .7 4 .4 4-.2 4-1 15-7 5-1.9 4-1.2 6.3-.9z" fill="#3cffba"/><path d="M854.2 236.8l12-.3 6.4 .7 5.6 1.3 8 3.3 12 6.7 4 1.8 4 1 4 .3 8-.5 12-2.6 16-2.4 0 51.1-168 0 0-51 16 2.3 12 2.6 8 .5 4-.4 4-.9 4-1.8 16-8.5 4-1.5 5.6-1.3z" fill="#56ffa0"/><path d="M854.2 240.4l4-.5 8-.1 8 1.6 9 3.8 15 8.9 4 1.8 8 1.8 4 .2 8-.4 24-3.1 0 42.8-168 0 0-42.7 28 3.3 8-.1 4-.7 4-1.1 4-1.8 16-9.4 8.8-3.5z" fill="#70ff87"/><path d="M854.2 244.1l4-.8 4-.3 4 .3 7.4 1.9 8.2 4 16.4 10.5 4 1.8 8 2.3 4 .5 8 .2 24-1.6 0 34.3-168 0 0-34.2 24 1.6 8-.3 8-1.4 8-3.2 16.4-10.5 8.2-4z" fill="#8aff6d"/><path d="M854.2 248.1l4-1.2 4-.4 4 .4 4 1.2 4 1.6 6.2 3.5 13.8 9.9 4 2.4 4 1.9 8 2.5 8 1.3 8 .5 20-.3 0 25.8-168 0 0-25.6 12 .3 12-.3 8-.9 8-1.8 8-3.4 4-2.4 13.8-9.9 7.3-4z" fill="#a4ff53"/><path d="M854.2 252.4l4-1.3 4-.6 4 .6 4 1.3 8 4.5 12 9.2 8 5.4 4 2 8 2.8 8 1.7 8 1.1 20 .8 0 17.3-168 0 0-17.1 12-.4 12-1 8-1.4 8-2.3 8-3.5 4-2.5 15.5-11.8 6.8-4z" fill="#beff39"/><path d="M858.2 255.9l4-.5 4 .5 4 1.5 8 5.1 16 12.9 4 2.4 8 3.7 8 2.5 8 1.8 12 1.7 12 .9 0 8.8-168 0 0-8.5 12-1.1 12-1.7 8-1.9 8-2.5 8-3.7 4-2.4 16-12.9 4-2.8 4.5-2.5z" fill="#d7ff1f"/><path d="M862.2 260.8l4 .6 4 1.7 3.4 2.1 19.4 16 5.2 3.2 8 3.8 8 2.9 8 2.1 12 2.4 12 1.6-166.9 0 10.9-1.5 12-2.4 12-3.6 8-3.2 8-4.4 4-2.9 16-13.6 4-2.5 4-1.7 1.4-.2z" fill="#f1fc06"/><path d="M858.2 267.9l4-.7 4 .7 4 2 4 2.8 16 13.7 8 5 12.5 5.8-96.9 0 8.4-3.7 8-4.4 8-5.9 12-10.5 5.3-3.5z" fill="#ffde00"/><path d="M858.2 276l4-.7 4 .7 4 2.1 4 2.9 12 10.2 8.8 6-65.6 0 8.8-6 12-10.2 5.7-3.8z" fill="#ffc100"/><path d="M862.2 285l4 .9 4 2.1 12.1 9.2-40.2 0 12.1-9.2 4-2.1 3.2-.7z" fill="#ffa300"/></g><path d="M857.2 161.4l-5 1.3-4.1 1.5-4.9 2.5-3.5 2.5-2.4 2.5-1.3 2.5-.1 2.5 1 2.5 2.2 2.5 3.6 2.5 5.4 2.5 7.8 2.5 3.8 .8 5 .3 10.8-1.1 6.7-1.3 5-1.5 4.8-2.2 2.7-2.1 2-2.9 .7-2.5 0-2.5-.7-2.5-1.6-2.5-2.9-2.6-4.4-2.4-5.6-1.9-5-1.1-5-.6-7.5-.1-5 .5zM854.7 154l-7.5 1.6-7.5 2.5-7.4 3.6-5.1 3.7-3.7 3.8-1.7 2.5-1.3 2.5-.9 2.5-.5 2.5 0 2.5 .8 2.5 2.3 2.8 2.5 1.6 2.5 1.2 7.5 2.4 10 2.2 10 1.3 10 .6 10-.1 10-.9 7.5-1.5 6.7-2.1 4.8-2.5 2.6-2.5 1.5-2.5 .7-2.5 .1-2.5-.2-2.5-.7-2.5-2.4-5-3.1-3.8-4.2-3.7-5.8-3.5-5-2.1-5-1.5-7.5-1.2-7.5-.3-10 .6zM867.2 146.7l-7.5 .2-7.5 .7-5 .8-5 1.1-5 1.6-5 2.1-5 2.7-5.2 3.3-4.8 3.7-4.1 3.8-2.1 2.5-3.2 5-1.2 2.5-1.6 5-.5 5 .2 2.5 .8 2.5 1.7 2.8 2.7 2.2 2.3 1 2.5 .7 5 .7 22.5 2.1 20 .2 17.5 .8 10-.7 15-2.1 5-1.1 4-1.6 3.5-2.9 1.3-2.1 1-2.5 .5-5-.6-5-1.5-5-1.2-2.5-3.3-5-4.9-5-3-2.5-5.8-3.9-7.5-4.1-7.5-2.6-7.5-1.4-9.5-.5zM847.2 141.6l-7.5 1.4-5 1.5-5 2-5 2.5-9.2 5.2-5.8 3.7-4.8 3.8-4.7 5-3.2 5-2.2 5-1.3 5-1.4 10 .1 5 .6 2.5 1 2.5 .9 1.3 2.5 2.4 2.1 1.3 2.9 1.1 2.5 .7 5 .7 5-.1 10-1.2 20 .1 17.5-1.6 17.5 2 7.5 .2 12.5-.7 12.5 .9 5-.3 5-1.1 2.5-1 2.5-1.4 2.5-2.5 1.7-3.3 .6-2.5 .2-2.5-.2-5-.6-5-1.8-7.5-2.1-5-3.1-5-4.5-5-5.2-4.3-4.8-3.2-12.7-7.5-5.6-2.5-6.9-2.1-5-.9-7.5-.6-15 .2-10 .8M942.2 175.2l-3.1-6-3.5-5-2.2-2.5-6.2-5.8-7.5-5-20-10.6-7.5-3.1-5-1.5-5-.9-10-.7-22.5 .3-7.5 .7-5 .9-5 1.4-7.5 2.8-18.6 9-4.4 2.5-4.5 3-5.2 4.5-4.4 5-3.3 5-2.1 4.1M782.2 208.6l2.8 3.1 2.2 1.7 5 2.6 5 1.6 5 1.2 7.5 .9 5-.3 15-3 32.5-3.4 15 1.9 20 1.8 12.5 2.4 5 .4 2.5-.1 7.5-1.2 7.5-2.2 5-2.6 2.3-1.7 2.7-3M942.2 153.8l-6.1-4.6-8.3-5-8.1-3.9-17.5-7.7-7.5-2.7-5-1.3-7.5-1.3-7.5-.5-30 .2-7.5 .8-7.5 1.5-5 1.4-7.5 2.6-17.5 7-10 5.1-7.5 5.2M782.2 221.2l7.5 3 7.5 2.1 10 2.3 5 .5 2.5-.1 5-.9 12.5-3.5 7.5-1.7 10-1.3 7.5-.2 12.5 .1 10 .7 10 1.7 17.5 4.7 5 .5 2.5-.1 5-.9 12.5-3.2 5-1.6 5-2.1M800.5 126.7l-10.8 3.8-7.5 3.2M942.2 138.2l-12.5-5.7-15.5-5.8M782.2 230.4l15 3.5 10 2.7 5 .8 2.5 .1 2.5-.2 5-1 15-5.6 5-1.4 5-.9 5-.4 10 .4 7.5-.4 5 .1 5 .7 5 1.1 5 1.6 12.5 4.7 5 1.1 2.5 .2 2.5-.1 5-.7 10-2.8 15-3.5M782.2 239.4l12.5 1.9 10 2.9 5 1.1 5 .4 2.5-.1 5-1 15-7.2 5-1.9 5-1.4 7.5-.9 15 0 5 .5 7.5 1.8 5 1.9 15 7.1 2.5 .7 5 .5 7.5-.9 12.5-3.5 12.5-2M782.2 249l10 1.3 15 2.8 5 .3 5-.4 5-1.2 2.5-1 12.5-7 7.5-3.5 7.5-2.1 5-.7 5-.2 5 .2 5 .7 7.5 2.1 7.5 3.5 12.5 7 2.5 1 5 1.3 5 .3 5-.3 15-2.8 10-1.4M782.2 259.2l22.5 2.1 7.5-.3 5-.8 5-1.4 5-2.4 12.5-7.8 7.5-4 7.5-2.4 2.7-.5 4.8-.4 4.8 .4 2.7 .5 7.5 2.4 7.5 4 12.5 7.8 5 2.4 5 1.5 5 .7 7.5 .3 22.5-2.2M782.2 269.6l12.5 .4 7.5-.2 7.5-.6 7.5-1.6 5-1.7 5-2.5 5-3.2 10-7 6.7-4 6.3-2.5 4.5-1 2.5-.2 2.5 .2 4.6 1 6.2 2.5 6.7 3.9 10 7.1 5 3.2 5 2.5 5 1.7 7.5 1.6 7.5 .6 7.5 .1 12.5-.4M782.2 279.9l12.5-.6 10-1.1 7.5-1.5 7.5-2.3 5-2.2 5-2.9 13.2-10.1 6.8-4.6 5-2.5 2.5-.8 5-.9 5 .9 2.5 .8 5 2.5 6.9 4.6 13.1 10.1 5 2.9 5 2.2 7.5 2.3 7.5 1.5 10 1 12.5 .5M782.2 290.2l10-1.1 10-1.6 10-2.5 7.5-2.7 7.5-3.6 5-3.3 13.5-11.2 6.5-4.6 5-2.2 2.5-.7 2.5-.2 2.5 .2 2.5 .7 5 2.2 6.5 4.6 13.5 11.2 5 3.3 7.5 3.6 7.5 2.6 10 2.5 10 1.6 10 1M817.5 291.7l7.2-3.4 7.5-4.4 5-3.9 10-8.9 5.9-4.4 4.1-2.2 2.5-.7 2.5-.3 2.5 .3 2.5 .7 4.1 2.2 5.9 4.4 10 8.9 5 3.8 7.5 4.5 7.3 3.4M834 291.7l5.7-4.3 12.5-10.7 5-3 2.5-.8 2.5-.3 2.5 .3 2.5 .8 5 3 12.5 10.7 5.7 4.3" fill="none" stroke="#3a3232" stroke-width="1.4" stroke-linejoin="round"/></g>
<path d="M788.8 192.7C781.6 189.7 781.9 192.2 781.9 199.2L781.9 223.2C781.9 230.7 782.9 231.2 790.6 227.7" fill="#f2f7fd" stroke="#000" stroke-width="2.8" stroke-linejoin="round"/>
<path d="M935.6 192.7C942.8 189.7 942.5 192.2 942.5 199.2L942.5 223.2C942.5 230.7 941.5 231.2 933.8 227.7" fill="#f2f7fd" stroke="#000" stroke-width="2.8" stroke-linejoin="round"/>
<path d="M850.7 136L858.6 127.8Q862.2 123.7 865.8 127.8L873.7 136" fill="none" stroke="#000" stroke-width="2.9" stroke-linejoin="round" stroke-linecap="round"/>
<ellipse cx="862.2" cy="209.2" rx="73.7" ry="76.2" fill="none" stroke="#000" stroke-width="3.1"/>
<g fill="#111"><circle cx="806.8" cy="188.0" r="1.9"/><circle cx="843.4" cy="190.4" r="1.9"/><circle cx="862.2" cy="190.9" r="1.9"/><circle cx="881.0" cy="190.4" r="1.9"/><circle cx="917.6" cy="188.0" r="1.9"/><circle cx="823.4" cy="209.2" r="1.9"/><circle cx="862.2" cy="209.2" r="1.9"/><circle cx="901.0" cy="209.2" r="1.9"/><circle cx="806.8" cy="230.0" r="1.9"/><circle cx="843.7" cy="228.2" r="1.9"/><circle cx="880.7" cy="228.2" r="1.9"/><circle cx="917.6" cy="230.0" r="1.9"/><circle cx="830.0" cy="247.8" r="1.9"/><circle cx="862.2" cy="245.8" r="1.9"/><circle cx="894.4" cy="247.8" r="1.9"/><circle cx="839.7" cy="279.5" r="1.9"/><circle cx="862.2" cy="283.2" r="1.9"/><circle cx="884.7" cy="279.5" r="1.9"/><circle cx="802.7" cy="165.7" r="1.4"/><circle cx="921.7" cy="165.7" r="1.4"/><circle cx="798.4" cy="184.6" r="1.4"/><circle cx="926.0" cy="184.6" r="1.4"/><circle cx="862.2" cy="138.3" r="1.4"/><circle cx="850.9" cy="140.2" r="1.4"/><circle cx="873.5" cy="140.2" r="1.4"/><circle cx="839.5" cy="143.1" r="1.4"/><circle cx="884.9" cy="143.1" r="1.4"/><circle cx="796.1" cy="231.9" r="1.4"/><circle cx="928.4" cy="231.9" r="1.4"/><circle cx="805.5" cy="250.8" r="1.4"/><circle cx="918.9" cy="250.8" r="1.4"/><circle cx="819.7" cy="265.9" r="1.4"/><circle cx="904.7" cy="265.9" r="1.4"/></g><g fill="#fff"><circle cx="830" cy="170.9" r="4.3"/><circle cx="862.2" cy="172.8" r="4.3"/><circle cx="894.4" cy="170.9" r="4.3"/></g>
<defs><clipPath id="cA2"><ellipse cx="1040.3" cy="208.7" rx="76.3" ry="78.4"/></clipPath></defs>
<ellipse cx="1040.6" cy="209.2" rx="80.2" ry="82.7" fill="#eaf2fb"/>
<g clip-path="url(#cA2)"><g filter="url(#tb)"><rect x="956.6" y="121.2" width="168" height="176" fill="#000092"/><path d="M960.6 121.2l164 0 0 176-168 0 0-176zM1032.5 165.2l-6.2 4-2.9 4-.3 4 2.4 4 5.6 4 5.5 2.2 4 1 4 .4 12-.8 8-1.5 3.6-1.3 5.4-4 2-4 .1-4-1.8-4-1.3-1.4-4-3-8-2.6-8-.8-4 .1-8 1.1-8 2.6z" fill="#0000b6"/><path d="M960.6 121.2l164 0 0 176-168 0 0-176zM1026.6 157.2l-6 2.5-4 2.2-4.5 3.3-3.6 4-1.6 4-.3 4 1.1 4 2.9 4 5.6 4 4.4 1.8 6.9 2.2 9.1 1.6 8 .6 8-.1 8-.6 8.4-1.5 3.6-1.2 5.7-2.8 4.1-4 1.8-4 .4-4-.6-4-1.6-4-1.8-2.7-4-4.3-4-2.8-4-2.2-4-1.5-8-1.7-4-.4-8 .2-8 .9-8 1.9z" fill="#0000da"/><path d="M960.6 121.2l164 0 0 176-168 0 0-176zM1026.6 149.2l-6 1.7-8 3.7-4 2.5-4 3.2-4.6 4.9-2.4 4-1.6 4-.7 4 0 4 1 4 2.5 4 4.7 4 5.1 2.5 8 2.4 8 1.3 12 1 16 .5 12-.6 8-1.4 8-2.3 6.3-3.4 3.6-4 1.7-4 .5-4-.2-4-.8-4-1.6-4-1.5-2.4-4-5.1-5.1-4.5-6.9-4.6-4-2-8-2.5-4-.7-8-.5-12 .7-8 1.1z" fill="#0000ff"/><path d="M960.6 121.2l164 0 0 176-168 0 0-176zM1031.5 141.2l-10.9 1.8-8 2.9-6.1 3.3-5.8 4-4.8 4-3.9 4-3 4-2.1 4-1.5 4-.8 4-.3 4 .2 4 .9 4 1.9 4 3.6 4 5.7 3.3 8 2.6 8 1.5 8 .7 20 .1 16 .8 12-.6 12-1.9 8-2.1 4-2 4-3.5 1.9-2.9 1.5-4 .6-4 .1-4-1.2-8-1.5-4-2.2-4-3.2-4.2-3.8-3.8-4.2-3.3-8-5.6-8-4.3-8-2.5-8-1-8 0-12 .6z" fill="#0010ff"/><path d="M960.6 121.2l164 0 0 176-168 0 0-176zM1012.2 137.2l-8.7 4-14.9 10.1-6.4 5.9-3.1 4-2.4 4-1.7 4-1.7 8 .1 12 .6 4 1.2 4 2.5 4 2.9 2.6 4 2.4 8 2.7 8 1.4 12 .9 12-.1 16-.8 16 1.1 8 .1 24-1.8 8-2 5.1-2.5 2.9-2.7 1.1-1.3 2-4 .9-4 .4-4 .1-8-1.1-8-1.3-4-1.9-4-4.2-6.1-6-5.9-18-12.4-8-3.9-8-2.3-4-.6-8-.4-20 .4-8 .9-8 2.1z" fill="#0030ff"/><path d="M960.6 121.2l164 0 0 176-168 0 0-176zM1006.1 129.2l-5.5 2.1-8 4-8 4.6-7.7 5.3-4.6 4-3.8 4-3 4-2.3 4-1.8 4-2.4 8-.9 8 0 8 1.2 8 1.3 4 2.1 4 3.3 4 2.6 2 3.8 2 4.2 1.4 8 1.8 12 1.2 16-.1 28-1.8 24 1.3 24 .3 8-.5 8-1.7 4.8-1.9 3.2-2.1 2.1-1.9 2.7-4 1.6-4 .8-4 .3-4-.6-12-1.3-8-1.2-4-1.6-4-2.8-5-4-5.3-4-4.1-8-6.2-16-10.3-8-4.1-8-2.7-4-.8-8-.9-24-.4-12 1.1-8 1.9z" fill="#0050ff"/><path d="M960.6 121.2l30.4 0-10.1 4-8.4 4-7.9 4.6-8 6.1 0-18.7zM1076.6 121.2l48 0 0 36.4-3-4.4-3.4-4-4-4-5.6-4.6-8-5.5-12-7.2-8-4.2-6-2.5zM957.2 217.2l7.4 3.9 4 1.4 8 1.6 8 .7 16-.4 32-2.9 8-.3 12 .5 36 2.9 8 .2 8-.6 8-2 4-1.8 4-2.4 4-3.6 0 82.8-168 0 0-80.4z" fill="#0070ff"/><path d="M1104.6 121.2l20 0 0 15.2-9.5-7.2-13.4-8zM959 229.2l5.6 1.5 8 1.3 12 .3 16-1.4 28-3.7 8-.6 8 0 16 1.2 28 3.9 12 .7 8-.6 4-.8 6.4-1.8 5.6-2.4 0 70.4-168 0 0-68.8z" fill="#0090ff"/><path d="M1024.6 232.9l12-1.1 8-.1 8 .5 12 1.7 24 4.6 12 1.2 12-.6 8-1.5 4-1.2 0 60.8-168 0 0-59.4 12 1.8 12 .1 16-1.8 26.4-4.7z" fill="#00b0ff"/><path d="M1032.6 237l12-.3 12 1.2 32 7.2 12 1.6 12 0 12-1.7 0 52.2-168 0 0-50.9 12 .9 8-.1 8-.7 16-2.9 20-4.6 10.7-1.7z" fill="#00d0ff"/><path d="M1016.6 245.1l8-1.9 8-1.3 8-.5 8 .4 12 2.1 24 6.9 12 2.3 8 .7 8 .1 12-1 0 44.3-168 0 0-43 16 .2 12-1.2 12-2.4 19.7-5.6z" fill="#09f0ee"/><path d="M1020.6 249.2l8-2 8-1 8 0 4 .3 12 2.6 20 7.1 12 2.8 8 1.2 8 .6 8 0 8-.4 0 36.8-168 0 0-35.5 16-.5 16-2.1 12-2.9 16-5.7z" fill="#23ffd4"/><path d="M1024.6 253l8-1.8 4-.4 8-.1 4 .5 4 .7 8 2.3 16.8 7 11.2 3.3 8 1.4 12 1.4 16 .3 0 29.6-168 0 0-28.3 16-1.1 12-1.7 8-1.6 8-2.1 16-6.7 7.3-2.5z" fill="#3cffba"/><path d="M1028.6 256.7l8-1.5 4-.1 8 .6 6 1.5 6 2 16 7.4 8 2.7 8 1.8 12 2.1 12 1.2 8 .2 0 22.6-168 0 0-21.2 20-2.4 20-4.3 8-2.7 12-5.6 10.1-3.8z" fill="#56ffa0"/><path d="M1032.6 260.3l8-.8 8 .8 8 2.4 20 9.1 12 4 16 3.5 12 1.6 8 .6 0 15.7-168 0 0-14.3 20-3.1 16-3.9 12-4.1 16-7.5 8.6-3.1z" fill="#70ff87"/><path d="M1032.6 265l8-1.1 8 1.1 8 2.6 20 9.3 12 4.4 16 4.1 8 1.4 12 1.5 0 8.9-168 0 0-7.4 20-3.8 16-4.6 12-4.5 20-9.3 7.2-2.4z" fill="#8aff6d"/><path d="M1036.6 269l4-.3 4 .3 8 2.1 8 3.3 16 7.7 12 4.8 16 4.6 12 2.5 8 1.1 0 2.1-168 0 0-.4 20-4.6 16-5.1 12-5 20-9.5 4-1.5 7-1.9z" fill="#a4ff53"/><path d="M1028.6 276.3l8-2.2 4-.3 4 .3 4 .9 8 2.9 20 9.7 8 3.5 8 3 9.9 3.1-121.7 0 15.8-5.9 29.7-14.1z" fill="#beff39"/><path d="M1032.6 280.5l4-.9 4-.4 4 .4 4 .9 8 3.1 28.3 13.6-87.9 0 24.1-12 9.3-4z" fill="#d7ff1f"/><path d="M1040.6 285.1l4 .5 8 2.5 18.8 9.1-61.3 0 18.5-9.1 8-2.5 3.2-.4z" fill="#f1fc06"/><path d="M1036.6 292.7l4-.4 4 .4 4 .9 8.9 3.6-33.7 0 4.8-2.1 5.8-1.9z" fill="#ffde00"/></g><path d="M1040.6 158.8l-5 1-5.9 1.9-5.3 2.5-3.8 2.5-2.8 2.5-1.8 2.5-.8 2.5 0 2.5 .8 2.5 2.1 2.9 2.3 2.1 2.7 1.7 7.2 3.3 5.3 1.5 5 1 5 .2 7.5-.3 7.5-.9 5-1 5-1.7 2.6-1.3 3.1-2.5 1.9-2.5 1-2.5 .4-2.5-.1-2.5-.7-2.5-1.1-2.5-1.8-2.5-2.8-2.5-5-3-5-1.7-5-1.1-5-.4-5 0-5 .4zM1028.1 151.6l-7.5 2.3-7.5 3.7-5.7 4.1-2.5 2.5-2 2.5-1.5 2.5-1.1 2.5-1.1 5 0 2.5 .5 2.5 .9 2.5 2.5 3.7 1.3 1.3 3.5 2.5 5.2 2.5 7.5 2.1 7.5 1.3 12.5 1.1 12.5 .3 10-.6 7.5-1.3 7.5-2.3 5-2.6 3.4-3 1.7-2.5 1-2.5 .5-2.5-.1-5-1.2-5-1.1-2.5-3.3-5-2.4-2.5-2.8-2.5-5.7-3.9-5-2.5-7.5-2.4-5-.8-7.5-.4-10 .7-7.5 1.1zM1038.1 141.6l-7.5 .6-5 .7-5 1.2-5 1.6-5 2.3-5 3-5 3.6-5 4.4-2.5 2.7-3.5 5-1.3 2.5-1.7 5-.5 2.5-.4 5 .6 5 .7 2.5 1.1 2.5 1.8 2.5 3.2 2.8 3.6 2.2 3.9 1.6 7.5 2.1 7.5 1.2 7.5 .5 17.5 .2 15 .7 7.5-.2 10-1.1 12-2.5 5.5-2.2 3.9-2.8 2.1-2.5 1.3-2.5 1.4-5 .3-2.5 0-5-.9-5-.8-2.5-2.3-5-1.6-2.5-4.3-5-6.6-5.4-5-3.6-5-3.1-7.5-3.3-7.5-1.8-7.5-.7-10 .2zM1020.6 134.1l-5 1.1-5 1.7-5 2.2-5 2.8-10 6.7-5 3.8-4.4 4.3-3.8 5-2.7 5-1.6 5-1 5-.2 7.5 .5 7.5 1.2 5 2 3.9 3.4 3.6 4.1 2.5 5 1.9 7.5 1.8 7.5 .9 7.5 .5 7.5 .1 22.5-1.1 15 1.1 7.5 .1 22.5-1.3 7.5-1 5-1.5 2.5-1.2 2.5-1.5 2.5-2.4 1.1-1.4 1.4-2.5 1.4-5 .4-5 0-7.5-.8-7.5-1.5-5-1.1-2.5-2.8-5-4.2-5-3.9-3.6-15-10.5-5-3.2-5-2.5-7.5-2.5-5-1-7.5-.5-20 .2-5 .3-5 .7M1002.1 126.7l-6.5 2.6-7.5 3.6-6.9 3.8-5.6 3.6-5 3.7-3 2.7-4.5 4.8-2.5 3.3M1120.6 168.4l-3-6.7-3.2-5-4.2-5-4.6-4.3-7.5-5.5-15-9.5-5-2.7-6.9-3M960.6 209.6l2.1 2.1 2.9 2.1 5 2.4 7.5 2.1 10 1.3 7.5 .3 10-.1 35-2.3 22.5 1.3 27.5 1 5-.2 5-.5 5-1.1 3.9-1.3 3.6-1.8 2.5-1.7 2.5-2.4 2.5-3.4M1120.6 141.4l-5-4.2-4.1-3-12-7.5M960.6 225.4l5 1.5 7.5 1.5 5 .5 7.5 .1 15-.9 30-3.4 7.5-.5 7.5 .1 15 1.1 27.5 3.1 10 .6 7.5-.5 5-.9 5-1.4 5-2.1M960.6 236.8l5 .8 7.5 .6 5 .1 7.5-.4 12.5-1.6 27.5-4.6 7.5-.8 7.5-.3 7.5 .2 10 1 30 5.2 10 1 7.5 .1 5-.4 5-.7 5-1.2M960.6 246.9l12.5 .5 12.5-1 12.5-2.3 25-5.6 10-1.4 7.5-.4 7.5 .3 10 1.2 7.5 1.6 20 4.8 10 1.8 5 .4 7.5 .2 6.1-.3 6.4-.8M960.6 256.3l7.5 0 7.5-.4 12.5-1.6 12.5-2.9 15.1-4.7 7.4-2 10-1.7 7.5-.4 7.5 .3 10 1.7 7.5 2 17.5 5.5 10 2.2 7.5 .9 7.5 .5 12.5-.5M960.6 265.1l15-1 15-2.4 10-2.5 15-5.9 7.5-2.4 5-1.3 5-.8 7.5-.6 7.5 .5 5 .8 5 1.3 7.5 2.5 15 5.9 10 2.5 7.5 1.2 7.5 .8 7.5 .4 7.5 0M960.6 273.7l7.5-.8 10-1.4 15-3 10-2.9 15-6.8 7.5-2.7 7.5-1.7 7.5-.6 7.5 .5 7.5 1.7 7.5 2.8 15 6.8 10 2.9 7.5 1.5 10 1.5 7.5 .7 7.5 .3M960.6 282l17.5-2.9 15-3.7 7.5-2.4 5-1.9 12.5-6 7.5-3.1 7.5-2.1 7.5-.7 7.5 .7 7.5 2.1 7.5 3.1 12.5 6 5 1.9 7.5 2.3 15 3.3 10 1.5 7.5 .7M960.6 290.3l15-3.1 15-4.2 12.5-4.6 22.5-10.4 7.5-2.4 5-.8 2.5-.1 5 .4 7.5 2 7.5 3 17.5 8.3 12.5 4.4 15 3.8 15 2.4M986.1 291.7l14.5-5.6 20-9.7 7.5-3.1 7.5-2.2 5-.4 5 .4 7.5 2.2 7.5 3.2 20 9.5 7.5 2.9 8.3 2.8M1003.8 291.7l16.8-8.5 7.5-3.3 7.5-2.3 5-.5 5 .5 7.5 2.3 7.5 3.3 17 8.5" fill="none" stroke="#3a3232" stroke-width="1.4" stroke-linejoin="round"/></g>
<path d="M967.2 192.7C960 189.7 960.3 192.2 960.3 199.2L960.3 223.2C960.3 230.7 961.3 231.2 969 227.7" fill="#f2f7fd" stroke="#000" stroke-width="2.8" stroke-linejoin="round"/>
<path d="M1114 192.7C1121.2 189.7 1120.9 192.2 1120.9 199.2L1120.9 223.2C1120.9 230.7 1119.9 231.2 1112.2 227.7" fill="#f2f7fd" stroke="#000" stroke-width="2.8" stroke-linejoin="round"/>
<path d="M1029.1 136L1037 127.8Q1040.6 123.7 1044.2 127.8L1052.1 136" fill="none" stroke="#000" stroke-width="2.9" stroke-linejoin="round" stroke-linecap="round"/>
<ellipse cx="1040.6" cy="209.2" rx="73.7" ry="76.2" fill="none" stroke="#000" stroke-width="3.1"/>
<g fill="#111"><circle cx="985.2" cy="188.0" r="1.9"/><circle cx="1021.8" cy="190.4" r="1.9"/><circle cx="1040.6" cy="190.9" r="1.9"/><circle cx="1059.4" cy="190.4" r="1.9"/><circle cx="1096.0" cy="188.0" r="1.9"/><circle cx="1001.8" cy="209.2" r="1.9"/><circle cx="1040.6" cy="209.2" r="1.9"/><circle cx="1079.4" cy="209.2" r="1.9"/><circle cx="985.2" cy="230.0" r="1.9"/><circle cx="1022.1" cy="228.2" r="1.9"/><circle cx="1059.1" cy="228.2" r="1.9"/><circle cx="1096.0" cy="230.0" r="1.9"/><circle cx="1008.4" cy="247.8" r="1.9"/><circle cx="1040.6" cy="245.8" r="1.9"/><circle cx="1072.8" cy="247.8" r="1.9"/><circle cx="1018.1" cy="279.5" r="1.9"/><circle cx="1040.6" cy="283.2" r="1.9"/><circle cx="1063.1" cy="279.5" r="1.9"/><circle cx="981.1" cy="165.7" r="1.4"/><circle cx="1100.1" cy="165.7" r="1.4"/><circle cx="976.8" cy="184.6" r="1.4"/><circle cx="1104.4" cy="184.6" r="1.4"/><circle cx="1040.6" cy="138.3" r="1.4"/><circle cx="1029.3" cy="140.2" r="1.4"/><circle cx="1051.9" cy="140.2" r="1.4"/><circle cx="1017.9" cy="143.1" r="1.4"/><circle cx="1063.3" cy="143.1" r="1.4"/><circle cx="974.4" cy="231.9" r="1.4"/><circle cx="1106.8" cy="231.9" r="1.4"/><circle cx="983.9" cy="250.8" r="1.4"/><circle cx="1097.3" cy="250.8" r="1.4"/><circle cx="998.1" cy="265.9" r="1.4"/><circle cx="1083.1" cy="265.9" r="1.4"/></g><g fill="#fff"><circle cx="1008.4" cy="170.9" r="4.3"/><circle cx="1040.6" cy="172.8" r="4.3"/><circle cx="1072.8" cy="170.9" r="4.3"/></g>
<defs><clipPath id="cA3"><ellipse cx="1218.7" cy="208.7" rx="76.3" ry="78.4"/></clipPath></defs>
<ellipse cx="1219" cy="209.2" rx="80.2" ry="82.7" fill="#eaf2fb"/>
<g clip-path="url(#cA3)"><g filter="url(#tb)"><rect x="1135" y="121.2" width="168" height="176" fill="#000092"/><path d="M1139 121.2l164 0 0 176-168 0 0-176zM1209.9 161.2l-6.9 1-8 2.3-4 2.1-3.4 2.6-2.3 4-.7 4 .5 4 1.9 4 4.3 4 3.7 1.8 6.9 2.2 13.1 1.8 4 .1 8-.5 8-1.2 4-1 4-1.4 4-2 4-3.8 1.9-4 .5-4-.7-4-2.3-4-3.4-2.6-4-2.1-4-1.3-4-1-8-1.1-8-.3-8 .3z" fill="#0000b6"/><path d="M1139 121.2l164 0 0 176-168 0 0-176zM1198.3 153.2l-7.3 2.6-4 2.1-4 2.8-4.6 4.5-2.7 4-1.7 4-.8 4-.2 4 .7 4 1.3 3.6 3.1 4.4 4.9 3.9 4 1.7 4 1.2 8 1.4 12 .8 12 .2 16-1 8-1.4 7.7-2.8 4.3-3.1 3.8-4.9 1.5-4 .7-4-.2-4-.8-4-1.7-4-2.7-4-4-4-4.6-3.3-4-2.1-4-1.6-8-2-8-.9-12-.1-8 .4-8 1.4z" fill="#0000da"/><path d="M1139 121.2l164 0 0 176-168 0 0-176zM1194.1 145.2l-3.1 1.1-5.8 2.9-10.2 7.1-5.1 4.9-2.9 4-2.2 4-1.4 4-.8 4-.2 8 .7 4 1.4 4 2.5 4 4 3.7 4 2.4 4.3 1.9 7.7 1.8 8 .7 20 .4 24-.2 12-.9 8-1.9 7.7-3.9 4.3-4 2.5-4 1.4-4 .7-4-.2-8-.8-4-1.4-4-2.2-4-2.9-4-4.1-4-5.1-4-7.9-5.1-4-1.8-8-2.5-4-.6-8-.6-16 0-8 .6-8 1.7z" fill="#0000ff"/><path d="M1139 121.2l164 0 0 176-168 0 0-176zM1187.5 137.2l-8.5 4.5-11 7.5-5 3.9-4 4.2-2.9 3.9-2.1 4-1.5 4-1.5 8 .2 16 .9 4 2 4 4.3 4 8.3 4 4.3 1.4 8 1.9 8 .9 32-.3 32 .3 8-.9 12.3-3.3 8.3-4 4.3-4 2-4 .9-4 .3-4-.1-12-1.5-8-1.5-4-2.1-4-3-4-3.8-4-5.1-4-15-9.9-8-3.5-4-1.1-4-.8-8-.6-24 0-8 .6-8 1.9z" fill="#0010ff"/><path d="M1139 121.2l63.4 0-11.4 1.5-4 1-8 2.9-12.8 6.6-12.3 8-4.7 4-3.8 4-3 4-2.4 4-3.2 8-1 4-.8 6.3 0-54.3zM1239 121.2l64 0 0 54.3-.8-6.3-1-4-3.2-8-2.4-4-3-4-3.8-4-4.7-4-12.3-8-12.8-6.6-8-2.9-4-1-11.4-1.5zM1135.1 189.2l1.4 8 1.5 4 2.2 4 3.4 4 3.4 2.3 3.6 1.7 4.4 1.3 13 2.7 15 1.6 8 .1 28-1.2 32 1.2 12-.7 12-1.9 12-3 4-1.8 4-2.9 2.8-3.4 2.2-4 1.5-4 .9-4 .6-5.2 0 109.2-168 0 0-109.2z" fill="#0030ff"/><path d="M1135 122.3l0-1.1 1.7 0zM1303 121.2l0 1.1-1.7-1.1zM1138.6 217.2l4.4 2 8 2.4 8 1.1 16 1.2 16 0 28-1.9 28 1.9 12 .2 16-1 12-1.5 8-2.4 4.4-2 3.6-2.3 0 82.3-168 0 0-82.3z" fill="#0050ff"/><path d="M1136.8 225.2l10.2 2.7 12 1.2 24 .1 36-2.9 32 2.7 12 .4 16-.3 8-.6 8-1.4 8-2.6 0 72.7-168 0 0-72.7z" fill="#0070ff"/><path d="M1138.6 233.2l12.4 1.7 16 0 20-1 24-2.7 8-.5 8 .5 28 3 24 .9 12-.6 12-2.2 0 64.9-168 0 0-64.9z" fill="#0090ff"/><path d="M1199 237.1l12-1.4 8-.4 12 .8 24 3 24 1.8 12-.1 12-1.4 0 57.8-168 0 0-57.8 12 1.4 12 .1 24-1.8 15.1-1.9z" fill="#00b0ff"/><path d="M1203 241l12-1.1 8 0 8 .6 24 3.5 20 2.2 16 .6 12-.8 0 51.2-168 0 0-51.2 12 .8 12-.3 24-2.5 18.4-2.8z" fill="#00d0ff"/><path d="M1207 244.8l8-.6 12 .2 8 .9 24 4.3 16 2.2 16 .9 12-.4 0 44.9-168 0 0-44.9 12 .4 16-.9 16-2.2 25-4.4z" fill="#09f0ee"/><path d="M1207 249l8-.6 12 .2 8 1 24 5.3 12 1.9 16 1.5 16 .2 0 38.7-168 0 0-38.7 16-.2 16-1.5 12-1.9 20-4.5 6.8-1.2z" fill="#23ffd4"/><path d="M1207 253.1l8-.8 12 .3 12 2.1 16 4.4 12 2.4 20 2.3 16 .7 0 32.7-168 0 0-32.7 16-.7 20-2.3 8-1.4 20-5.4 7.6-1.5z" fill="#3cffba"/><path d="M1207 257.2l12-1.1 8 .5 12 2.4 16 5.1 8 1.8 20 3 20 1.5 0 26.8-168 0 0-26.8 20-1.5 20-3 8-1.8 16-5.1 8-1.8z" fill="#56ffa0"/><path d="M1211 260.6l8-.7 8 .7 12 2.7 16 5.4 8 2 20 3.5 20 2 0 21-168 0 0-21 20-2 20-3.5 8-2 16-5.4 8.4-2.1z" fill="#70ff87"/><path d="M1211 264.6l8-.8 8 .8 8 1.9 20 6.6 12 3.2 20 3.8 16 1.9 0 15.2-168 0 0-15.2 16-1.9 20-3.8 8-2 20-6.7 9.1-2.4z" fill="#8aff6d"/><path d="M1211 268.9l8-.9 8 .9 12 3.1 20 6.8 12 3.3 16 3.4 16 2.3 0 9.4-168 0 0-9.4 16-2.3 16-3.4 12-3.3 20-6.8 10.5-2.8z" fill="#a4ff53"/><path d="M1215 272.8l8 0 8 1.5 9.9 2.9 18.1 6.4 12 3.6 16 3.8 16 2.7 0 3.5-168 0 0-3.5 16-2.7 16-3.8 12-3.6 20-7 13.5-3.4z" fill="#beff39"/><path d="M1203 280.2l12-2.5 4-.2 8 .8 12 3.1 32 11 19.2 4.8-142.4 0 11.2-2.6 12-3.4 28.7-10z" fill="#d7ff1f"/><path d="M1207 284.4l8-1.4 4-.2 4 .2 8 1.4 12 3.5 26.2 9.3-100.4 0 26.2-9.3 8.7-2.7z" fill="#f1fc06"/><path d="M1211 289.2l8-.7 8 .7 12 3 14.3 5-68.6 0 14.3-5 11.8-3z" fill="#ffde00"/><path d="M1203 297l8-1.7 8-.7 8 .7 8.6 1.9-33.2 0z" fill="#ffc100"/></g><path d="M1199 158.9l-7.5 2.8-4.2 2.5-3.3 3.1-1.5 1.9-1.3 2.5-.9 2.5-.4 2.5-.1 2.5 .3 2.5 .7 2.5 1.3 2.5 1.8 2.5 2.6 2.3 4.9 2.7 5.1 1.6 5 1 10 1.1 7.5 .4 7.5-.4 10-1.1 5-1 5.1-1.6 4.9-2.7 2.6-2.3 1.8-2.5 1.3-2.5 .7-2.5 .3-2.5-.1-2.5-.4-2.5-.9-2.5-1.3-2.5-2-2.5-2.8-2.5-4.2-2.5-5-2-7.5-1.8-7.5-.9-10-.2-7.5 .4-7.5 1.1zM1201.5 146.6l-5 1.2-5 1.7-7.5 3.9-4.6 3.3-3 2.5-2.5 2.5-3.8 5-1.3 2.5-1.8 5-.5 2.5-.3 5 .5 5 .7 2.5 1.6 3.7 2.5 3.5 3.1 2.8 4.4 2.6 5 1.9 7.5 1.4 12.5 .8 17.5 .3 17.5-.5 10-1 2.9-.5 4.6-1.4 5-2.4 1.9-1.2 2.8-2.5 2-2.5 1.4-2.5 1-2.5 1.1-5 .1-2.5-.3-5-1.3-5-1-2.5-3-5-4.7-5.1-2.9-2.4-4.6-3.3-5-2.8-7.5-2.8-7.5-1.5-7.5-.6-12.5-.1-10 .7zM1194 136.1l-5 1.6-5 2.3-5 3-10 6.9-5 3.9-2.5 2.5-4.2 5.4-2.5 5-1.7 5-.8 5-.3 5 .2 7.5 .6 5 .6 2.5 1.1 2.5 1.8 2.5 2.7 2.5 2.5 1.6 7.5 3.4 7.5 2.1 7.5 1.3 10 .4 25-.4 27.5 .4 7.5-.4 7.5-1.3 5-1.3 5-1.8 3.3-1.5 4.2-2.5 2.7-2.5 1.8-2.5 1.1-2.5 1-5 .3-5 0-7.5-.5-5-1.3-5-2-5-3.1-4.9-2.1-2.6-5.5-5-14.4-10-5.5-2.9-7.5-2.7-7.5-1.4-7.5-.5-10 .2-12.5-.1-5 .4-5 .8zM1172.4 126.7l-10.9 5.8-5 3.1-5.1 3.6-3.1 2.5-4.3 4.2-2.7 3.3-2.3 3.2M1299 152.4l-2.3-3.2-2.7-3.3-4.3-4.2-3.1-2.5-5.1-3.6-5-3.1-10.9-5.8M1139 206.9l2.1 2.3 2.9 2.4 5.1 2.6 9.5 2.5 15.4 2.3 7.5 .6 7.5 .2 30-1.4 32.5 1.4 7.5-.3 7.5-.8 10-1.5 7.5-1.5 5-1.5 4.9-2.5 3-2.5 2.1-2.3M1139 221.2l7.5 2.5 7.5 1.3 7.5 .6 17.5 .7 12.5-.4 20-1.7 7.5-.4 7.5 .4 22.5 1.9 7.5 .2 10-.2 12.5-.6 7.5-.9 7.5-1.6 5-1.8M1139 231l5 1 7.5 .9 7.5 .3 12.5-.2 15-.7 25-2.6 7.5-.5 7.5 .5 27.5 2.8 22.5 .7 12.5-.5 10-1.7M1139 239.6l5 .6 7.5 .4 12.5-.4 20-1.5 25-3.1 10-.6 10 .6 25 3.1 20 1.5 12.5 .4 7.5-.4 5-.6M1139 247.6l10 .4 12.5-.6 20-2.2 25-3.8 12.5-.8 12.5 .8 25 3.8 20 2.2 12.5 .6 10-.4M1139 255.3l12.5-.1 12.5-1 15-2.2 25-4.9 7.5-.8 7.5-.2 7.5 .2 7.5 .8 25 4.9 15 2.2 12.5 1 12.5 .1M1139 262.8l15-.8 15-1.7 10-1.7 17.5-4.6 7.5-1.6 7.5-1 7.5-.2 7.5 .2 7.5 1 7.5 1.6 17.5 4.6 10 1.7 15 1.7 15 .8M1139 270l17.5-1.5 17.5-2.5 7.5-1.6 15-4.8 7.5-1.9 7.5-1.3 7.5-.4 7.5 .4 7.5 1.3 7.5 1.9 15 4.8 7.5 1.6 17.5 2.5 17.5 1.5M1139 277.2l15-1.7 17.5-3 10-2.3 15-5.1 7.5-2.2 7.5-1.5 7.5-.6 7.5 .6 7.5 1.5 7.5 2.2 15 5.1 10 2.3 17.5 3 15 1.7M1139 284.4l15-2.2 15-3.1 12.5-3.4 15-5.1 7.5-2.3 7.5-1.7 7.5-.8 7.5 .8 7.5 1.7 7.5 2.3 15 5.1 12.5 3.4 15 3.1 15 2.2M1139 291.6l12.5-2.1 12.5-2.8 12.5-3.6 17.5-6.1 10-3.1 7.5-1.7 7.5-.8 7.5 .8 7.5 1.7 10 3.1 17.5 6.1 12.5 3.6 12.5 2.8 12.5 2.1M1169.4 291.7l9.6-3.2 15-5.5 7.5-2.3 10-2.5 7.5-.7 7.5 .7 10 2.5 7.5 2.3 15 5.5 9.6 3.2" fill="none" stroke="#3a3232" stroke-width="1.4" stroke-linejoin="round"/></g>
<path d="M1145.6 192.7C1138.4 189.7 1138.7 192.2 1138.7 199.2L1138.7 223.2C1138.7 230.7 1139.7 231.2 1147.4 227.7" fill="#f2f7fd" stroke="#000" stroke-width="2.8" stroke-linejoin="round"/>
<path d="M1292.4 192.7C1299.6 189.7 1299.3 192.2 1299.3 199.2L1299.3 223.2C1299.3 230.7 1298.3 231.2 1290.6 227.7" fill="#f2f7fd" stroke="#000" stroke-width="2.8" stroke-linejoin="round"/>
<path d="M1207.5 136L1215.4 127.8Q1219 123.7 1222.6 127.8L1230.5 136" fill="none" stroke="#000" stroke-width="2.9" stroke-linejoin="round" stroke-linecap="round"/>
<ellipse cx="1219" cy="209.2" rx="73.7" ry="76.2" fill="none" stroke="#000" stroke-width="3.1"/>
<g fill="#111"><circle cx="1163.6" cy="188.0" r="1.9"/><circle cx="1200.2" cy="190.4" r="1.9"/><circle cx="1219.0" cy="190.9" r="1.9"/><circle cx="1237.8" cy="190.4" r="1.9"/><circle cx="1274.4" cy="188.0" r="1.9"/><circle cx="1180.2" cy="209.2" r="1.9"/><circle cx="1219.0" cy="209.2" r="1.9"/><circle cx="1257.8" cy="209.2" r="1.9"/><circle cx="1163.6" cy="230.0" r="1.9"/><circle cx="1200.5" cy="228.2" r="1.9"/><circle cx="1237.5" cy="228.2" r="1.9"/><circle cx="1274.4" cy="230.0" r="1.9"/><circle cx="1186.8" cy="247.8" r="1.9"/><circle cx="1219.0" cy="245.8" r="1.9"/><circle cx="1251.2" cy="247.8" r="1.9"/><circle cx="1196.5" cy="279.5" r="1.9"/><circle cx="1219.0" cy="283.2" r="1.9"/><circle cx="1241.5" cy="279.5" r="1.9"/><circle cx="1159.5" cy="165.7" r="1.4"/><circle cx="1278.5" cy="165.7" r="1.4"/><circle cx="1155.2" cy="184.6" r="1.4"/><circle cx="1282.8" cy="184.6" r="1.4"/><circle cx="1219.0" cy="138.3" r="1.4"/><circle cx="1207.7" cy="140.2" r="1.4"/><circle cx="1230.3" cy="140.2" r="1.4"/><circle cx="1196.3" cy="143.1" r="1.4"/><circle cx="1241.7" cy="143.1" r="1.4"/><circle cx="1152.8" cy="231.9" r="1.4"/><circle cx="1285.2" cy="231.9" r="1.4"/><circle cx="1162.3" cy="250.8" r="1.4"/><circle cx="1275.7" cy="250.8" r="1.4"/><circle cx="1176.5" cy="265.9" r="1.4"/><circle cx="1261.5" cy="265.9" r="1.4"/></g><g fill="#fff"><circle cx="1186.8" cy="170.9" r="4.3"/><circle cx="1219" cy="172.8" r="4.3"/><circle cx="1251.2" cy="170.9" r="4.3"/></g>
<defs><clipPath id="cB1"><ellipse cx="861.9" cy="644" rx="76.3" ry="78.4"/></clipPath></defs>
<ellipse cx="862.2" cy="644.5" rx="80.2" ry="82.7" fill="#eaf2fb"/>
<g clip-path="url(#cB1)"><g filter="url(#tb)"><rect x="778.2" y="556.5" width="168" height="176" fill="#00b0ff"/><path d="M782.2 556.5l164 0 0 176-168 0 0-176z" fill="#00d0ff"/><path d="M790.2 556.5l156 0 0 176-168 0 0-133.7 1.6-2.3 1.8-4 1.1-4 2.3-20 2-12z" fill="#09f0ee"/><path d="M798.2 556.5l148 0 0 176-168 0 0-121.2 4.1-2.8 4.5-4 3-4 1.6-4 .9-8 .9-20 2.2-12z" fill="#23ffd4"/><path d="M806.2 556.5l140 0 0 176-168 0 0-113.1 12-7.5 4.4-3.4 3.6-4.2 1.4-3.8 .6-4-.1-16 .3-8 1.1-8 2.1-8z" fill="#3cffba"/><path d="M814.2 556.5l132 0 0 176-168 0 0-106.4 15.7-9.6 5.5-4 4-4 2.4-4 1.3-4 .5-4-.6-16 .6-8 1.8-8 3-8z" fill="#56ffa0"/><path d="M822.2 557.3l.5-.8 102.5 0 9 6.3 12 10.8 0 158.9-168 0 0-100.3 24.2-15.7 4.7-4 3.5-4 2.4-4 1.4-4 .5-4-1-12 .5-8 2.2-8 3.7-8z" fill="#70ff87"/><path d="M838.2 557.7l1.6-1.2 32.4 0 2.8 4 1.6 4 1.6 12.4 2.4 3.6 1.6 1.1 4 .2 4-2.2 8-6.4 4-1.7 4-.8 4 .2 4 .9 4 1.7 4 2.4 4 3.3 13 13.3 7 6.2 0 133.8-168 0 0-94.6 31.6-21.4 4.8-4 4-4 3-4 1.8-4 .6-4-.3-4-1.7-8 .3-4 3.9-9 4-5.8 4.7-5.2z" fill="#8aff6d"/><path d="M842.2 595.6l4-1.7 4-.2 4 .8 8 2.6 8 1 16 3.4 8 1.3 4-.7 4-1.6 4-2.6 4-1.1 4 .6 8 4 24 15.1 0 116-168 0 0-89 20-14.1 25.3-16.9 5.3-4 4.3-4 5.1-5.7 3.1-2.3z" fill="#a4ff53"/><path d="M842.2 608.3l4-1.6 4-1 4-.5 8 0 8 1.1 24 5 12 .2 8 1 4 1 4 1.6 24 13.4 0 104-168 0 0-83.5 20-15 12-8.1 28-15.8 3.6-1.6z" fill="#beff39"/><path d="M854.2 612.3l8-.8 29.4 5 18.6 2.5 8 2.6 4 1.9 16 10.1 8 4.1 0 94.8-168 0 0-78 22.6-18 13.4-8.8 8-4.2 12-5.5 8-3.1 10.7-2.4z" fill="#d7ff1f"/><path d="M842.2 620.2l4-.9 8-.9 16 .2 12 1.2 24 3.9 8 2.5 4 1.9 7.3 4.4 12.7 8.9 8 3.8 0 87.3-168 0 0-72.4 23-19.6 9-6.5 12-6.6 12-4.8 7-2.1z" fill="#f1fc06"/><path d="M846.2 623.9l8-.5 24 .4 16 2 12 2.6 8 3.1 4 2.2 16 11.7 4 2.4 8 3.8 0 80.9-168 0 0-66.8 23.5-21.2 4.9-4 7.6-5.2 4-2.3 8-3.6 8-2.8 8.8-2.1z" fill="#ffde00"/><path d="M846.2 628.1l8-.6 24 .4 12 1.3 12 2.3 8 2.9 4.1 2.1 6.1 4 13.8 10.4 12 6.6 0 75-168 0 0-61.1 12-10.9 12.1-12 4.5-4 7.4-5.5 4.2-2.5 7.8-3.6 8-2.5 9-1.9z" fill="#ffc100"/><path d="M842.2 632.4l12-1 20 .2 16 1.4 12 2.5 8 3.3 4 2.4 20 15 12 7.1 0 69.2-168 0 0-55.3 12-11.3 16-16.5 8-6.6 4-2.6 8-3.9 8-2.4 7.5-1.4z" fill="#ffa300"/><path d="M842.2 636.1l8-.7 12-.5 16 .7 16 1.7 8 2.1 4 1.7 8 4.7 20 15.6 12 7.7 0 63.4-168 0 0-49 16-16.2 12-13.3 8-7.2 8-5.3 4-1.8 8-2.3 5.3-.9z" fill="#ff8600"/><path d="M838.2 640.3l12-1.1 16-.3 20 1.1 8 1.1 4 .9 6.5 2.5 6.9 4 5.3 4 17.3 14.3 12 8.3 0 57.4-168 0 0-42.1 20-22.1 8-9.5 8-7.8 8-5.8 4-2 4-1.3 6.8-1.4z" fill="#ff6800"/><path d="M838.2 644l12-.9 12-.2 20 .6 8 .8 8 1.6 4 1.5 4 2.1 8 5.6 16 14.1 16 12.3 0 51-168 0 0-34.1 14.1-17.9 17-20 4.9-5 8-6.3 4-2.1 4-1.5 5.1-1.1z" fill="#ff4a00"/><path d="M838.2 648l8-.7 16-.1 20 .4 8 .7 8 1.8 4 1.7 8 5 4.5 3.7 15.5 14.5 16 13.5 0 44-168 0 0-24.5 10.3-15.5 8.9-12 12.8-15.8 4-4.4 4.1-3.8 5.7-4 6.2-2.8 4.7-1.2z" fill="#ff2d00"/><path d="M838.2 652.2l12-.6 32 .3 8 .6 8 2 4.4 2 5.9 4 4.7 4 21 20.8 12 11.2 0 36-168 0 0-12.8 8-13 8-14.2 8.1-12 9.5-12 7.7-8 6.7-4.7 4-1.7 6.3-1.6z" fill="#fa0f00"/><path d="M846.2 656.4l16 .5 20-.3 8 .6 8 2.1 4 1.9 4 2.8 8.8 8.5 23.2 25.4 8 8 0 26.6-167.6 0 5.3-8 4.6-8 9.4-20 4.1-8 5.4-8 6.8-8.7 6.8-7.3 5.2-3.8 4-1.8 4-1.2 8.2-1.2z" fill="#d60000"/><path d="M830.2 664.3l8-2 8-.6 40 .5 8 1.1 4 1.2 4 2.5 5.9 5.5 14 16 12.1 15.9 4 4.6 8 7.9 0 15.6-157.5 0 4.9-8 3.9-8 3-8 3.7-12 1.5-4 2-4 5.5-8 6.4-8 3.9-4 2.7-2 3.6-2z" fill="#b20000"/><path d="M842.2 668.3l44 .6 4 .5 4 1 4 1.8 4.7 4.3 11.3 13 4 5.8 7.7 13.2 4.3 5.6 6 6.4 10 8.7 0 3.3-146.1 0 4.9-8 3.8-8 1.9-8 1.2-12 1-4 2-4 5.5-8 5.8-6.4 4-2.8 4-1.6 5.7-1.2z" fill="#8d0000"/></g><path d="M782.2 626l10.6-6.5 7.3-5 2.9-2.5 2.3-2.5 1.8-2.5 1.4-2.5 .9-2.5 .8-5-.6-15 .2-5 1.3-7.5 2.4-7.5M909.7 562l7.5 2.4 5 2.6 2.5 1.5 7.4 6 10.1 10.2M782.2 633l16.8-11 7.1-5 5.8-5 4.3-5 1.5-2.5 1.1-2.5 .7-2.5 .1-5-1.4-10 0-2.5 .9-5 .7-2.5 2.4-5.6 4.2-6.9M782.2 639.5l36.5-25 9.4-7.5 2.3-2.5 1.9-2.5 3.1-5 4.3-7.8 2.5-3.4 2.5-1.9 2.5-.5 2.5 1.4 5.4 4.7 3.6 2.5 3.5 1.7 2.5 .8 25 5 2.5 .1 2.5-.3 2.5-1.1 1.8-1.2 2.3-2.5 3.4-5.4 2.5-1.9 2.5 .3 2.5 1.1 2.5 1.7 14.7 11.7 12.8 8.9M782.2 646l18.7-14 13.8-8.9 22.5-12.5 5-2.5 5-1.7 5-1 5-.4 7.5 .4 7.5 1.3 20 4.3 5 .5 12.5 .2 5 .7 5 1.5 5 2.3 17.5 10.1M782.2 652.4l15.8-12.9 6.7-5 7.5-4.9 7.5-4.1 15-6.7 7.5-2.8 7.5-1.8 10-1.4 2.5-.1 2.5 .3 25 4.1 15 2.1 7.5 1.6 5 1.7 5 2.4 5 3 10 6.7 5 2.8M782.2 658.9l19.3-16.9 6.5-5 6.7-4.3 7.5-3.8 10-3.9 10-3 7.5-1.3 5-.2 7.5 .4 10-.2 5 .4 17.5 2.2 12.5 2.6 7.5 2.7 5 2.6 5.1 3.3 9.9 7.5 7.5 4M782.2 665.6l22.5-21.1 6.5-5 6-3.8 7.5-3.6 7.5-2.6 7.5-2 10-1.4 22.5-.1 7.5 .4 15 1.9 10 2.2 7.5 3 5 2.7 5 3.4 10 7.8 5 3.1 5 2.7M782.2 672.3l10-9.5 12.8-13.3 5.8-5 6.4-4.5 7.5-3.8 7.5-2.5 10-2.1 7.5-.8 12.5-.3 17.5 .6 12.5 1.4 5 .9 5 1.3 6.1 2.3 6.4 3.5 5 3.5 12.5 9.7 10 6.2M782.2 679.3l12.5-12.5 8.6-9.8 3.9-4.1 5-4.6 5-3.8 5-3 2.5-1.2 5-1.8 7.5-1.7 10-1.2 15-.7 17.5 .8 12.5 1.3 5 .9 5 1.5 5.9 2.6 6.6 4.1 17.5 13.8 10 6.8M782.2 687.1l15-16.6 11.6-13.5 3.4-3.4 5-4.3 5-3.4 5-2.4 7.5-1.9 10-1.3 15-.7 17.5 .5 12.5 1 5 .8 5 1.3 5 2.1 7.5 4.5 6 4.7 14 11.9 10 7.2M782.2 696.4l8.9-11.9 16.5-20 4.6-5.2 5-4.7 5-3.7 5-2.7 2.5-.9 5-1.2 7.5-1 7.5-.4 12.5-.2 20 .6 10 1 5 1.1 2.5 .9 5 2.3 7.5 5 4.9 4.1 12.6 11.5 12.5 10.1M782.2 708.5l10.1-16.5 5-7.5 11.7-15 6.6-7.5 4.1-3.8 2.5-1.9 5-2.9 5-1.8 7.5-1.3 10-.5 32.5 .3 10 1 3.8 .9 3.7 1.3 2.6 1.2 4.2 2.5 5.7 4.4 17.5 16.8 12.5 11.5M782.2 724.3l7-12.3 8.5-17.5 2.7-5 4.9-7.5 6.9-9.1 5-5.9 2.5-2.5 5-3.9 5-2.5 3.2-1.1 4.3-.9 5-.6 5-.1 15 .5 15-.3 7.5 .1 7.5 .9 5 1.3 2.5 1 5.3 3.1 5.9 5 31.3 33.1M792.1 727l4-7.5 2.2-5 2.7-7.5 3-10 1.9-5 2.7-5 3.4-5 7.7-9.7 5-4.9 2.5-1.6 5-2.2 7.5-1.6 7.5-.3 17.5 .4 20-.1 7.5 .8 5 1.4 2.5 1.1 2.6 1.7 2.9 2.5 7 7.5 10.7 12.5 11.8 15.5 7.5 8.2M806.2 727l4.2-7.5 1.9-5 1.1-5 .2-10 .6-5 .8-2.5 1.2-2.5 3.5-5.6 5.6-6.9 2.8-2.5 4.1-2.5 2.5-.9 5-1.1 7.5-.4 40 1.1 5 .8 2.5 .9 2.5 1.4 2.5 2 2.5 2.5 11.8 13.7 1.7 2.5 6.6 12.5 5.3 7.5 4.6 5.1 8.1 7.4M824.5 727l5.6-7.5 2.1-3.8 1.2-3.7 .3-5-1.8-12.5 .2-2.5 .7-2.5 1.5-2.5 3-2.5 4.9-1.8 5-.6 5 .2 10 1.3 12.5 .6 5 1 4.1 1.8 3.4 2.7 1.7 2.3 1.4 2.5 1.5 5 1.7 10 1.2 2.8 2.5 2.6 2.5 1.7 10 5.6 7.3 4.8M839.4 727l7.8-16.5 2.5-4.1 2.5-2.6 2.5-1.7 2.5-.9 2.5-.5 2.5 0 5 .9 2.5 1.1 2.5 1.6 2.5 2.2 2.5 3 7.5 11.5 5 6" fill="none" stroke="#4a5256" stroke-width="1.4" stroke-linejoin="round"/></g>
<path d="M788.8 628C781.6 625 781.9 627.5 781.9 634.5L781.9 658.5C781.9 666 782.9 666.5 790.6 663" fill="#f2f7fd" stroke="#000" stroke-width="2.8" stroke-linejoin="round"/>
<path d="M935.6 628C942.8 625 942.5 627.5 942.5 634.5L942.5 658.5C942.5 666 941.5 666.5 933.8 663" fill="#f2f7fd" stroke="#000" stroke-width="2.8" stroke-linejoin="round"/>
<path d="M850.7 571.3L858.6 563.1Q862.2 559 865.8 563.1L873.7 571.3" fill="none" stroke="#000" stroke-width="2.9" stroke-linejoin="round" stroke-linecap="round"/>
<ellipse cx="862.2" cy="644.5" rx="73.7" ry="76.2" fill="none" stroke="#000" stroke-width="3.1"/>
<g fill="#111"><circle cx="830.0" cy="606.2" r="1.9"/><circle cx="862.2" cy="608.1" r="1.9"/><circle cx="894.4" cy="606.2" r="1.9"/><circle cx="806.8" cy="623.3" r="1.9"/><circle cx="843.4" cy="625.7" r="1.9"/><circle cx="862.2" cy="626.2" r="1.9"/><circle cx="881.0" cy="625.7" r="1.9"/><circle cx="917.6" cy="623.3" r="1.9"/><circle cx="806.8" cy="665.3" r="1.9"/><circle cx="843.7" cy="663.5" r="1.9"/><circle cx="880.7" cy="663.5" r="1.9"/><circle cx="917.6" cy="665.3" r="1.9"/><circle cx="839.7" cy="714.8" r="1.9"/><circle cx="862.2" cy="718.5" r="1.9"/><circle cx="884.7" cy="714.8" r="1.9"/><circle cx="802.7" cy="601.0" r="1.4"/><circle cx="921.7" cy="601.0" r="1.4"/><circle cx="798.4" cy="619.9" r="1.4"/><circle cx="926.0" cy="619.9" r="1.4"/><circle cx="862.2" cy="573.6" r="1.4"/><circle cx="850.9" cy="575.5" r="1.4"/><circle cx="873.5" cy="575.5" r="1.4"/><circle cx="839.5" cy="578.4" r="1.4"/><circle cx="884.9" cy="578.4" r="1.4"/><circle cx="796.1" cy="667.2" r="1.4"/><circle cx="928.4" cy="667.2" r="1.4"/><circle cx="805.5" cy="686.1" r="1.4"/><circle cx="918.9" cy="686.1" r="1.4"/><circle cx="819.7" cy="701.2" r="1.4"/><circle cx="904.7" cy="701.2" r="1.4"/></g><g fill="#fff"><circle cx="823.4" cy="644.5" r="4.3"/><circle cx="862.2" cy="644.5" r="4.3"/><circle cx="901" cy="644.5" r="4.3"/><circle cx="830" cy="683.1" r="4.3"/><circle cx="862.2" cy="681.1" r="4.3"/><circle cx="894.4" cy="683.1" r="4.3"/></g>
<defs><clipPath id="cB2"><ellipse cx="1040.3" cy="644" rx="76.3" ry="78.4"/></clipPath></defs>
<ellipse cx="1040.6" cy="644.5" rx="80.2" ry="82.7" fill="#eaf2fb"/>
<g clip-path="url(#cB2)"><g filter="url(#tb)"><rect x="956.6" y="556.5" width="168" height="176" fill="#0090ff"/><path d="M964.6 557.1l.2-.6 159.8 0 0 176-168 0 0-155.6 3.9-8.4 2.9-8z" fill="#00b0ff"/><path d="M972.6 556.8l.1-.3 151.9 0 0 176-168 0 0-140.5 4-5.1 4-6.9 3-7.5 3.9-12z" fill="#00d0ff"/><path d="M980.6 556.5l144 0 0 176-168 0 0-130.2 6.7-5.8 3.4-4 2.6-4 3.3-7.1 1.7-4.9 5.8-20z" fill="#09f0ee"/><path d="M988.6 556.5l136 0 0 176-168 0 0-122.2 8.4-5.8 4.6-4 3.5-4 2.5-4 2-4 3-8 6.5-24z" fill="#23ffd4"/><path d="M996.6 556.5l128 0 0 176-168 0 0-115.5 13.2-8.5 5-4 3.5-4 2.7-4 3.6-7.5 1.7-4.5 7.6-28z" fill="#3cffba"/><path d="M1000.6 556.6l112.7-.1 5.5 8 5.8 6.2 0 161.8-168 0 0-109.4 20-13.1 5.8-5.5 3-4 4.4-8 3.1-8 6.5-24z" fill="#56ffa0"/><path d="M1008.6 556.5l88.1 0 6.5 16 2.1 4 2.7 4 3.9 4 4.7 3.2 8 3.1 0 141.7-168 0 0-103.5 24.4-16.5 4.4-4 6.5-8 4.5-8 3.1-8 5.4-20 2.6-8z" fill="#70ff87"/><path d="M1016.6 556.5l66.6 0 2.4 8 3.6 16 1.6 4 2.4 4 3.6 4 3.8 3 8 4.3 8 2.3 8 1.3 0 129.1-168 0 0-97.8 24-16.7 7.1-5.5 4.2-4 6.6-8 4.6-8 1.7-4 2.6-8 4.2-16 3-8z" fill="#8aff6d"/><path d="M1020.6 560.1l1.9-3.6 48.2 0 2.7 8 1 8-1.1 20 .9 4 2.4 2.7 3.1 1.3 8.9 2.1 15.3 5.9 4.7 1.4 16 2.4 0 120.2-168 0 0-92 10.1-8 22.8-16 4.9-4 7.9-8 5.9-8 4-8 2.5-8 2.9-12 2.8-8z" fill="#a4ff53"/><path d="M1032.6 556.5l24.6 0 2.9 4 1.7 4 1 4 .4 4-.1 4-2 16 .6 4 2 4 3.8 4 5.1 2.7 4 1.3 12 2.1 20 6.2 16 2.6 0 113.1-168 0 0-85.9 6.8-6.1 9.2-7.3 23.8-16.7 5.1-4 8.6-8 3.7-4 3.1-4 2.4-4 2.8-8 2.3-12 1.1-4 3.1-6.9 4-5.1z" fill="#beff39"/><path d="M1044.6 564.4l4 3.2 .6 .9 1.2 4 .1 4-.6 4-1.3 4.5-1.9 3.5-1 4 .9 4 3.1 4 5.2 4 6.9 4 10 4 16.8 3.8 20 5.9 16 3.5 0 106.8-168 0 0-79.5 13.1-12.5 10.1-8 24.1-16 12.7-9.3 10.2-6.7 5-4 3.2-4 .8-4-.9-12 .3-4 1.4-4.4 4.1-3.6z" fill="#d7ff1f"/><path d="M1020.6 612.2l4-1.6 4-1 4-.4 16 1.2 4 .9 16.8 5.2 19.2 4.5 20 6.1 16 4.5 0 100.9-168 0 0-72.8 14.6-15.2 4.5-4 8.9-7.1 12-7.8 20-11.6 3.3-1.5z" fill="#f1fc06"/><path d="M1028.6 615.8l8-.5 8 .4 12 2 32 7.5 36 12.1 0 95.2-168 0 0-66.1 5.9-5.9 14.4-16 4.4-4 7.3-5.7 8-5.2 16-8.3 8-3.4 4.9-1.4z" fill="#ffde00"/><path d="M1032.6 620.4l8-.4 8 .8 32 6.2 16 5.1 28 11.1 0 89.3-168 0 0-59.6 8.6-8.4 9.7-12 5.7-6.3 6.1-5.7 5.9-4.5 8-4.7 12-5.6 8-2.9 11.1-2.3z" fill="#ffc100"/><path d="M1016.6 628.4l12-2.8 12-1 16 1.8 16 2.6 12 2.9 8 2.8 13.7 5.8 18.3 8.8 0 83.2-168 0 0-53.3 12-11.6 11.4-15.1 3.4-4 5.2-5 4-3.3 8-5.2 8-3.7 7.8-2.8z" fill="#ffa300"/><path d="M1016.6 632.5l12-2.5 12-.7 16 1.1 12 1.6 8 1.5 8 2.2 11.6 4.8 15.7 8 12.7 7.3 0 76.7-168 0 0-47.1 12-11.4 4-4.4 12.2-17.1 7.8-8 5.2-4 6.8-3.8 11.9-4.2z" fill="#ff8600"/><path d="M1016.6 636.4l12-2.1 16-.5 16 .9 8 1 8 1.4 8 2.5 10.6 4.9 7.1 4 22.3 14.2 0 69.8-168 0 0-40.6 18.9-19.4 10.8-16 7.1-8 4.7-4 6.5-4 4-1.6 7.7-2.4z" fill="#ff6800"/><path d="M1016.6 640.4l12-1.8 20-.5 16 .9 12 1.9 8 2.8 9.3 4.8 6.1 4 16.6 12.4 8 5.2 0 62.4-168 0 0-33.6 20-21.9 3.5-4.5 8.5-12.9 4-5.1 4-4.1 4-3.3 4-2.6 4-1.7 7.8-2.3z" fill="#ff4a00"/><path d="M1020.6 643.8l12-1.2 20-.3 12 .6 12 1.9 8 3.3 7.6 4.4 5.4 4 15 13 12 8.2 0 54.8-168 0 0-25.9 24-28.8 11.9-17.3 4.1-4.8 4-3.8 4-2.9 4-1.9 8.6-2.6z" fill="#ff2d00"/><path d="M1020.6 648.3l12-1.3 12-.4 12 .1 12 .8 8 1.7 4 1.6 4 2.1 8 5.6 16 15.5 8 6.3 8 5.4 0 46.8-168 0 0-17.2 28-36.8 9.7-14 6.3-7.2 4-3.1 4-2.4 4-1.5 7-1.8z" fill="#fa0f00"/><path d="M1028.6 652.1l12-.9 8-.1 12 .3 8 .7 8 2 4 1.8 4 2.4 4 3 3.5 3.2 12.5 13.8 4 3.8 8 6.4 8 5.5 0 38.5-168 0 0-7.1 8-11.2 17.3-25.7 17.7-24 5-4.7 5.5-3.3 6.5-2.4 8.4-1.6z" fill="#d60000"/><path d="M1040.6 656.4l20 0 8 .8 8 2.3 4 2.1 4.1 2.9 4.1 4 11.8 14.3 4 4.2 8 7.1 12 8.6 0 29.8-164.9 0 10.7-16 14.2-24.2 16-21.8 4-4.3 4-2.9 4-2 4-1.5 8-1.7 15-1.6z" fill="#b20000"/><path d="M1028.6 664.2l24-1.9 12 .2 8 1.5 4 1.6 4 2.7 4.3 4.2 11.7 15.5 7.8 8.5 8.2 7 12 8.5 0 20.5-156 0 8-13.3 11.6-22.7 2.4-4 14-17.9 4-3.7 4-2.5 8-2.8 6.1-1.1z" fill="#8d0000"/></g><path d="M1106.8 562l3.8 7.2 2.5 3.7 3.6 4.1 3.9 3.2M960.6 623.5l17.5-11.5 5.6-5 4.1-5 4.5-7.5 3.2-7.5 2.3-7.5 4.6-17.5M1088.8 562l4.3 15.4 1.9 4.6 3.1 5 2.1 2.5 2.8 2.5 5.1 3.4 5 2.2 7.5 1.9M960.6 630.1l22.7-15.6 5.7-5 2.4-2.5 4-5 4.7-7.5 3.2-7.5 1.7-5 5.4-20M1074.2 562l1 5 .5 5 .1 5-.6 10 .1 5 .4 2.5 1.6 2.5 3.3 1.7 7.5 2.4 17.5 7 5.1 1.4 9.9 1.4M960.6 636.6l7.5-5.7 16.5-11.4 6.6-5 5.7-5 6.6-7.5 3.5-5 3.9-7.5 1.7-5 3.8-15 2.5-7.5M1060.1 562l1.7 5 .7 5-.4 7.5-1.5 10 0 5 .6 2.5 1.1 2.5 1.9 2.5 1.4 1.4 2.5 2 2.5 1.5 2.5 1 17.5 3.7 17.5 5.4 12.5 2.2M960.6 643.3l7.4-6.3 6.6-5 24.9-17.5 8.5-7.5 7.2-7.5 3.7-5 2.3-5 1.5-5 3-15 1.9-5 1.3-2.5M960.6 650.7l6.1-6.2 5.6-5 8.3-6.5 7.5-5.3 13.2-8.2 11.8-8.1 7.5-4.7 7.5-3.9 5-1.9 2.5-.6 2.5-.3 2.5 .2 2.5 .9 17.5 8.4 5.9 2.5 4.1 1.3 17.5 4.1 20 5.9 12.5 3M1043.1 571.1l.7 .9 .2 2.5-.9 2.2-2.5-2.2 .2-2.5zM960.6 658.5l13.1-14 8.6-7.5 6.8-5 9-5.5 17.5-9.5 7.5-3.1 5-1.3 2.5-.3 5-.1 10 .6 7.5 1.2 15 4 20 4.7 32.5 10.1M960.6 666.6l5-5.3 12.1-14.3 5.4-5.2 7.5-6 5-3.2 5-2.8 12.5-6 7.5-2.9 7.5-1.8 5-.7 5-.2 7.5 .4 10 1.7 22.5 4.6 7.5 1.9 7.5 2.4 27.5 10.1M960.6 674.2l7.5-7.5 13.4-17.2 4.8-5 6.8-5.6 7.5-4.7 7.5-3.5 10-3.6 5-1.4 5-1 10-1.1 5 .1 17.5 2.4 17.5 3.3 7.5 2 8.7 3.1 17.8 7.5 8.5 4M960.6 681.4l7.5-7.1 4.5-4.8 8.6-12.5 4.4-5.6 4.1-4.4 5.8-5 5.1-3.3 7.5-3.5 7.5-2.6 10-2.3 10-1 12.5 .2 17.5 1.9 12.5 2.3 7.5 2.3 10 4.1 13.9 6.9 11.1 6.3M960.6 688.8l15-15.5 2.5-3.3 8.5-13 4.1-5 5.1-5 4.8-3.7 5-2.7 7.5-2.6 10-2.3 10-1.1 17.5 0 15 1.2 7.5 1.1 5 1.2 7.5 2.5 10 4.8 11 6.6 14 9.4M960.6 696.7l17.5-19.7 3.7-5 8.8-13.1 3.6-4.4 3.9-3.8 5-3.9 4.5-2.3 5.5-1.8 7.5-1.7 5-.7 7.5-.6 20-.2 15 1.1 5 .8 5 1.1 7.5 3 5 2.7 5 3.1 7.8 5.7 9.7 7.8 7.5 5.2M960.6 705.9l21-26.4 11.5-16.6 5-5.9 5-4.4 5-3 5-1.8 7.5-1.7 12.5-1.4 20-.3 7.5 .3 7.5 .7 5 .8 5 1.3 7.5 3.5 7.5 5 4.3 3.5 13.2 12.3 10 7.4M960.6 716.7l17.2-24.7 9.3-12.5 8.5-12.2 4.4-5.3 3.1-2.9 5-3.4 5-2.2 7.5-1.9 7.5-1 7.5-.6 17.5-.3 12.5 .6 5 .7 5 1.2 5 2 2.5 1.4 5.6 3.9 5.5 5 8.9 9.7 5 4.8 5 4.2 7.5 5.5M962.5 727l8.1-12.4 15-24.9 15-20.3 2.5-2.8 2.5-2.2 5-3.1 5-2 7.5-1.7 7.5-1 10-.9 15-.1 7.5 .2 5 .6 3.1 .6 4.4 1.3 5 2.5 5.1 3.7 4.9 5 10 12.1 5 5.2 7.5 6.6 7.5 5.5M972.6 727l7-12.5 8.5-17.1 2.5-4.4 10-13.1 4.6-5.4 2.9-2.8 2.5-1.7 5-2.5 5-1.5 9.2-1.5 18.3-1.6 12.5-.4 7.5 .7 5 1.3 2.5 1 2.5 1.3 2.5 1.9 3.4 3.3 4.2 5 9.1 12.5 5.8 6.3 7.5 6.6 10 7.4M984 727l5-10 6.6-14.5 3.1-5.5 3.6-5 3.3-4 3.5-3.5 4-3.3 5-2.7 5-1.5 15-2.1 15.5-2.9 7-.6 5 .2 5 1.1 3.7 1.8 3.3 2.5 3 3.1 2.5 3.2 7.4 11.2 1.9 2.5 5.7 6.4 5 4.8 5 4.4 5 3.9 7.5 5.3M1000.4 727l5.2-7.7 5-6.6 5-5 2.5-1.7 5-2.4 10-2.8 2.5-1.2 2.5-1.4 8.4-6.2 6.6-4.1 5-2.1 5-.9 2.5 .1 2.5 .5 2.5 1 2.5 1.7 2.5 2.5 10.3 13.8 7.2 8.5 7.5 7.4 8.1 6.6" fill="none" stroke="#4a5256" stroke-width="1.4" stroke-linejoin="round"/></g>
<path d="M967.2 628C960 625 960.3 627.5 960.3 634.5L960.3 658.5C960.3 666 961.3 666.5 969 663" fill="#f2f7fd" stroke="#000" stroke-width="2.8" stroke-linejoin="round"/>
<path d="M1114 628C1121.2 625 1120.9 627.5 1120.9 634.5L1120.9 658.5C1120.9 666 1119.9 666.5 1112.2 663" fill="#f2f7fd" stroke="#000" stroke-width="2.8" stroke-linejoin="round"/>
<path d="M1029.1 571.3L1037 563.1Q1040.6 559 1044.2 563.1L1052.1 571.3" fill="none" stroke="#000" stroke-width="2.9" stroke-linejoin="round" stroke-linecap="round"/>
<ellipse cx="1040.6" cy="644.5" rx="73.7" ry="76.2" fill="none" stroke="#000" stroke-width="3.1"/>
<g fill="#111"><circle cx="1008.4" cy="606.2" r="1.9"/><circle cx="1040.6" cy="608.1" r="1.9"/><circle cx="1072.8" cy="606.2" r="1.9"/><circle cx="985.2" cy="623.3" r="1.9"/><circle cx="1021.8" cy="625.7" r="1.9"/><circle cx="1040.6" cy="626.2" r="1.9"/><circle cx="1059.4" cy="625.7" r="1.9"/><circle cx="1096.0" cy="623.3" r="1.9"/><circle cx="985.2" cy="665.3" r="1.9"/><circle cx="1022.1" cy="663.5" r="1.9"/><circle cx="1059.1" cy="663.5" r="1.9"/><circle cx="1096.0" cy="665.3" r="1.9"/><circle cx="1018.1" cy="714.8" r="1.9"/><circle cx="1040.6" cy="718.5" r="1.9"/><circle cx="1063.1" cy="714.8" r="1.9"/><circle cx="981.1" cy="601.0" r="1.4"/><circle cx="1100.1" cy="601.0" r="1.4"/><circle cx="976.8" cy="619.9" r="1.4"/><circle cx="1104.4" cy="619.9" r="1.4"/><circle cx="1040.6" cy="573.6" r="1.4"/><circle cx="1029.3" cy="575.5" r="1.4"/><circle cx="1051.9" cy="575.5" r="1.4"/><circle cx="1017.9" cy="578.4" r="1.4"/><circle cx="1063.3" cy="578.4" r="1.4"/><circle cx="974.4" cy="667.2" r="1.4"/><circle cx="1106.8" cy="667.2" r="1.4"/><circle cx="983.9" cy="686.1" r="1.4"/><circle cx="1097.3" cy="686.1" r="1.4"/><circle cx="998.1" cy="701.2" r="1.4"/><circle cx="1083.1" cy="701.2" r="1.4"/></g><g fill="#fff"><circle cx="1001.8" cy="644.5" r="4.3"/><circle cx="1040.6" cy="644.5" r="4.3"/><circle cx="1079.4" cy="644.5" r="4.3"/><circle cx="1008.4" cy="683.1" r="4.3"/><circle cx="1040.6" cy="681.1" r="4.3"/><circle cx="1072.8" cy="683.1" r="4.3"/></g>
<defs><clipPath id="cB3"><ellipse cx="1218.7" cy="644" rx="76.3" ry="78.4"/></clipPath></defs>
<ellipse cx="1219" cy="644.5" rx="80.2" ry="82.7" fill="#eaf2fb"/>
<g clip-path="url(#cB3)"><g filter="url(#tb)"><rect x="1135" y="556.5" width="168" height="176" fill="#00d0ff"/><path d="M1139 560.4l2.2-3.9 161.8 0 0 176-168 0 0-165.5 3.9-6.5z" fill="#09f0ee"/><path d="M1151 556.5l152 0 0 176-168 0 0-150.8 6.1-9.2 8.8-16z" fill="#23ffd4"/><path d="M1159 556.5l144 0 0 176-168 0 0-138.8 5-5.2 5.5-8 12.6-24z" fill="#3cffba"/><path d="M1167 556.5l136 0 0 176-168 0 0-129.5 3.5-2.5 4.7-4 3.5-4 2.7-4 16.5-32z" fill="#56ffa0"/><path d="M1175 556.5l128 0 0 176-168 0 0-122.2 9.4-5.8 4.7-4 3.4-4 4.8-8 9.6-20 6.8-12z" fill="#70ff87"/><path d="M1183 556.5l103.7 0 16.3 15 0 161-168 0 0-115.9 14.1-8.1 4.8-4 3.4-4 5.1-8 11.7-24 7.8-12z" fill="#8aff6d"/><path d="M1191 556.5l79.4 0 9.3 8 23.3 21.6 0 146.4-168 0 0-110.2 17.2-9.8 5.1-4 3.8-4 5.9-8.3 12.1-23.7 5.3-8 6.6-8z" fill="#a4ff53"/><path d="M1199 559l3.1-2.5 50.5 0 6.4 4.4 8 6.5 36 32.2 0 132.9-168 0 0-104.6 18.8-11.4 5.2-3.6 4.9-4.4 3.7-4 5.9-8 8.4-16 5.1-8 4-5.1 6.4-6.9z" fill="#beff39"/><path d="M1215 558.9l4-1.1 4-.4 4 .2 4 .7 6.5 2.2 7.5 4 11.1 8 14.9 12.8 20 15.7 12 10.8 0 120.7-168 0 0-99 6.7-5 19.1-12 9.6-8 7.2-8 2.8-4 6.9-12 7.7-10.1 8-8.1 4-3.2 4.3-2.6z" fill="#d7ff1f"/><path d="M1219 568.4l4-.1 4 .8 7.8 3.4 4.2 2.6 23.4 17.4 12.6 7.4 8 5.2 9.2 7.4 10.8 10.6 0 109.4-168 0 0-92.8 8.1-7.2 24.2-16 10.1-8 7.7-8 9.9-12.9 8-8.5 8-6.8 4-2.3 3.8-1.5z" fill="#f1fc06"/><path d="M1211 587.5l4-1.8 4-1 4 0 4 .7 8 3.6 19.1 11.5 8.9 2.8 8 3.1 8 4.5 7.2 5.6 4.8 4.5 12 12.8 0 98.7-168 0 0-85.4 5.3-6.6 4.3-4 6.4-4.8 28.8-19.2 5.1-4 14.1-12.7 8-5.9 2.4-1.4z" fill="#ffde00"/><path d="M1211 599.4l8-1.5 4 0 8 1.3 8 2.8 12 5.2 12 3 8 3.2 5.2 3.1 6.8 5.3 6.5 6.7 9.5 11.1 4 4 0 88.9-168 0 0-75.2 7.7-12.8 3.6-4 4.7-4 11.2-8 19.4-12 13.4-9.2 8-4.7 5.1-2.1z" fill="#ffc100"/><path d="M1207 608.3l4-.9 8-.8 8 0 4 .4 4 .8 16 4.7 8 1.9 8 3 5.6 3.1 6.4 5 6.6 7 9.4 11.9 8 8 0 80.1-168 0 0-63.6 4-6.3 6.8-14.1 2.8-4 3.9-4 4.7-4 9.8-7.1 28-16.1 8-3.7 3.5-1.1z" fill="#ffa300"/><path d="M1203 615.1l8-1.8 12-.7 8 .2 8 1.3 16 3.8 8 2.8 8 4.6 4 3.2 4 4 12 15.5 12 12.7 0 71.8-168 0 0-54 5.2-6 2.8-4 2-4 4.6-12 2.1-4 3-4 3.8-4 8.5-7 7.9-5 16.1-8.3 8.3-3.7z" fill="#ff8600"/><path d="M1203 620l4-1.1 8-1.1 12-.3 12 1.3 12 2.5 8 2.4 4 1.9 4 2.4 4 3 5.5 5.5 14.5 19.2 12 13.3 0 63.5-168 0 0-45.6 8-8.7 4.6-5.7 2.2-4 3.8-12 3.7-8 3-4 3.7-4 4.7-4 5.8-4 12.5-6.3 8-3.5 6.4-2.2z" fill="#ff6800"/><path d="M1203 624.5l8-1.7 12-.9 8 .4 12 1.6 8 1.7 8 2.8 6.9 4.1 5.1 4.5 6.3 7.5 13.7 19.3 12 13.7 0 55-168 0 0-37.6 12-13.5 4-5 2.6-3.9 1.7-4 3.3-12 1.7-4 2.2-4 3-4 3.8-4 5.1-4 4.6-2.8 12-5.3 11.8-3.9z" fill="#ff4a00"/><path d="M1207 627.9l8-1.2 8-.4 12 .8 12 1.9 8 2.3 4 1.8 5.2 3.4 4.3 4 6.5 8 12 18.4 4 5.5 12 14.1 0 46-168 0 0-29.1 16-19.7 5.1-7.2 2.9-6.1 4.3-13.9 1.7-4 2.4-4 3.1-4 4.2-4 6.1-4 10.2-4.2 13.4-3.8z" fill="#ff2d00"/><path d="M1207 632.4l8-1.2 8-.3 12 .8 12 1.8 8 2.4 4 2.1 4 3 3.5 3.5 6 8 14.5 23.3 8 10.8 8 9.5 0 36.4-168 0 0-20.1 12-15.6 12-17.6 3.4-6.7 5.4-16 1.9-4 2.6-4 3.3-4 3.4-2.8 4-2.4 8-3 15.7-3.8z" fill="#fa0f00"/><path d="M1215 636.2l8-.3 8 .3 8 .7 8 1.3 8 2.7 4 2.5 4 3.8 6.9 9.3 13.1 22.6 8 12.3 6.7 9.1 5.3 6.2 0 25.8-168 0 0-10.4 12-16 15.7-25.6 3.8-8 6-16 2.1-4 2.9-4 4.2-4 5.3-2.7 4-1.3 8-1.8 13.7-2.2z" fill="#d60000"/><path d="M1195 644.4l8-1.3 12-1 12-.4 8 .2 8 .8 7.6 1.8 4.4 2.2 2.3 1.8 5.7 6.3 4 5.8 16 29.5 8 13.3 6.9 9.1 5.1 5.6 0 14.4-168 0 12-15.7 8-13.1 14.3-27.2 5.7-14.6 4-7.6 4-4.7 1.4-1.1 2.6-1.5 7.6-2.5z" fill="#b20000"/><path d="M1219 648.4l16-.4 8 .7 4 1 4 1.7 4 2.7 5.7 6.4 5.1 8 6.1 12 9 20 4.3 8 5.5 8 3.3 4 9 9.2 0 2.8-159.1 0 7.1-9.8 6.2-10.2 3.9-8 5-12 6.3-12 6.6-15.4 4-6.8 4-4.2 4-2.3 4-1.3 8-1.4 12.6-.6z" fill="#8d0000"/></g><path d="M1270.7 562l28.3 25.9M1139 622l12.5-7 4.5-3 2.9-2.5 4.8-5 3.8-5 3-5 7.5-15 3.5-6.1 4.3-6.4 4-5M1250.9 562l5.6 4.1 5 4 16.3 14.4 21.2 18M1139 627.9l20-12.4 4.5-3.5 5.3-5 4.4-5 3.5-5 7.3-13.4 5-7.5 7.5-9 5.3-5.1M1139 633.9l6-4.4 19.4-12.5 9.4-7.5 7.4-7.5 3.8-5 6.5-9.6 2.2-2.9 7.8-8.6 5-4.7 5-3.6 5-2.5 2.5-.6 5-.2 5 1 5 1.9 5 2.7 10 7 17.5 13.9 15 9.9 5 3.7 6.2 5.1 6.3 5.9M1139 640.6l3.7-3.6 6.3-4.9 23-15.1 7-5 6.1-5 13.9-13.5 7.5-6.1 5-3.2 2.5-1.3 5-1.6 2.5-.2 2.5 .2 2.5 .6 5 2 7.5 4.4 10 6.8 5 3 2.9 1.4 12.1 4.5 7.5 3.8 5 3.2 5 4 5 4.6 7.5 7.9M1139 649.6l3.4-5.1 4.6-5 6.1-5 10.9-7.5 16.3-10 16.2-11.1 5-3 5-2.5 5-1.8 5-1.1 2.5-.3 5 .1 7.5 1.5 7.5 2.7 12.2 5.5 12.8 3.1 7.5 3.1 6.2 3.8 6.1 5 4.9 5 10.3 12M1139 663.5l5.4-11.5 2.7-5 1.9-2.5 2.3-2.5 8.9-7.5 11.3-7.6 25-14 5-2.3 5-1.7 7.5-1.4 12.5-.4 7.5 .9 15 4.3 10 2.5 7.5 2.7 3.8 2 3.7 2.4 6.1 5.1 4.6 5 9.3 11.9 5 5.2M1139 675.9l3.2-3.9 3.1-5 1.2-2.6 3.5-9.9 2.3-5 3.5-5 2.3-2.5 5.5-5 5.4-4.1 5-3.1 17.5-8.9 10-4.2 5-1.5 5-.9 12.5-.7 5 .1 5 .6 7.5 1.4 12.5 2.9 5 1.5 5 2.1 4.1 2.3 3.4 2.3 5.8 5.2 4.3 5 9.9 13.1 7.5 8.3M1139 685.3l7.4-8.3 3.7-5 1.4-2.5 .9-2.5 2.8-10 2-5 2.9-5 2-2.5 4.8-5 4.6-3.7 5-3.2 5-2.6 7.5-3.3 7.5-3.1 5-1.6 5-1.4 7.5-1.2 5-.3 7.5-.1 5 .4 7.5 .9 7.5 1.4 7.5 1.8 5 1.8 5 2.5 5.8 4.2 5.1 5 4.1 5 10 13.9 5 6.2 5 5.6M1139 694.3l10-11.9 5.8-7.9 2.4-5 3.5-12.5 2.1-5 3.1-5 4.3-5 2.8-2.5 3.5-2.5 5-2.8 5-2.2 7.5-2.8 7.5-2.3 7.5-1.7 5-.7 5-.4 7.5 0 7.5 .6 7.5 1 7.5 1.4 5 1.4 5 2.1 2.5 1.4 3.7 2.5 3 2.5 4.6 5 3.8 5 12.4 18.2 5 6.4 5 5.8M1139 703.9l12.5-16.4 7.1-10.5 2.4-5 4-12.5 1.9-5 2.8-5 4.3-5.4 2.5-2.3 3.2-2.3 4.3-2.2 5-1.9 12.5-3.6 7.5-1.5 7.5-1.1 5-.2 7.5 .3 15 1.8 5 1 5 1.6 5 2.4 2.5 1.6 4.9 4.3 4.3 5 5.1 7.5 10.7 17.1 5 6.8 7.5 9.3M1139 714.6l10-14 12.5-19.9 2-3.7 2.1-5 3.5-10 2.4-6 2.5-4.6 3.3-4.4 4.2-3.7 2.5-1.4 5-1.9 12.5-3 15-2.3 5-.2 7.5 .3 7.5 .6 7.5 1 7.5 1.8 5 2.1 2.6 1.7 4.9 4.6 4.2 5.4 4.9 7.5 10.9 18.7 7.5 11.2 7.5 9.9M1139 726.4l7.5-10.1 7.5-12.1 13.3-24.7 2.3-5 5.9-15 2.7-5 1.7-2.5 1.6-1.9 2.5-2.2 2.5-1.4 2.5-1 7.5-2 12.5-1.7 15-.8 7.5 0 7.5 .5 5 .7 5 1.1 5 2 2.5 1.6 5 5 5 6.9 3.4 5.7 11.6 21.4 6.4 11.1 6.1 9.1 5 6.2M1148.2 727l5.8-8.7 4.9-8.8 2.6-5.6 4.9-11.9 6.5-12.5 6.5-15 2.9-5 1.7-2.4 2.5-2.5 2.5-1.7 2.5-1.2 2.5-.9 5-1.1 7.5-.8 25-.8 5 .1 5 .4 4.4 .9 3.1 1 2.5 1.2 2.5 1.7 2.5 2.3 2.5 2.7 4.3 6.1 4.3 7.5 4.9 10 7.7 17.5 3.9 7.5 3.1 5 3.7 5 8.1 9.1M1158.2 727l4.6-7.5 3.9-7.5 2-5 5.2-15 7.6-16.3 3.2-6.2 1.8-2.7 2.5-2.9 2.5-2.1 2.5-1.5 2.5-1.1 5-1.1 5-.5 12.5-.3 15-.8 7.5 .6 5 1.5 2.5 1.2 2.5 1.7 2.5 2.2 2.9 3.3 4.6 7.1 3.7 7.9 3.5 10 3.5 12.5 3.2 7.5 4.7 7.5 6 7.5M1169.1 727l6.3-10 3.7-7.5 4.8-17.5 2.6-6.5 3.5-6 1.5-2.1 2.5-2.6 2.5-1.9 2.5-1.4 5-1.4 5-.6 10-.2 10-1.4 5-.4 5 .3 2.5 .5 3.3 1.2 4.2 2.6 2.5 2.3 2.5 3.1 2.6 4.5 1 2.5 1.4 5 .5 5 .5 12.5 1.4 5 1.2 2.5 3.2 5 5.9 7.5M1181.2 727l5.3-7.5 3.1-5 2.3-5 4.6-11.3 2.5-4.1 2.5-2.7 2.5-1.9 2.5-1.2 4.1-1.3 15.9-2.2 5-.4 5 .5 2.5 .9 2.5 1.5 1.8 2.2 1.1 2.5 .4 2.5 .6 10 .8 5 .8 2.5 2 4.5 1.8 3 5.8 7.5M1193.7 727l7.8-11.5 2.5-3.1 2.5-2.4 2.5-1.7 2.5-1.2 2.5-.8 5-.4 5 .3 2.5 .7 2.5 1.2 2.5 2 2.5 2.7 2.5 3.6 6.7 10.6" fill="none" stroke="#4a5256" stroke-width="1.4" stroke-linejoin="round"/></g>
<path d="M1145.6 628C1138.4 625 1138.7 627.5 1138.7 634.5L1138.7 658.5C1138.7 666 1139.7 666.5 1147.4 663" fill="#f2f7fd" stroke="#000" stroke-width="2.8" stroke-linejoin="round"/>
<path d="M1292.4 628C1299.6 625 1299.3 627.5 1299.3 634.5L1299.3 658.5C1299.3 666 1298.3 666.5 1290.6 663" fill="#f2f7fd" stroke="#000" stroke-width="2.8" stroke-linejoin="round"/>
<path d="M1207.5 571.3L1215.4 563.1Q1219 559 1222.6 563.1L1230.5 571.3" fill="none" stroke="#000" stroke-width="2.9" stroke-linejoin="round" stroke-linecap="round"/>
<ellipse cx="1219" cy="644.5" rx="73.7" ry="76.2" fill="none" stroke="#000" stroke-width="3.1"/>
<g fill="#111"><circle cx="1186.8" cy="606.2" r="1.9"/><circle cx="1219.0" cy="608.1" r="1.9"/><circle cx="1251.2" cy="606.2" r="1.9"/><circle cx="1163.6" cy="623.3" r="1.9"/><circle cx="1200.2" cy="625.7" r="1.9"/><circle cx="1219.0" cy="626.2" r="1.9"/><circle cx="1237.8" cy="625.7" r="1.9"/><circle cx="1274.4" cy="623.3" r="1.9"/><circle cx="1163.6" cy="665.3" r="1.9"/><circle cx="1200.5" cy="663.5" r="1.9"/><circle cx="1237.5" cy="663.5" r="1.9"/><circle cx="1274.4" cy="665.3" r="1.9"/><circle cx="1196.5" cy="714.8" r="1.9"/><circle cx="1219.0" cy="718.5" r="1.9"/><circle cx="1241.5" cy="714.8" r="1.9"/><circle cx="1159.5" cy="601.0" r="1.4"/><circle cx="1278.5" cy="601.0" r="1.4"/><circle cx="1155.2" cy="619.9" r="1.4"/><circle cx="1282.8" cy="619.9" r="1.4"/><circle cx="1219.0" cy="573.6" r="1.4"/><circle cx="1207.7" cy="575.5" r="1.4"/><circle cx="1230.3" cy="575.5" r="1.4"/><circle cx="1196.3" cy="578.4" r="1.4"/><circle cx="1241.7" cy="578.4" r="1.4"/><circle cx="1152.8" cy="667.2" r="1.4"/><circle cx="1285.2" cy="667.2" r="1.4"/><circle cx="1162.3" cy="686.1" r="1.4"/><circle cx="1275.7" cy="686.1" r="1.4"/><circle cx="1176.5" cy="701.2" r="1.4"/><circle cx="1261.5" cy="701.2" r="1.4"/></g><g fill="#fff"><circle cx="1180.2" cy="644.5" r="4.3"/><circle cx="1219" cy="644.5" r="4.3"/><circle cx="1257.8" cy="644.5" r="4.3"/><circle cx="1186.8" cy="683.1" r="4.3"/><circle cx="1219" cy="681.1" r="4.3"/><circle cx="1251.2" cy="683.1" r="4.3"/></g>
<g fill="#221815"><text x="35" y="33.3" font-size="33" font-weight="bold" textLength="49.8" lengthAdjust="spacingAndGlyphs" stroke="#221815" stroke-width="0.726">(A)</text>
<text x="93" y="33.3" font-size="22.2" font-weight="bold" textLength="180" lengthAdjust="spacingAndGlyphs" stroke="#221815" stroke-width="0.4884">Auditory_Visual</text>
<text x="121" y="71" font-size="23" font-weight="bold" textLength="57" lengthAdjust="spacingAndGlyphs" stroke="#221815" stroke-width="0.506">-3<tspan font-style="italic">μ</tspan>V</text>
<text x="217.2" y="71.6" font-size="20.8" font-weight="bold" textLength="28.2" lengthAdjust="spacingAndGlyphs" stroke="#221815" stroke-width="0.4576">N1</text>
<text x="0" y="0" font-size="33" font-weight="bold" text-anchor="middle" stroke="none" transform="translate(232.6 112.7) scale(1.04 1.1)">**</text>
<text x="5" y="335" font-size="23.3" font-weight="bold" textLength="54" lengthAdjust="spacingAndGlyphs" stroke="#221815" stroke-width="0.5126">-200</text>
<text x="577.3" y="335.6" font-size="23.3" font-weight="bold" textLength="85.3" lengthAdjust="spacingAndGlyphs" stroke="#221815" stroke-width="0.5126">800ms</text>
<text x="126" y="380.5" font-size="23" font-weight="bold" textLength="48" lengthAdjust="spacingAndGlyphs" stroke="#221815" stroke-width="0.506">1<tspan font-style="italic">μ</tspan>V</text>
<text x="500.2" y="70" font-size="21.8" font-weight="bold" textLength="134.8" lengthAdjust="spacingAndGlyphs" stroke="#221815" stroke-width="0.4796">10%V:40%A</text>
<text x="500.2" y="101" font-size="21.8" font-weight="bold" textLength="134.8" lengthAdjust="spacingAndGlyphs" stroke="#221815" stroke-width="0.4796">25%V:25%A</text>
<text x="500.6" y="132.8" font-size="21.8" font-weight="bold" textLength="134.4" lengthAdjust="spacingAndGlyphs" stroke="#221815" stroke-width="0.4796">40%V:10%A</text>
<text x="35" y="497.9" font-size="33" font-weight="bold" textLength="49.8" lengthAdjust="spacingAndGlyphs" stroke="#221815" stroke-width="0.726">(B)</text>
<text x="94.2" y="497.9" font-size="22" font-weight="bold" textLength="178" lengthAdjust="spacingAndGlyphs" stroke="#221815" stroke-width="0.484">Visual_Auditory</text>
<text x="125.6" y="537.2" font-size="23" font-weight="bold" textLength="80.2" lengthAdjust="spacingAndGlyphs" stroke="#221815" stroke-width="0.506">-1.5<tspan font-style="italic">μ</tspan>V</text>
<text x="280" y="535.6" font-size="19.5" font-weight="bold" textLength="29.5" lengthAdjust="spacingAndGlyphs" stroke="#221815" stroke-width="0.429">P2</text>
<text x="0" y="0" font-size="32" font-weight="bold" text-anchor="middle" stroke="none" transform="translate(294.2 571.2) scale(1.04 1.1)">*</text>
<text x="13" y="734.2" font-size="23.3" font-weight="bold" textLength="54.5" lengthAdjust="spacingAndGlyphs" stroke="#221815" stroke-width="0.5126">-200</text>
<text x="584.3" y="737.2" font-size="23.3" font-weight="bold" textLength="85.3" lengthAdjust="spacingAndGlyphs" stroke="#221815" stroke-width="0.5126">800ms</text>
<text x="130" y="845" font-size="23" font-weight="bold" textLength="72.5" lengthAdjust="spacingAndGlyphs" stroke="#221815" stroke-width="0.506">1.5<tspan font-style="italic">μ</tspan>V</text>
<text x="507" y="524" font-size="21.8" font-weight="bold" textLength="134.5" lengthAdjust="spacingAndGlyphs" stroke="#221815" stroke-width="0.4796">10%V:40%A</text>
<text x="509.5" y="556.3" font-size="21.8" font-weight="bold" textLength="134" lengthAdjust="spacingAndGlyphs" stroke="#221815" stroke-width="0.4796">25%V:25%A</text>
<text x="510.2" y="591.4" font-size="21.8" font-weight="bold" textLength="133.4" lengthAdjust="spacingAndGlyphs" stroke="#221815" stroke-width="0.4796">40%V:10%A</text>
<text x="777.2" y="116.4" font-size="25" font-weight="bold" textLength="155.6" lengthAdjust="spacingAndGlyphs" stroke="#221815" stroke-width="0.55">10%V:40%A</text>
<text x="964.9" y="116.4" font-size="25" font-weight="bold" textLength="155.5" lengthAdjust="spacingAndGlyphs" stroke="#221815" stroke-width="0.55">25%V:25%A</text>
<text x="1150.6" y="116.4" font-size="25" font-weight="bold" textLength="155" lengthAdjust="spacingAndGlyphs" stroke="#221815" stroke-width="0.55">40%V:10%A</text>
<text x="786.2" y="551.7" font-size="25" font-weight="bold" textLength="157" lengthAdjust="spacingAndGlyphs" stroke="#221815" stroke-width="0.55">10%V:40%A</text>
<text x="972.4" y="550.5" font-size="25" font-weight="bold" textLength="155.6" lengthAdjust="spacingAndGlyphs" stroke="#221815" stroke-width="0.55">25%V:25%A</text>
<text x="1150.2" y="551.7" font-size="25" font-weight="bold" textLength="157.2" lengthAdjust="spacingAndGlyphs" stroke="#221815" stroke-width="0.55">40%V:10%A</text>
<text x="1340" y="212.5" font-size="36.5" font-weight="bold" textLength="189" lengthAdjust="spacingAndGlyphs" stroke="#221815" stroke-width="0.803">150-170 ms</text>
<text x="1397" y="249.6" font-size="36" font-weight="bold" font-style="italic" textLength="42.5" lengthAdjust="spacingAndGlyphs" stroke="#221815" stroke-width="0.792">N1</text>
<text x="1339.5" y="652.5" font-size="36.5" font-weight="bold" textLength="189.5" lengthAdjust="spacingAndGlyphs" stroke="#221815" stroke-width="0.803">200-250 ms</text>
<text x="1397.5" y="698.7" font-size="36" font-weight="bold" font-style="italic" textLength="42" lengthAdjust="spacingAndGlyphs" stroke="#221815" stroke-width="0.792">P2</text>
<text x="782.5" y="367.8" font-size="34.5" font-weight="normal" textLength="61" lengthAdjust="spacingAndGlyphs">-1.5</text>
<text x="1232.5" y="366" font-size="34.5" font-weight="normal" textLength="48" lengthAdjust="spacingAndGlyphs">1.5</text>
<text x="1021.5" y="368.8" font-size="35" font-weight="bold" textLength="45" lengthAdjust="spacingAndGlyphs" stroke="#221815" stroke-width="0.77">μV</text>
<text x="798" y="809.6" font-size="35" font-weight="normal" textLength="29" lengthAdjust="spacingAndGlyphs">-1</text>
<text x="1242.5" y="815" font-size="35" font-weight="normal">1</text>
<text x="1015.5" y="818.6" font-size="35" font-weight="bold" textLength="44" lengthAdjust="spacingAndGlyphs" stroke="#221815" stroke-width="0.77">μV</text>
</g>
</svg></body></html>
